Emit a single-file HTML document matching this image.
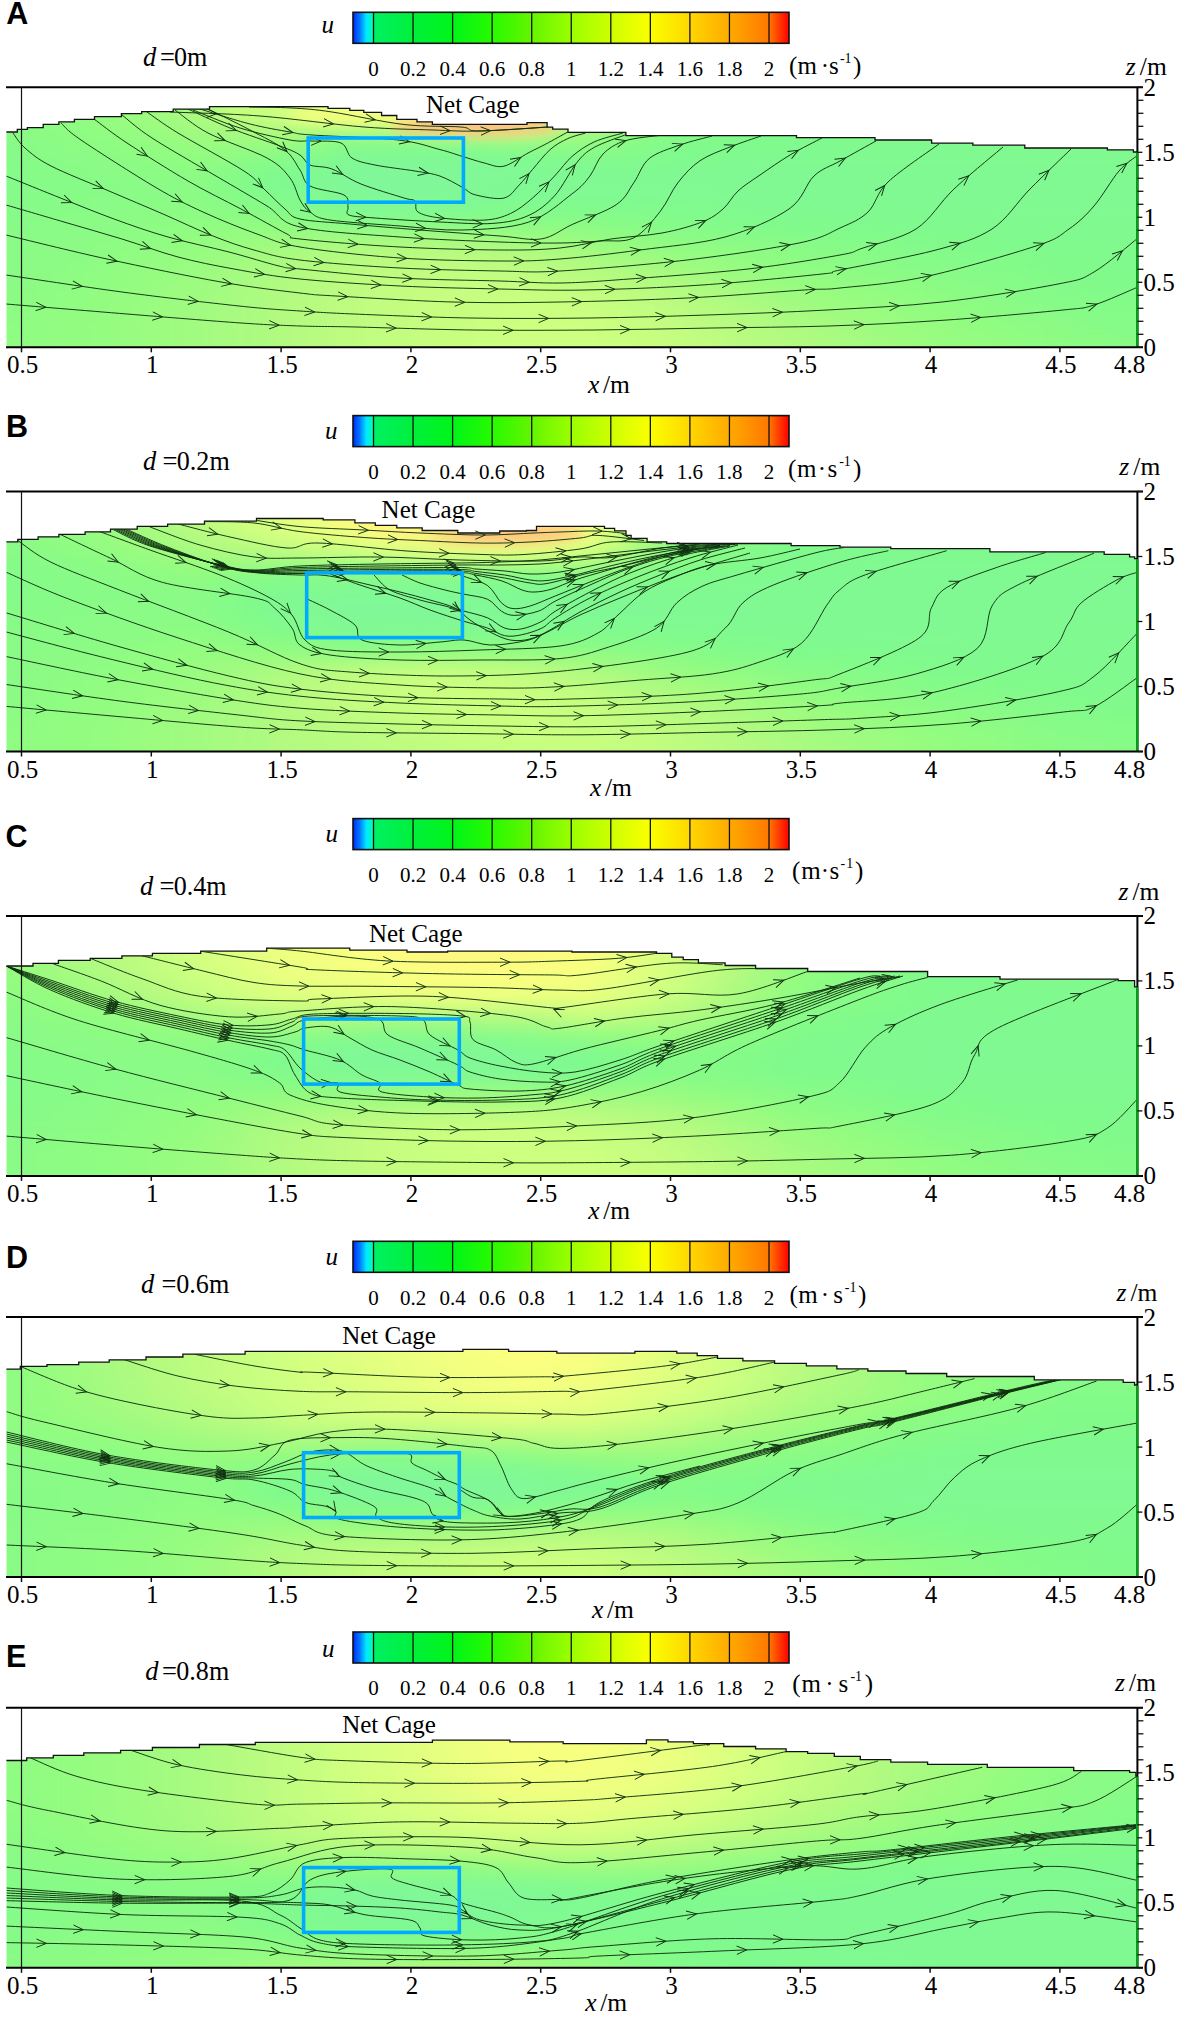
<!DOCTYPE html><html><head><meta charset="utf-8"><style>html,body{margin:0;padding:0;background:#fff;overflow:hidden;}
svg{display:block}
.tk{font-family:"Liberation Serif","Times New Roman",serif;fill:#000}
.it{font-family:"Liberation Serif","Times New Roman",serif;font-style:italic}
.lab{font-family:"Liberation Sans",Arial,sans-serif;font-weight:bold;font-size:30.5px;fill:#000}
.div{stroke:#111;stroke-width:1.3}
.ax{stroke:#000;stroke-width:2}
.sl path{fill:none;stroke:#0f300f;stroke-width:0.95}
.ar path{fill:none;stroke:#0f300f;stroke-width:0.95}
</style></head><body><svg width="1181" height="2019" viewBox="0 0 1181 2019"><defs><linearGradient id="cbg" x1="353" x2="789" y1="0" y2="0" gradientUnits="userSpaceOnUse"><stop offset="0.0000" stop-color="#0028ff"/><stop offset="0.0153" stop-color="#0078ff"/><stop offset="0.0311" stop-color="#00ebff"/><stop offset="0.0466" stop-color="#00ffaa"/><stop offset="0.0470" stop-color="#00f064"/><stop offset="0.1377" stop-color="#00f03c"/><stop offset="0.2284" stop-color="#00f519"/><stop offset="0.3192" stop-color="#28fa00"/><stop offset="0.4099" stop-color="#64f500"/><stop offset="0.5006" stop-color="#9bff00"/><stop offset="0.5913" stop-color="#cdff00"/><stop offset="0.6820" stop-color="#faff00"/><stop offset="0.7727" stop-color="#ffd700"/><stop offset="0.8634" stop-color="#ffaa00"/><stop offset="0.9541" stop-color="#ff7800"/><stop offset="0.9995" stop-color="#ff0000"/></linearGradient><filter id="blur" x="-5%" y="-20%" width="110%" height="140%"><feGaussianBlur stdDeviation="9"/></filter><filter id="blur2" x="-50%" y="-50%" width="200%" height="200%"><feGaussianBlur stdDeviation="6"/></filter></defs><text x="6.3" y="23.9" class="lab">A</text>
<text x="321.5" y="32.5" class="it" font-size="25">u</text>
<rect x="353" y="12.3" width="436" height="31" fill="url(#cbg)"/>
<line x1="373.50" x2="373.50" y1="12.3" y2="43.3" class="div"/>
<line x1="413.05" x2="413.05" y1="12.3" y2="43.3" class="div"/>
<line x1="452.60" x2="452.60" y1="12.3" y2="43.3" class="div"/>
<line x1="492.15" x2="492.15" y1="12.3" y2="43.3" class="div"/>
<line x1="531.70" x2="531.70" y1="12.3" y2="43.3" class="div"/>
<line x1="571.25" x2="571.25" y1="12.3" y2="43.3" class="div"/>
<line x1="610.80" x2="610.80" y1="12.3" y2="43.3" class="div"/>
<line x1="650.35" x2="650.35" y1="12.3" y2="43.3" class="div"/>
<line x1="689.90" x2="689.90" y1="12.3" y2="43.3" class="div"/>
<line x1="729.45" x2="729.45" y1="12.3" y2="43.3" class="div"/>
<line x1="769.00" x2="769.00" y1="12.3" y2="43.3" class="div"/>
<rect x="353" y="12.3" width="436" height="31" fill="none" stroke="#111" stroke-width="1.6"/>
<text x="373.50" y="75.5" class="tk" text-anchor="middle" font-size="21">0</text>
<text x="413.05" y="75.5" class="tk" text-anchor="middle" font-size="21">0.2</text>
<text x="452.60" y="75.5" class="tk" text-anchor="middle" font-size="21">0.4</text>
<text x="492.15" y="75.5" class="tk" text-anchor="middle" font-size="21">0.6</text>
<text x="531.70" y="75.5" class="tk" text-anchor="middle" font-size="21">0.8</text>
<text x="571.25" y="75.5" class="tk" text-anchor="middle" font-size="21">1</text>
<text x="610.80" y="75.5" class="tk" text-anchor="middle" font-size="21">1.2</text>
<text x="650.35" y="75.5" class="tk" text-anchor="middle" font-size="21">1.4</text>
<text x="689.90" y="75.5" class="tk" text-anchor="middle" font-size="21">1.6</text>
<text x="729.45" y="75.5" class="tk" text-anchor="middle" font-size="21">1.8</text>
<text x="769.00" y="75.5" class="tk" text-anchor="middle" font-size="21">2</text>
<text x="788.9" y="73.5" class="tk" font-size="25">(</text>
<text x="797.4" y="73.5" class="tk" font-size="25">m</text>
<text x="825" y="73.5" class="tk" font-size="25" text-anchor="middle">&#183;</text>
<text x="829" y="73.5" class="tk" font-size="25">s</text>
<text x="839.9" y="62.5" class="tk" font-size="14">-</text>
<text x="844.5" y="62.5" class="tk" font-size="14">1</text>
<text x="853" y="73.5" class="tk" font-size="25">)</text>
<text x="143" y="65.8" class="it" font-size="26.5">d</text>
<text x="159.9" y="65.8" class="tk" font-size="26.5">=</text>
<text transform="translate(173.9,65.8) scale(0.985,1)" class="tk" font-size="26.5">0m</text>
<text x="1125.8" y="74.8" class="it" font-size="25.5">z</text>
<text x="1139.8" y="74.8" class="tk" font-size="25.5">/m</text>
<clipPath id="cl0"><path d="M6.5,347.3 L6.4,132.0 L17.3,132.0 L17.3,129.4 L27.4,129.4 L27.4,127.7 L43.2,127.7 L43.2,124.4 L58.9,124.4 L58.9,121.8 L74.4,121.8 L74.4,119.3 L94.5,119.3 L94.5,116.7 L121.4,116.7 L121.4,113.7 L141.7,113.7 L141.7,111.7 L173.2,111.7 L173.2,109.1 L209.5,109.1 L209.5,106.6 L328.0,106.6 L328.0,108.4 L349.8,108.4 L349.8,110.4 L363.8,110.4 L363.8,112.4 L381.6,112.4 L381.6,115.5 L396.8,115.5 L396.8,119.3 L417.0,119.3 L417.0,121.8 L432.4,121.8 L432.4,124.4 L527.0,124.4 L527.0,122.6 L547.1,122.6 L547.1,127.2 L552.7,127.2 L552.7,129.2 L568.0,129.2 L568.0,132.3 L625.9,132.3 L625.9,135.6 L796.5,135.6 L796.5,137.6 L875.0,137.6 L875.0,140.0 L931.6,140.0 L931.6,143.1 L972.9,143.1 L972.9,145.2 L1024.8,145.2 L1024.8,148.0 L1107.4,148.0 L1107.4,149.8 L1133.4,149.8 L1133.4,152.0 L1138.0,152.0 L1138,347.3 Z"/></clipPath>
<g clip-path="url(#cl0)"><g filter="url(#blur)"><rect x="-30" y="57" width="31" height="21" fill="#8afb86"/><rect x="0" y="57" width="31" height="21" fill="#8afb85"/><rect x="30" y="57" width="31" height="21" fill="#8efc83"/><rect x="60" y="57" width="31" height="21" fill="#91fc81"/><rect x="90" y="57" width="31" height="21" fill="#95fc80"/><rect x="120" y="57" width="31" height="21" fill="#9efc80"/><rect x="150" y="57" width="31" height="21" fill="#a6fb80"/><rect x="180" y="57" width="31" height="21" fill="#affa80"/><rect x="210" y="57" width="31" height="21" fill="#b9fb80"/><rect x="240" y="57" width="31" height="21" fill="#c4fd80"/><rect x="270" y="57" width="31" height="21" fill="#ceff80"/><rect x="300" y="57" width="31" height="21" fill="#d8ff80"/><rect x="330" y="57" width="31" height="21" fill="#e2ff80"/><rect x="360" y="57" width="31" height="21" fill="#edff80"/><rect x="390" y="57" width="31" height="21" fill="#faff80"/><rect x="420" y="57" width="31" height="21" fill="#fef680"/><rect x="450" y="57" width="31" height="21" fill="#fef180"/><rect x="480" y="57" width="31" height="21" fill="#ffee80"/><rect x="510" y="57" width="31" height="21" fill="#fef480"/><rect x="540" y="57" width="31" height="21" fill="#eaff80"/><rect x="570" y="57" width="31" height="21" fill="#c9fe80"/><rect x="600" y="57" width="31" height="21" fill="#affa80"/><rect x="630" y="57" width="31" height="21" fill="#98fc80"/><rect x="660" y="57" width="31" height="21" fill="#89fb86"/><rect x="690" y="57" width="31" height="21" fill="#87fb87"/><rect x="720" y="57" width="31" height="21" fill="#85fb89"/><rect x="750" y="57" width="31" height="21" fill="#82fa8a"/><rect x="780" y="57" width="391" height="21" fill="#80fa8c"/><rect x="-30" y="77" width="31" height="21" fill="#8afb86"/><rect x="0" y="77" width="31" height="21" fill="#8afb85"/><rect x="30" y="77" width="31" height="21" fill="#8efc83"/><rect x="60" y="77" width="31" height="21" fill="#91fc81"/><rect x="90" y="77" width="31" height="21" fill="#95fc80"/><rect x="120" y="77" width="31" height="21" fill="#9efc80"/><rect x="150" y="77" width="31" height="21" fill="#a6fb80"/><rect x="180" y="77" width="31" height="21" fill="#affa80"/><rect x="210" y="77" width="31" height="21" fill="#b9fb80"/><rect x="240" y="77" width="31" height="21" fill="#c4fd80"/><rect x="270" y="77" width="31" height="21" fill="#ceff80"/><rect x="300" y="77" width="31" height="21" fill="#d8ff80"/><rect x="330" y="77" width="31" height="21" fill="#e2ff80"/><rect x="360" y="77" width="31" height="21" fill="#edff80"/><rect x="390" y="77" width="31" height="21" fill="#faff80"/><rect x="420" y="77" width="31" height="21" fill="#fef680"/><rect x="450" y="77" width="31" height="21" fill="#fef180"/><rect x="480" y="77" width="31" height="21" fill="#ffee80"/><rect x="510" y="77" width="31" height="21" fill="#fef480"/><rect x="540" y="77" width="31" height="21" fill="#eaff80"/><rect x="570" y="77" width="31" height="21" fill="#c9fe80"/><rect x="600" y="77" width="31" height="21" fill="#affa80"/><rect x="630" y="77" width="31" height="21" fill="#98fc80"/><rect x="660" y="77" width="31" height="21" fill="#89fb86"/><rect x="690" y="77" width="31" height="21" fill="#87fb87"/><rect x="720" y="77" width="31" height="21" fill="#85fb89"/><rect x="750" y="77" width="31" height="21" fill="#82fa8a"/><rect x="780" y="77" width="391" height="21" fill="#80fa8c"/><rect x="-30" y="97" width="31" height="21" fill="#8afb86"/><rect x="0" y="97" width="31" height="21" fill="#8afb85"/><rect x="30" y="97" width="31" height="21" fill="#8efc83"/><rect x="60" y="97" width="31" height="21" fill="#91fc81"/><rect x="90" y="97" width="31" height="21" fill="#95fc80"/><rect x="120" y="97" width="31" height="21" fill="#9efc80"/><rect x="150" y="97" width="31" height="21" fill="#a6fb80"/><rect x="180" y="97" width="31" height="21" fill="#affa80"/><rect x="210" y="97" width="31" height="21" fill="#b9fb80"/><rect x="240" y="97" width="31" height="21" fill="#c4fd80"/><rect x="270" y="97" width="31" height="21" fill="#ceff80"/><rect x="300" y="97" width="31" height="21" fill="#d8ff80"/><rect x="330" y="97" width="31" height="21" fill="#e2ff80"/><rect x="360" y="97" width="31" height="21" fill="#edff80"/><rect x="390" y="97" width="31" height="21" fill="#faff80"/><rect x="420" y="97" width="31" height="21" fill="#fef680"/><rect x="450" y="97" width="31" height="21" fill="#fef180"/><rect x="480" y="97" width="31" height="21" fill="#ffee80"/><rect x="510" y="97" width="31" height="21" fill="#fef480"/><rect x="540" y="97" width="31" height="21" fill="#eaff80"/><rect x="570" y="97" width="31" height="21" fill="#c9fe80"/><rect x="600" y="97" width="31" height="21" fill="#affa80"/><rect x="630" y="97" width="31" height="21" fill="#98fc80"/><rect x="660" y="97" width="31" height="21" fill="#89fb86"/><rect x="690" y="97" width="31" height="21" fill="#87fb87"/><rect x="720" y="97" width="31" height="21" fill="#85fb89"/><rect x="750" y="97" width="31" height="21" fill="#82fa8a"/><rect x="780" y="97" width="391" height="21" fill="#80fa8c"/><rect x="-30" y="117" width="31" height="21" fill="#8afb86"/><rect x="0" y="117" width="31" height="21" fill="#8afb85"/><rect x="30" y="117" width="31" height="21" fill="#8dfc84"/><rect x="60" y="117" width="31" height="21" fill="#8ffc82"/><rect x="90" y="117" width="31" height="21" fill="#92fc81"/><rect x="120" y="117" width="31" height="21" fill="#97fc80"/><rect x="150" y="117" width="31" height="21" fill="#9dfc80"/><rect x="180" y="117" width="31" height="21" fill="#a4fb80"/><rect x="210" y="117" width="31" height="21" fill="#aafb80"/><rect x="240" y="117" width="31" height="21" fill="#b1fa80"/><rect x="270" y="117" width="31" height="21" fill="#b6fb80"/><rect x="300" y="117" width="31" height="21" fill="#b4fb80"/><rect x="330" y="117" width="31" height="21" fill="#b2fa80"/><rect x="360" y="117" width="31" height="21" fill="#b5fb80"/><rect x="390" y="117" width="31" height="21" fill="#bcfc80"/><rect x="420" y="117" width="31" height="21" fill="#c4fd80"/><rect x="450" y="117" width="31" height="21" fill="#c9fe80"/><rect x="480" y="117" width="31" height="21" fill="#ceff80"/><rect x="510" y="117" width="31" height="21" fill="#ccff80"/><rect x="540" y="117" width="31" height="21" fill="#bdfc80"/><rect x="570" y="117" width="31" height="21" fill="#adfa80"/><rect x="600" y="117" width="31" height="21" fill="#9dfc80"/><rect x="630" y="117" width="31" height="21" fill="#8ffc82"/><rect x="660" y="117" width="31" height="21" fill="#87fb88"/><rect x="690" y="117" width="31" height="21" fill="#85fb89"/><rect x="720" y="117" width="31" height="21" fill="#83fa8a"/><rect x="750" y="117" width="31" height="21" fill="#81fa8b"/><rect x="780" y="117" width="391" height="21" fill="#80fa8c"/><rect x="-30" y="137" width="31" height="21" fill="#88fb87"/><rect x="0" y="137" width="31" height="21" fill="#88fb86"/><rect x="30" y="137" width="31" height="21" fill="#8afb85"/><rect x="60" y="137" width="31" height="21" fill="#8cfc84"/><rect x="90" y="137" width="31" height="21" fill="#8dfc83"/><rect x="120" y="137" width="31" height="21" fill="#90fc82"/><rect x="150" y="137" width="31" height="21" fill="#92fc80"/><rect x="180" y="137" width="31" height="21" fill="#95fc80"/><rect x="210" y="137" width="31" height="21" fill="#96fc80"/><rect x="240" y="137" width="31" height="21" fill="#95fc80"/><rect x="270" y="137" width="31" height="21" fill="#93fc80"/><rect x="300" y="137" width="31" height="21" fill="#8bfb85"/><rect x="330" y="137" width="31" height="21" fill="#82fa8a"/><rect x="360" y="137" width="91" height="21" fill="#80fa8d"/><rect x="450" y="137" width="31" height="21" fill="#81fa8b"/><rect x="480" y="137" width="31" height="21" fill="#85fb89"/><rect x="510" y="137" width="31" height="21" fill="#87fb87"/><rect x="540" y="137" width="31" height="21" fill="#89fb86"/><rect x="570" y="137" width="31" height="21" fill="#8bfb85"/><rect x="600" y="137" width="31" height="21" fill="#89fb86"/><rect x="630" y="137" width="31" height="21" fill="#85fb89"/><rect x="660" y="137" width="31" height="21" fill="#81fa8b"/><rect x="690" y="137" width="31" height="21" fill="#80fa8b"/><rect x="720" y="137" width="31" height="21" fill="#80fa8c"/><rect x="750" y="137" width="31" height="21" fill="#80fa8d"/><rect x="780" y="137" width="391" height="21" fill="#80fa8e"/><rect x="-30" y="157" width="31" height="21" fill="#84fb89"/><rect x="0" y="157" width="31" height="21" fill="#85fb89"/><rect x="30" y="157" width="31" height="21" fill="#87fb88"/><rect x="60" y="157" width="31" height="21" fill="#88fb87"/><rect x="90" y="157" width="31" height="21" fill="#8afb86"/><rect x="120" y="157" width="31" height="21" fill="#8bfb85"/><rect x="150" y="157" width="31" height="21" fill="#8cfc84"/><rect x="180" y="157" width="31" height="21" fill="#8efc83"/><rect x="210" y="157" width="31" height="21" fill="#8afb85"/><rect x="240" y="157" width="31" height="21" fill="#84fb89"/><rect x="270" y="157" width="31" height="21" fill="#80fa8d"/><rect x="300" y="157" width="31" height="21" fill="#80f992"/><rect x="330" y="157" width="31" height="21" fill="#80f897"/><rect x="360" y="157" width="91" height="21" fill="#80f899"/><rect x="450" y="157" width="31" height="21" fill="#80f898"/><rect x="480" y="157" width="31" height="21" fill="#80f996"/><rect x="510" y="157" width="31" height="21" fill="#80f994"/><rect x="540" y="157" width="31" height="21" fill="#80f993"/><rect x="570" y="157" width="181" height="21" fill="#80f991"/><rect x="750" y="157" width="421" height="21" fill="#80f992"/><rect x="-30" y="177" width="31" height="21" fill="#84fb89"/><rect x="0" y="177" width="31" height="21" fill="#85fb89"/><rect x="30" y="177" width="31" height="21" fill="#86fb88"/><rect x="60" y="177" width="31" height="21" fill="#87fb87"/><rect x="90" y="177" width="31" height="21" fill="#88fb87"/><rect x="120" y="177" width="61" height="21" fill="#89fb86"/><rect x="180" y="177" width="31" height="21" fill="#8afb85"/><rect x="210" y="177" width="31" height="21" fill="#86fb88"/><rect x="240" y="177" width="31" height="21" fill="#80fa8c"/><rect x="270" y="177" width="31" height="21" fill="#80f990"/><rect x="300" y="177" width="31" height="21" fill="#80f994"/><rect x="330" y="177" width="31" height="21" fill="#80f897"/><rect x="360" y="177" width="91" height="21" fill="#80f899"/><rect x="450" y="177" width="31" height="21" fill="#80f898"/><rect x="480" y="177" width="31" height="21" fill="#80f996"/><rect x="510" y="177" width="31" height="21" fill="#80f995"/><rect x="540" y="177" width="91" height="21" fill="#80f994"/><rect x="630" y="177" width="361" height="21" fill="#80f993"/><rect x="990" y="177" width="181" height="21" fill="#80f992"/><rect x="-30" y="197" width="31" height="21" fill="#86fb88"/><rect x="0" y="197" width="31" height="21" fill="#87fb88"/><rect x="30" y="197" width="31" height="21" fill="#87fb87"/><rect x="60" y="197" width="31" height="21" fill="#88fb87"/><rect x="90" y="197" width="31" height="21" fill="#89fb86"/><rect x="120" y="197" width="31" height="21" fill="#8afb85"/><rect x="150" y="197" width="31" height="21" fill="#8bfb85"/><rect x="180" y="197" width="31" height="21" fill="#8cfc84"/><rect x="210" y="197" width="31" height="21" fill="#8afb85"/><rect x="240" y="197" width="31" height="21" fill="#87fb88"/><rect x="270" y="197" width="31" height="21" fill="#83fa8a"/><rect x="300" y="197" width="31" height="21" fill="#80fa8d"/><rect x="330" y="197" width="31" height="21" fill="#80f992"/><rect x="360" y="197" width="91" height="21" fill="#80f994"/><rect x="450" y="197" width="31" height="21" fill="#80f992"/><rect x="480" y="197" width="31" height="21" fill="#80f990"/><rect x="510" y="197" width="31" height="21" fill="#80fa8f"/><rect x="540" y="197" width="31" height="21" fill="#80fa8e"/><rect x="570" y="197" width="61" height="21" fill="#80fa8d"/><rect x="630" y="197" width="31" height="21" fill="#80fa8e"/><rect x="660" y="197" width="61" height="21" fill="#80fa8f"/><rect x="720" y="197" width="31" height="21" fill="#80f990"/><rect x="750" y="197" width="421" height="21" fill="#80f991"/><rect x="-30" y="217" width="31" height="21" fill="#88fb87"/><rect x="0" y="217" width="31" height="21" fill="#88fb86"/><rect x="30" y="217" width="31" height="21" fill="#89fb86"/><rect x="60" y="217" width="31" height="21" fill="#8afb86"/><rect x="90" y="217" width="31" height="21" fill="#8bfb85"/><rect x="120" y="217" width="31" height="21" fill="#8cfc84"/><rect x="150" y="217" width="31" height="21" fill="#8efc83"/><rect x="180" y="217" width="31" height="21" fill="#90fc82"/><rect x="210" y="217" width="91" height="21" fill="#91fc81"/><rect x="300" y="217" width="31" height="21" fill="#8ffc83"/><rect x="330" y="217" width="31" height="21" fill="#8cfc84"/><rect x="360" y="217" width="61" height="21" fill="#8bfb85"/><rect x="420" y="217" width="61" height="21" fill="#8cfc84"/><rect x="480" y="217" width="91" height="21" fill="#8dfc84"/><rect x="570" y="217" width="31" height="21" fill="#8cfc84"/><rect x="600" y="217" width="31" height="21" fill="#8afb85"/><rect x="630" y="217" width="31" height="21" fill="#88fb87"/><rect x="660" y="217" width="31" height="21" fill="#85fb89"/><rect x="690" y="217" width="31" height="21" fill="#84fb89"/><rect x="720" y="217" width="31" height="21" fill="#82fa8a"/><rect x="750" y="217" width="31" height="21" fill="#81fa8b"/><rect x="780" y="217" width="61" height="21" fill="#80fa8c"/><rect x="840" y="217" width="61" height="21" fill="#80fa8d"/><rect x="900" y="217" width="91" height="21" fill="#80fa8e"/><rect x="990" y="217" width="181" height="21" fill="#80fa8f"/><rect x="-30" y="237" width="61" height="21" fill="#8afb86"/><rect x="30" y="237" width="61" height="21" fill="#8bfb85"/><rect x="90" y="237" width="31" height="21" fill="#8cfc84"/><rect x="120" y="237" width="31" height="21" fill="#8ffc82"/><rect x="150" y="237" width="31" height="21" fill="#91fc81"/><rect x="180" y="237" width="31" height="21" fill="#94fc80"/><rect x="210" y="237" width="31" height="21" fill="#99fc80"/><rect x="240" y="237" width="31" height="21" fill="#9ffc80"/><rect x="270" y="237" width="31" height="21" fill="#a5fb80"/><rect x="300" y="237" width="31" height="21" fill="#aafb80"/><rect x="330" y="237" width="31" height="21" fill="#affa80"/><rect x="360" y="237" width="31" height="21" fill="#b2fa80"/><rect x="390" y="237" width="31" height="21" fill="#b3fa80"/><rect x="420" y="237" width="31" height="21" fill="#b4fa80"/><rect x="450" y="237" width="31" height="21" fill="#b2fa80"/><rect x="480" y="237" width="31" height="21" fill="#affa80"/><rect x="510" y="237" width="31" height="21" fill="#abfb80"/><rect x="540" y="237" width="31" height="21" fill="#a6fb80"/><rect x="570" y="237" width="31" height="21" fill="#a0fb80"/><rect x="600" y="237" width="31" height="21" fill="#9afc80"/><rect x="630" y="237" width="31" height="21" fill="#94fc80"/><rect x="660" y="237" width="31" height="21" fill="#91fc81"/><rect x="690" y="237" width="31" height="21" fill="#8ffc83"/><rect x="720" y="237" width="31" height="21" fill="#8dfc84"/><rect x="750" y="237" width="31" height="21" fill="#8bfb85"/><rect x="780" y="237" width="31" height="21" fill="#89fb86"/><rect x="810" y="237" width="31" height="21" fill="#87fb87"/><rect x="840" y="237" width="31" height="21" fill="#86fb88"/><rect x="870" y="237" width="31" height="21" fill="#85fb89"/><rect x="900" y="237" width="31" height="21" fill="#83fa8a"/><rect x="930" y="237" width="31" height="21" fill="#82fa8a"/><rect x="960" y="237" width="31" height="21" fill="#81fa8b"/><rect x="990" y="237" width="61" height="21" fill="#80fa8c"/><rect x="1050" y="237" width="121" height="21" fill="#80fa8d"/><rect x="-30" y="257" width="31" height="21" fill="#8afb86"/><rect x="0" y="257" width="31" height="21" fill="#8afb85"/><rect x="30" y="257" width="31" height="21" fill="#8bfb85"/><rect x="60" y="257" width="31" height="21" fill="#8dfc84"/><rect x="90" y="257" width="31" height="21" fill="#8ffc82"/><rect x="120" y="257" width="31" height="21" fill="#92fc81"/><rect x="150" y="257" width="31" height="21" fill="#95fc80"/><rect x="180" y="257" width="31" height="21" fill="#99fc80"/><rect x="210" y="257" width="31" height="21" fill="#a0fb80"/><rect x="240" y="257" width="31" height="21" fill="#a7fb80"/><rect x="270" y="257" width="31" height="21" fill="#aefa80"/><rect x="300" y="257" width="31" height="21" fill="#b4fa80"/><rect x="330" y="257" width="31" height="21" fill="#b9fb80"/><rect x="360" y="257" width="31" height="21" fill="#bdfc80"/><rect x="390" y="257" width="31" height="21" fill="#bffc80"/><rect x="420" y="257" width="31" height="21" fill="#c1fd80"/><rect x="450" y="257" width="31" height="21" fill="#c0fd80"/><rect x="480" y="257" width="31" height="21" fill="#befc80"/><rect x="510" y="257" width="31" height="21" fill="#bcfc80"/><rect x="540" y="257" width="31" height="21" fill="#b7fb80"/><rect x="570" y="257" width="31" height="21" fill="#b1fa80"/><rect x="600" y="257" width="31" height="21" fill="#abfb80"/><rect x="630" y="257" width="31" height="21" fill="#a6fb80"/><rect x="660" y="257" width="31" height="21" fill="#a0fb80"/><rect x="690" y="257" width="31" height="21" fill="#9bfc80"/><rect x="720" y="257" width="31" height="21" fill="#96fc80"/><rect x="750" y="257" width="31" height="21" fill="#92fc81"/><rect x="780" y="257" width="31" height="21" fill="#8ffc83"/><rect x="810" y="257" width="31" height="21" fill="#8dfc84"/><rect x="840" y="257" width="31" height="21" fill="#8bfb85"/><rect x="870" y="257" width="31" height="21" fill="#89fb86"/><rect x="900" y="257" width="31" height="21" fill="#88fb87"/><rect x="930" y="257" width="31" height="21" fill="#86fb88"/><rect x="960" y="257" width="31" height="21" fill="#85fb89"/><rect x="990" y="257" width="31" height="21" fill="#84fb89"/><rect x="1020" y="257" width="31" height="21" fill="#82fa8a"/><rect x="1050" y="257" width="31" height="21" fill="#81fa8b"/><rect x="1080" y="257" width="31" height="21" fill="#80fa8b"/><rect x="1110" y="257" width="61" height="21" fill="#80fa8c"/><rect x="-30" y="277" width="61" height="21" fill="#8bfb85"/><rect x="30" y="277" width="31" height="21" fill="#8dfc83"/><rect x="60" y="277" width="31" height="21" fill="#8ffc82"/><rect x="90" y="277" width="31" height="21" fill="#91fc81"/><rect x="120" y="277" width="31" height="21" fill="#94fc80"/><rect x="150" y="277" width="31" height="21" fill="#99fc80"/><rect x="180" y="277" width="31" height="21" fill="#9dfc80"/><rect x="210" y="277" width="31" height="21" fill="#a3fb80"/><rect x="240" y="277" width="31" height="21" fill="#aafb80"/><rect x="270" y="277" width="31" height="21" fill="#b1fa80"/><rect x="300" y="277" width="31" height="21" fill="#b7fb80"/><rect x="330" y="277" width="31" height="21" fill="#bcfc80"/><rect x="360" y="277" width="31" height="21" fill="#c0fd80"/><rect x="390" y="277" width="31" height="21" fill="#c2fd80"/><rect x="420" y="277" width="31" height="21" fill="#c5fd80"/><rect x="450" y="277" width="91" height="21" fill="#c6fe80"/><rect x="540" y="277" width="31" height="21" fill="#c3fd80"/><rect x="570" y="277" width="31" height="21" fill="#c0fd80"/><rect x="600" y="277" width="31" height="21" fill="#bcfc80"/><rect x="630" y="277" width="31" height="21" fill="#b7fb80"/><rect x="660" y="277" width="31" height="21" fill="#b1fa80"/><rect x="690" y="277" width="31" height="21" fill="#abfb80"/><rect x="720" y="277" width="31" height="21" fill="#a4fb80"/><rect x="750" y="277" width="31" height="21" fill="#9efc80"/><rect x="780" y="277" width="31" height="21" fill="#98fc80"/><rect x="810" y="277" width="31" height="21" fill="#94fc80"/><rect x="840" y="277" width="31" height="21" fill="#92fc81"/><rect x="870" y="277" width="31" height="21" fill="#90fc82"/><rect x="900" y="277" width="31" height="21" fill="#8dfc83"/><rect x="930" y="277" width="31" height="21" fill="#8bfb85"/><rect x="960" y="277" width="31" height="21" fill="#89fb86"/><rect x="990" y="277" width="31" height="21" fill="#87fb87"/><rect x="1020" y="277" width="31" height="21" fill="#85fb88"/><rect x="1050" y="277" width="31" height="21" fill="#83fa8a"/><rect x="1080" y="277" width="31" height="21" fill="#82fa8a"/><rect x="1110" y="277" width="61" height="21" fill="#81fa8b"/><rect x="-30" y="297" width="31" height="21" fill="#8dfc84"/><rect x="0" y="297" width="31" height="21" fill="#8dfc83"/><rect x="30" y="297" width="31" height="21" fill="#8ffc82"/><rect x="60" y="297" width="31" height="21" fill="#91fc81"/><rect x="90" y="297" width="31" height="21" fill="#93fc80"/><rect x="120" y="297" width="31" height="21" fill="#97fc80"/><rect x="150" y="297" width="31" height="21" fill="#9bfc80"/><rect x="180" y="297" width="31" height="21" fill="#a0fb80"/><rect x="210" y="297" width="31" height="21" fill="#a6fb80"/><rect x="240" y="297" width="31" height="21" fill="#acfa80"/><rect x="270" y="297" width="31" height="21" fill="#b2fa80"/><rect x="300" y="297" width="31" height="21" fill="#b7fb80"/><rect x="330" y="297" width="31" height="21" fill="#bdfc80"/><rect x="360" y="297" width="31" height="21" fill="#c1fd80"/><rect x="390" y="297" width="31" height="21" fill="#c3fd80"/><rect x="420" y="297" width="31" height="21" fill="#c6fe80"/><rect x="450" y="297" width="31" height="21" fill="#c8fe80"/><rect x="480" y="297" width="31" height="21" fill="#cafe80"/><rect x="510" y="297" width="31" height="21" fill="#cbff80"/><rect x="540" y="297" width="31" height="21" fill="#caff80"/><rect x="570" y="297" width="31" height="21" fill="#cafe80"/><rect x="600" y="297" width="31" height="21" fill="#c6fe80"/><rect x="630" y="297" width="31" height="21" fill="#c1fd80"/><rect x="660" y="297" width="31" height="21" fill="#bcfc80"/><rect x="690" y="297" width="31" height="21" fill="#b6fb80"/><rect x="720" y="297" width="31" height="21" fill="#b0fa80"/><rect x="750" y="297" width="31" height="21" fill="#aafb80"/><rect x="780" y="297" width="31" height="21" fill="#a3fb80"/><rect x="810" y="297" width="31" height="21" fill="#9efc80"/><rect x="840" y="297" width="31" height="21" fill="#9afc80"/><rect x="870" y="297" width="31" height="21" fill="#96fc80"/><rect x="900" y="297" width="31" height="21" fill="#92fc80"/><rect x="930" y="297" width="31" height="21" fill="#90fc82"/><rect x="960" y="297" width="31" height="21" fill="#8dfc83"/><rect x="990" y="297" width="31" height="21" fill="#8bfb85"/><rect x="1020" y="297" width="31" height="21" fill="#89fb86"/><rect x="1050" y="297" width="31" height="21" fill="#87fb88"/><rect x="1080" y="297" width="31" height="21" fill="#85fb89"/><rect x="1110" y="297" width="31" height="21" fill="#84fb89"/><rect x="1140" y="297" width="31" height="21" fill="#83fa8a"/><rect x="-30" y="317" width="31" height="21" fill="#8efc83"/><rect x="0" y="317" width="31" height="21" fill="#8ffc82"/><rect x="30" y="317" width="31" height="21" fill="#91fc81"/><rect x="60" y="317" width="31" height="21" fill="#92fc80"/><rect x="90" y="317" width="31" height="21" fill="#94fc80"/><rect x="120" y="317" width="31" height="21" fill="#99fc80"/><rect x="150" y="317" width="31" height="21" fill="#9dfc80"/><rect x="180" y="317" width="31" height="21" fill="#a1fb80"/><rect x="210" y="317" width="31" height="21" fill="#a7fb80"/><rect x="240" y="317" width="31" height="21" fill="#acfa80"/><rect x="270" y="317" width="31" height="21" fill="#b2fa80"/><rect x="300" y="317" width="31" height="21" fill="#b7fb80"/><rect x="330" y="317" width="31" height="21" fill="#bdfc80"/><rect x="360" y="317" width="31" height="21" fill="#c1fd80"/><rect x="390" y="317" width="31" height="21" fill="#c3fd80"/><rect x="420" y="317" width="31" height="21" fill="#c6fe80"/><rect x="450" y="317" width="31" height="21" fill="#c9fe80"/><rect x="480" y="317" width="31" height="21" fill="#cbff80"/><rect x="510" y="317" width="91" height="21" fill="#cdff80"/><rect x="600" y="317" width="31" height="21" fill="#cafe80"/><rect x="630" y="317" width="31" height="21" fill="#c6fe80"/><rect x="660" y="317" width="31" height="21" fill="#c2fd80"/><rect x="690" y="317" width="31" height="21" fill="#bdfc80"/><rect x="720" y="317" width="31" height="21" fill="#b8fb80"/><rect x="750" y="317" width="31" height="21" fill="#b2fa80"/><rect x="780" y="317" width="31" height="21" fill="#adfa80"/><rect x="810" y="317" width="31" height="21" fill="#a7fb80"/><rect x="840" y="317" width="31" height="21" fill="#a2fb80"/><rect x="870" y="317" width="31" height="21" fill="#9dfc80"/><rect x="900" y="317" width="31" height="21" fill="#98fc80"/><rect x="930" y="317" width="31" height="21" fill="#94fc80"/><rect x="960" y="317" width="31" height="21" fill="#91fc81"/><rect x="990" y="317" width="31" height="21" fill="#8ffc82"/><rect x="1020" y="317" width="31" height="21" fill="#8dfc84"/><rect x="1050" y="317" width="31" height="21" fill="#8afb85"/><rect x="1080" y="317" width="31" height="21" fill="#88fb86"/><rect x="1110" y="317" width="61" height="21" fill="#86fb88"/><rect x="-30" y="337" width="31" height="21" fill="#8efc83"/><rect x="0" y="337" width="31" height="21" fill="#8ffc82"/><rect x="30" y="337" width="31" height="21" fill="#91fc81"/><rect x="60" y="337" width="31" height="21" fill="#92fc80"/><rect x="90" y="337" width="31" height="21" fill="#94fc80"/><rect x="120" y="337" width="31" height="21" fill="#99fc80"/><rect x="150" y="337" width="31" height="21" fill="#9dfc80"/><rect x="180" y="337" width="31" height="21" fill="#a1fb80"/><rect x="210" y="337" width="31" height="21" fill="#a7fb80"/><rect x="240" y="337" width="31" height="21" fill="#acfa80"/><rect x="270" y="337" width="31" height="21" fill="#b2fa80"/><rect x="300" y="337" width="31" height="21" fill="#b7fb80"/><rect x="330" y="337" width="31" height="21" fill="#bdfc80"/><rect x="360" y="337" width="31" height="21" fill="#c1fd80"/><rect x="390" y="337" width="31" height="21" fill="#c3fd80"/><rect x="420" y="337" width="31" height="21" fill="#c6fe80"/><rect x="450" y="337" width="31" height="21" fill="#c9fe80"/><rect x="480" y="337" width="31" height="21" fill="#cbff80"/><rect x="510" y="337" width="91" height="21" fill="#cdff80"/><rect x="600" y="337" width="31" height="21" fill="#cbff80"/><rect x="630" y="337" width="31" height="21" fill="#c8fe80"/><rect x="660" y="337" width="31" height="21" fill="#c5fe80"/><rect x="690" y="337" width="31" height="21" fill="#c1fd80"/><rect x="720" y="337" width="31" height="21" fill="#bcfc80"/><rect x="750" y="337" width="31" height="21" fill="#b7fb80"/><rect x="780" y="337" width="31" height="21" fill="#b2fa80"/><rect x="810" y="337" width="31" height="21" fill="#adfa80"/><rect x="840" y="337" width="31" height="21" fill="#a8fb80"/><rect x="870" y="337" width="31" height="21" fill="#a3fb80"/><rect x="900" y="337" width="31" height="21" fill="#9efc80"/><rect x="930" y="337" width="31" height="21" fill="#99fc80"/><rect x="960" y="337" width="31" height="21" fill="#96fc80"/><rect x="990" y="337" width="31" height="21" fill="#93fc80"/><rect x="1020" y="337" width="31" height="21" fill="#90fc81"/><rect x="1050" y="337" width="31" height="21" fill="#8efc83"/><rect x="1080" y="337" width="31" height="21" fill="#8cfc84"/><rect x="1110" y="337" width="31" height="21" fill="#8afb85"/><rect x="1140" y="337" width="31" height="21" fill="#8afb86"/><rect x="-30" y="357" width="31" height="21" fill="#8efc83"/><rect x="0" y="357" width="31" height="21" fill="#8ffc82"/><rect x="30" y="357" width="31" height="21" fill="#91fc81"/><rect x="60" y="357" width="31" height="21" fill="#92fc80"/><rect x="90" y="357" width="31" height="21" fill="#94fc80"/><rect x="120" y="357" width="31" height="21" fill="#99fc80"/><rect x="150" y="357" width="31" height="21" fill="#9dfc80"/><rect x="180" y="357" width="31" height="21" fill="#a1fb80"/><rect x="210" y="357" width="31" height="21" fill="#a7fb80"/><rect x="240" y="357" width="31" height="21" fill="#acfa80"/><rect x="270" y="357" width="31" height="21" fill="#b2fa80"/><rect x="300" y="357" width="31" height="21" fill="#b7fb80"/><rect x="330" y="357" width="31" height="21" fill="#bdfc80"/><rect x="360" y="357" width="31" height="21" fill="#c1fd80"/><rect x="390" y="357" width="31" height="21" fill="#c3fd80"/><rect x="420" y="357" width="31" height="21" fill="#c6fe80"/><rect x="450" y="357" width="31" height="21" fill="#c9fe80"/><rect x="480" y="357" width="31" height="21" fill="#cbff80"/><rect x="510" y="357" width="91" height="21" fill="#cdff80"/><rect x="600" y="357" width="31" height="21" fill="#cbff80"/><rect x="630" y="357" width="31" height="21" fill="#c8fe80"/><rect x="660" y="357" width="31" height="21" fill="#c5fe80"/><rect x="690" y="357" width="31" height="21" fill="#c1fd80"/><rect x="720" y="357" width="31" height="21" fill="#bcfc80"/><rect x="750" y="357" width="31" height="21" fill="#b7fb80"/><rect x="780" y="357" width="31" height="21" fill="#b2fa80"/><rect x="810" y="357" width="31" height="21" fill="#adfa80"/><rect x="840" y="357" width="31" height="21" fill="#a8fb80"/><rect x="870" y="357" width="31" height="21" fill="#a3fb80"/><rect x="900" y="357" width="31" height="21" fill="#9efc80"/><rect x="930" y="357" width="31" height="21" fill="#99fc80"/><rect x="960" y="357" width="31" height="21" fill="#96fc80"/><rect x="990" y="357" width="31" height="21" fill="#93fc80"/><rect x="1020" y="357" width="31" height="21" fill="#90fc81"/><rect x="1050" y="357" width="31" height="21" fill="#8efc83"/><rect x="1080" y="357" width="31" height="21" fill="#8cfc84"/><rect x="1110" y="357" width="31" height="21" fill="#8afb85"/><rect x="1140" y="357" width="31" height="21" fill="#8afb86"/></g><g filter="url(#blur2)"><ellipse cx="475" cy="126.3" rx="85" ry="10" fill="#ffc280" fill-opacity="1"/><ellipse cx="350" cy="115.3" rx="70" ry="10" fill="#fcff80" fill-opacity="0.8"/><ellipse cx="260" cy="112.3" rx="40" ry="10" fill="#cdff80" fill-opacity="0.6"/></g></g>
<path d="M6.4,132.0 L17.3,132.0 L17.3,129.4 L27.4,129.4 L27.4,127.7 L43.2,127.7 L43.2,124.4 L58.9,124.4 L58.9,121.8 L74.4,121.8 L74.4,119.3 L94.5,119.3 L94.5,116.7 L121.4,116.7 L121.4,113.7 L141.7,113.7 L141.7,111.7 L173.2,111.7 L173.2,109.1 L209.5,109.1 L209.5,106.6 L328.0,106.6 L328.0,108.4 L349.8,108.4 L349.8,110.4 L363.8,110.4 L363.8,112.4 L381.6,112.4 L381.6,115.5 L396.8,115.5 L396.8,119.3 L417.0,119.3 L417.0,121.8 L432.4,121.8 L432.4,124.4 L527.0,124.4 L527.0,122.6 L547.1,122.6 L547.1,127.2 L552.7,127.2 L552.7,129.2 L568.0,129.2 L568.0,132.3 L625.9,132.3 L625.9,135.6 L796.5,135.6 L796.5,137.6 L875.0,137.6 L875.0,140.0 L931.6,140.0 L931.6,143.1 L972.9,143.1 L972.9,145.2 L1024.8,145.2 L1024.8,148.0 L1107.4,148.0 L1107.4,149.8 L1133.4,149.8 L1133.4,152.0 L1138.0,152.0" fill="none" stroke="#111" stroke-width="1.3"/>
<g clip-path="url(#cl0)" class="sl"><path d="M6.0,304.0 C26.2,305.7 87.8,310.8 127.0,314.0 C166.2,317.2 212.2,321.0 241.0,323.0 C269.8,325.0 280.8,325.3 300.0,326.0 C319.2,326.7 327.2,326.3 356.0,327.0 C384.8,327.7 433.5,329.5 473.0,330.0 C512.5,330.5 553.2,330.3 593.0,330.0 C632.8,329.7 672.7,328.7 712.0,328.0 C751.3,327.3 789.8,327.3 829.0,326.0 C868.2,324.7 908.0,322.7 947.0,320.0 C986.0,317.3 1038.5,312.5 1063.0,310.0 C1087.5,307.5 1081.5,308.8 1094.0,305.0 C1106.5,301.2 1130.7,290.0 1138.0,287.0"/><path d="M6.0,275.0 C25.3,277.8 83.2,286.8 122.0,292.0 C160.8,297.2 209.3,302.8 239.0,306.0 C268.7,309.2 280.8,309.7 300.0,311.0 C319.2,312.3 325.7,312.8 354.0,314.0 C382.3,315.2 430.7,317.3 470.0,318.0 C509.3,318.7 550.5,318.5 590.0,318.0 C629.5,317.5 667.5,316.3 707.0,315.0 C746.5,313.7 787.8,312.2 827.0,310.0 C866.2,307.8 903.5,306.3 942.0,302.0 C980.5,297.7 1032.7,289.0 1058.0,284.0 C1083.3,279.0 1080.7,279.7 1094.0,272.0 C1107.3,264.3 1130.7,243.7 1138.0,238.0"/><path d="M6.0,235.0 C22.8,239.0 71.2,251.2 107.0,259.0 C142.8,266.8 188.8,276.3 221.0,282.0 C253.2,287.7 280.8,290.7 300.0,293.0 C319.2,295.3 310.5,294.5 336.0,296.0 C361.5,297.5 415.7,301.0 453.0,302.0 C490.3,303.0 521.0,302.7 560.0,302.0 C599.0,301.3 646.3,300.0 687.0,298.0 C727.7,296.0 778.5,291.7 804.0,290.0 C829.5,288.3 820.0,290.2 840.0,288.0 C860.0,285.8 891.3,284.0 924.0,277.0 C956.7,270.0 1011.8,254.0 1036.0,246.0 C1060.2,238.0 1059.3,235.7 1069.0,229.0 C1078.7,222.3 1085.7,215.7 1094.0,206.0 C1102.3,196.3 1111.7,179.5 1119.0,171.0 C1126.3,162.5 1134.8,157.7 1138.0,155.0"/><path d="M6.0,205.0 C15.7,207.8 44.7,216.3 64.0,222.0 C83.3,227.7 103.0,233.2 122.0,239.0 C141.0,244.8 159.3,252.0 178.0,257.0 C196.7,262.0 213.7,265.3 234.0,269.0 C254.3,272.7 272.3,276.2 300.0,279.0 C327.7,281.8 366.7,284.3 400.0,286.0 C433.3,287.7 469.2,288.3 500.0,289.0 C530.8,289.7 551.3,290.7 585.0,290.0 C618.7,289.3 662.5,287.7 702.0,285.0 C741.5,282.3 799.0,276.5 822.0,274.0 C845.0,271.5 821.0,274.0 840.0,270.0 C859.0,266.0 910.7,256.8 936.0,250.0 C961.3,243.2 976.3,239.2 992.0,229.0 C1007.7,218.8 1016.8,202.3 1030.0,189.0 C1043.2,175.7 1064.2,155.7 1071.0,149.0"/><path d="M6.0,176.0 C14.7,179.5 40.0,189.8 58.0,197.0 C76.0,204.2 95.7,212.3 114.0,219.0 C132.3,225.7 148.8,231.5 168.0,237.0 C187.2,242.5 210.5,247.2 229.0,252.0 C247.5,256.8 267.2,263.2 279.0,266.0 C290.8,268.8 279.8,267.0 300.0,269.0 C320.2,271.0 366.7,276.0 400.0,278.0 C433.3,280.0 473.3,280.2 500.0,281.0 C526.7,281.8 538.5,283.3 560.0,283.0 C581.5,282.7 597.7,281.3 629.0,279.0 C660.3,276.7 712.8,273.0 748.0,269.0 C783.2,265.0 820.8,258.5 840.0,255.0 C859.2,251.5 850.3,252.3 863.0,248.0 C875.7,243.7 900.8,238.8 916.0,229.0 C931.2,219.2 939.5,202.7 954.0,189.0 C968.5,175.3 994.8,154.0 1003.0,147.0"/><path d="M13.0,133.0 C15.0,135.5 18.7,142.5 25.0,148.0 C31.3,153.5 37.0,158.8 51.0,166.0 C65.0,173.2 90.3,183.0 109.0,191.0 C127.7,199.0 145.7,206.5 163.0,214.0 C180.3,221.5 197.8,230.0 213.0,236.0 C228.2,242.0 239.5,246.0 254.0,250.0 C268.5,254.0 275.7,257.0 300.0,260.0 C324.3,263.0 366.7,266.2 400.0,268.0 C433.3,269.8 473.3,270.5 500.0,271.0 C526.7,271.5 528.8,272.8 560.0,271.0 C591.2,269.2 647.2,264.7 687.0,260.0 C726.8,255.3 773.5,248.3 799.0,243.0 C824.5,237.7 828.5,233.2 840.0,228.0 C851.5,222.8 860.0,219.7 868.0,212.0 C876.0,204.3 876.2,193.3 888.0,182.0 C899.8,170.7 930.5,150.3 939.0,144.0"/><path d="M61.0,123.0 C64.3,125.8 65.3,129.3 81.0,140.0 C96.7,150.7 134.7,175.0 155.0,187.0 C175.3,199.0 186.0,204.2 203.0,212.0 C220.0,219.8 240.8,228.2 257.0,234.0 C273.2,239.8 276.2,243.0 300.0,247.0 C323.8,251.0 366.7,255.7 400.0,258.0 C433.3,260.3 473.3,260.8 500.0,261.0 C526.7,261.2 536.7,260.8 560.0,259.0 C583.3,257.2 612.5,253.7 640.0,250.0 C667.5,246.3 700.2,243.8 725.0,237.0 C749.8,230.2 774.2,219.2 789.0,209.0 C803.8,198.8 805.5,184.0 814.0,176.0 C822.5,168.0 829.7,166.8 840.0,161.0 C850.3,155.2 870.0,144.3 876.0,141.0"/><path d="M94.0,119.0 C99.5,123.0 111.3,132.7 127.0,143.0 C142.7,153.3 169.0,170.0 188.0,181.0 C207.0,192.0 224.5,200.2 241.0,209.0 C257.5,217.8 277.2,229.0 287.0,234.0 C296.8,239.0 281.2,236.8 300.0,239.0 C318.8,241.2 366.7,245.2 400.0,247.0 C433.3,248.8 473.3,249.8 500.0,250.0 C526.7,250.2 541.5,249.8 560.0,248.0 C578.5,246.2 594.0,241.5 611.0,239.0 C628.0,236.5 646.8,235.8 662.0,233.0 C677.2,230.2 691.8,226.0 702.0,222.0 C712.2,218.0 717.0,214.2 723.0,209.0 C729.0,203.8 731.8,196.7 738.0,191.0 C744.2,185.3 751.3,181.0 760.0,175.0 C768.7,169.0 779.7,161.2 790.0,155.0 C800.3,148.8 816.7,140.8 822.0,138.0"/><path d="M122.0,115.0 C127.0,118.8 136.3,127.8 152.0,138.0 C167.7,148.2 196.8,164.7 216.0,176.0 C235.2,187.3 253.0,197.5 267.0,206.0 C281.0,214.5 277.8,221.8 300.0,227.0 C322.2,232.2 366.7,234.5 400.0,237.0 C433.3,239.5 473.3,241.0 500.0,242.0 C526.7,243.0 543.3,243.2 560.0,243.0 C576.7,242.8 587.7,241.9 600.0,241.0 C612.3,240.1 623.8,242.8 633.8,237.8 C643.8,232.9 652.9,220.5 660.3,211.3 C667.6,202.1 671.3,191.1 677.9,182.7 C684.5,174.3 691.3,166.6 700.0,160.7 C708.7,154.8 719.8,151.1 730.0,147.0 C740.2,142.9 755.8,137.8 761.0,136.0"/><path d="M147.0,112.0 C152.2,115.5 161.8,123.2 178.0,133.0 C194.2,142.8 229.7,161.7 244.0,171.0 C258.3,180.3 257.2,182.7 264.0,189.0 C270.8,195.3 279.0,204.0 285.0,209.0 C291.0,214.0 289.2,216.5 300.0,219.0 C310.8,221.5 330.0,222.2 350.0,224.0 C370.0,225.8 395.0,228.0 420.0,230.0 C445.0,232.0 479.8,234.5 500.0,236.0 C520.2,237.5 529.3,240.8 541.3,238.9 C553.3,237.0 559.7,230.2 572.2,224.5 C584.7,218.8 605.9,211.7 616.2,204.7 C626.5,197.7 628.3,190.4 633.8,182.7 C639.3,175.0 641.6,164.8 649.3,158.5 C657.0,152.2 669.5,148.8 680.0,145.0 C690.5,141.2 706.7,137.5 712.0,136.0"/><path d="M175.0,110.0 C180.5,113.8 192.7,125.0 208.0,133.0 C223.3,141.0 253.3,150.5 267.0,158.0 C280.7,165.5 284.5,171.0 290.0,178.0 C295.5,185.0 296.7,194.3 300.0,200.0 C303.3,205.7 305.0,208.7 310.0,212.0 C315.0,215.3 315.0,217.7 330.0,220.0 C345.0,222.3 378.0,224.3 400.0,226.0 C422.0,227.7 440.6,230.6 462.0,230.0 C483.4,229.4 509.7,228.4 528.1,222.3 C546.5,216.2 561.9,201.4 572.2,193.7 C582.5,186.0 584.7,182.7 589.8,176.1 C594.9,169.5 597.1,159.9 603.0,154.0 C608.9,148.1 615.5,143.9 625.0,140.8 C634.5,137.7 654.4,136.2 660.3,135.3"/><path d="M200.0,109.0 C208.3,111.5 235.0,120.2 250.0,124.0 C265.0,127.8 279.7,130.2 290.0,132.0 C300.3,133.8 294.0,133.7 312.0,135.0 C330.0,136.3 376.7,137.6 398.0,140.0 C419.3,142.4 429.3,146.9 440.0,149.6 C450.7,152.3 454.7,154.1 462.0,156.3 C469.3,158.5 477.0,161.2 484.0,162.9 C491.0,164.6 496.5,167.8 503.9,166.2 C511.2,164.5 521.1,156.7 528.1,153.0 C535.1,149.3 539.1,147.6 545.7,144.1 C552.3,140.6 564.1,134.0 567.8,132.0"/><path d="M193.0,110.0 C200.8,113.0 223.8,123.0 240.0,128.0 C256.2,133.0 278.0,137.8 290.0,140.0 C302.0,142.2 303.5,140.5 312.0,141.0 C320.5,141.5 334.3,140.2 341.0,143.0 C347.7,145.8 346.3,154.3 352.0,158.0 C357.7,161.7 364.5,162.8 375.0,165.0 C385.5,167.2 404.2,169.2 415.0,171.0 C425.8,172.8 432.2,173.4 440.0,176.1 C447.8,178.8 456.1,184.0 462.0,187.1 C467.9,190.2 468.2,193.0 475.2,194.8 C482.2,196.6 496.5,199.8 503.9,198.1 C511.2,196.4 514.5,189.7 519.3,184.9 C524.1,180.1 527.4,175.4 532.5,169.5 C537.6,163.6 544.2,154.8 550.1,149.6 C556.0,144.4 561.9,141.3 567.8,138.6 C573.7,135.8 582.5,134.0 585.4,133.1"/><path d="M188.0,109.0 C195.0,112.2 214.7,121.8 230.0,128.0 C245.3,134.2 268.3,141.5 280.0,146.0 C291.7,150.5 295.0,151.8 300.0,155.0 C305.0,158.2 304.7,162.7 310.0,165.0 C315.3,167.3 323.5,165.8 332.0,169.0 C340.5,172.2 349.0,179.2 361.0,184.0 C373.0,188.8 395.0,195.2 404.0,198.0 C413.0,200.8 412.7,198.7 415.0,201.0 C417.3,203.3 413.8,209.2 418.0,212.0 C422.2,214.8 429.0,216.6 440.0,217.9 C451.0,219.2 472.2,220.8 484.0,220.1 C495.8,219.4 502.4,217.2 510.5,213.5 C518.6,209.8 525.2,204.3 532.5,198.1 C539.8,191.9 547.9,183.1 554.5,176.1 C561.1,169.1 565.6,162.0 572.2,156.3 C578.8,150.6 585.8,145.8 594.2,141.9 C602.6,138.0 618.0,134.6 622.8,133.1"/><path d="M208.0,109.0 C215.0,112.5 237.2,123.2 250.0,130.0 C262.8,136.8 276.7,143.3 285.0,150.0 C293.3,156.7 295.8,164.0 300.0,170.0 C304.2,176.0 302.7,181.8 310.0,186.0 C317.3,190.2 337.7,191.5 344.0,195.0 C350.3,198.5 347.2,203.7 348.0,207.0 C348.8,210.3 344.5,213.2 349.0,215.0 C353.5,216.8 359.8,216.8 375.0,218.0 C390.2,219.2 420.4,221.1 440.0,222.0 C459.6,222.9 478.2,224.5 492.9,223.4 C507.6,222.3 517.8,220.3 528.1,215.7 C538.4,211.1 546.4,204.7 554.5,195.9 C562.6,187.1 570.0,171.0 576.6,162.9 C583.2,154.8 585.8,152.2 594.2,147.4 C602.6,142.6 621.7,136.4 627.2,134.2"/><path d="M249.0,107.0 C256.2,107.2 278.2,107.2 292.0,108.0 C305.8,108.8 313.3,109.2 332.0,112.0 C350.7,114.8 382.5,122.0 404.0,124.5 C425.5,127.0 448.5,125.9 461.0,127.0 C473.5,128.1 464.5,131.0 479.0,131.0 C493.5,131.0 536.5,127.7 548.0,127.0"/><path d="M170.0,112.0 C185.0,112.7 227.7,113.5 260.0,116.0 C292.3,118.5 335.2,124.7 364.0,127.0 C392.8,129.3 413.8,129.3 433.0,130.0 C452.2,130.7 459.8,131.5 479.0,131.0 C498.2,130.5 536.5,127.7 548.0,127.0"/></g>
<g class="ar"><path d="M-10,-4.2 L0,0 L-10,4.2" transform="translate(45.9,307.3) rotate(4.8)"/><path d="M-10,-4.2 L0,0 L-10,4.2" transform="translate(162.5,316.9) rotate(4.6)"/><path d="M-10,-4.2 L0,0 L-10,4.2" transform="translate(279.2,325.2) rotate(2.4)"/><path d="M-10,-4.2 L0,0 L-10,4.2" transform="translate(396.1,328.1) rotate(1.7)"/><path d="M-10,-4.2 L0,0 L-10,4.2" transform="translate(513.1,330.3) rotate(0.1)"/><path d="M-10,-4.2 L0,0 L-10,4.2" transform="translate(630.1,329.5) rotate(-0.9)"/><path d="M-10,-4.2 L0,0 L-10,4.2" transform="translate(747.1,327.5) rotate(-0.7)"/><path d="M-10,-4.2 L0,0 L-10,4.2" transform="translate(864.0,324.6) rotate(-2.5)"/><path d="M-10,-4.2 L0,0 L-10,4.2" transform="translate(980.8,317.4) rotate(-4.7)"/><path d="M-10,-4.2 L0,0 L-10,4.2" transform="translate(1096.8,304.1) rotate(-18.2)"/><path d="M-10,-4.2 L0,0 L-10,4.2" transform="translate(82.2,286.4) rotate(8.3)"/><path d="M-10,-4.2 L0,0 L-10,4.2" transform="translate(198.2,301.4) rotate(6.6)"/><path d="M-10,-4.2 L0,0 L-10,4.2" transform="translate(314.7,312.0) rotate(3.8)"/><path d="M-10,-4.2 L0,0 L-10,4.2" transform="translate(431.6,317.0) rotate(1.8)"/><path d="M-10,-4.2 L0,0 L-10,4.2" transform="translate(548.6,318.4) rotate(-0.3)"/><path d="M-10,-4.2 L0,0 L-10,4.2" transform="translate(665.5,316.3) rotate(-1.7)"/><path d="M-10,-4.2 L0,0 L-10,4.2" transform="translate(782.5,312.2) rotate(-2.5)"/><path d="M-10,-4.2 L0,0 L-10,4.2" transform="translate(899.3,305.8) rotate(-4.1)"/><path d="M-10,-4.2 L0,0 L-10,4.2" transform="translate(1015.4,291.6) rotate(-9.5)"/><path d="M-10,-4.2 L0,0 L-10,4.2" transform="translate(1122.4,250.9) rotate(-39.3)"/><path d="M-10,-4.2 L0,0 L-10,4.2" transform="translate(117.0,261.2) rotate(12.1)"/><path d="M-10,-4.2 L0,0 L-10,4.2" transform="translate(231.7,283.8) rotate(9.2)"/><path d="M-10,-4.2 L0,0 L-10,4.2" transform="translate(347.9,296.7) rotate(3.5)"/><path d="M-10,-4.2 L0,0 L-10,4.2" transform="translate(464.8,302.3) rotate(1.1)"/><path d="M-10,-4.2 L0,0 L-10,4.2" transform="translate(581.8,301.6) rotate(-1.3)"/><path d="M-10,-4.2 L0,0 L-10,4.2" transform="translate(698.7,297.4) rotate(-3.4)"/><path d="M-10,-4.2 L0,0 L-10,4.2" transform="translate(815.4,289.4) rotate(-2.2)"/><path d="M-10,-4.2 L0,0 L-10,4.2" transform="translate(931.4,275.3) rotate(-12.6)"/><path d="M-10,-4.2 L0,0 L-10,4.2" transform="translate(1043.9,243.3) rotate(-20.0)"/><path d="M-10,-4.2 L0,0 L-10,4.2" transform="translate(1126.8,163.4) rotate(-39.3)"/><path d="M-10,-4.2 L0,0 L-10,4.2" transform="translate(150.6,248.5) rotate(18.6)"/><path d="M-10,-4.2 L0,0 L-10,4.2" transform="translate(264.5,274.4) rotate(8.9)"/><path d="M-10,-4.2 L0,0 L-10,4.2" transform="translate(381.0,285.0) rotate(3.3)"/><path d="M-10,-4.2 L0,0 L-10,4.2" transform="translate(497.9,289.0) rotate(1.2)"/><path d="M-10,-4.2 L0,0 L-10,4.2" transform="translate(614.9,289.2) rotate(-1.9)"/><path d="M-10,-4.2 L0,0 L-10,4.2" transform="translate(731.7,282.7) rotate(-4.7)"/><path d="M-10,-4.2 L0,0 L-10,4.2" transform="translate(846.0,268.8) rotate(-11.2)"/><path d="M-10,-4.2 L0,0 L-10,4.2" transform="translate(960.1,243.2) rotate(-17.4)"/><path d="M-10,-4.2 L0,0 L-10,4.2" transform="translate(1048.9,170.3) rotate(-44.2)"/><path d="M-10,-4.2 L0,0 L-10,4.2" transform="translate(71.8,202.6) rotate(21.9)"/><path d="M-10,-4.2 L0,0 L-10,4.2" transform="translate(182.3,240.8) rotate(14.2)"/><path d="M-10,-4.2 L0,0 L-10,4.2" transform="translate(295.8,268.6) rotate(5.5)"/><path d="M-10,-4.2 L0,0 L-10,4.2" transform="translate(412.4,278.6) rotate(2.6)"/><path d="M-10,-4.2 L0,0 L-10,4.2" transform="translate(529.3,282.3) rotate(2.9)"/><path d="M-10,-4.2 L0,0 L-10,4.2" transform="translate(646.1,277.7) rotate(-4.2)"/><path d="M-10,-4.2 L0,0 L-10,4.2" transform="translate(762.6,267.2) rotate(-7.3)"/><path d="M-10,-4.2 L0,0 L-10,4.2" transform="translate(876.9,243.9) rotate(-15.5)"/><path d="M-10,-4.2 L0,0 L-10,4.2" transform="translate(968.7,175.9) rotate(-40.8)"/><path d="M-10,-4.2 L0,0 L-10,4.2" transform="translate(103.3,188.6) rotate(22.7)"/><path d="M-10,-4.2 L0,0 L-10,4.2" transform="translate(210.7,235.1) rotate(22.0)"/><path d="M-10,-4.2 L0,0 L-10,4.2" transform="translate(323.9,262.5) rotate(5.2)"/><path d="M-10,-4.2 L0,0 L-10,4.2" transform="translate(440.6,269.7) rotate(1.8)"/><path d="M-10,-4.2 L0,0 L-10,4.2" transform="translate(557.6,271.1) rotate(-3.1)"/><path d="M-10,-4.2 L0,0 L-10,4.2" transform="translate(674.2,261.4) rotate(-6.1)"/><path d="M-10,-4.2 L0,0 L-10,4.2" transform="translate(790.0,244.8) rotate(-10.6)"/><path d="M-10,-4.2 L0,0 L-10,4.2" transform="translate(884.7,185.5) rotate(-50.5)"/><path d="M-10,-4.2 L0,0 L-10,4.2" transform="translate(182.1,202.0) rotate(26.9)"/><path d="M-10,-4.2 L0,0 L-10,4.2" transform="translate(290.6,245.2) rotate(11.3)"/><path d="M-10,-4.2 L0,0 L-10,4.2" transform="translate(406.8,258.4) rotate(3.7)"/><path d="M-10,-4.2 L0,0 L-10,4.2" transform="translate(523.8,260.9) rotate(-1.1)"/><path d="M-10,-4.2 L0,0 L-10,4.2" transform="translate(640.2,250.0) rotate(-7.3)"/><path d="M-10,-4.2 L0,0 L-10,4.2" transform="translate(754.4,226.9) rotate(-21.8)"/><path d="M-10,-4.2 L0,0 L-10,4.2" transform="translate(845.3,158.0) rotate(-29.2)"/><path d="M-10,-4.2 L0,0 L-10,4.2" transform="translate(147.3,156.1) rotate(32.4)"/><path d="M-10,-4.2 L0,0 L-10,4.2" transform="translate(249.2,213.5) rotate(28.5)"/><path d="M-10,-4.2 L0,0 L-10,4.2" transform="translate(358.0,244.2) rotate(4.3)"/><path d="M-10,-4.2 L0,0 L-10,4.2" transform="translate(474.9,249.7) rotate(1.1)"/><path d="M-10,-4.2 L0,0 L-10,4.2" transform="translate(591.4,242.7) rotate(-11.7)"/><path d="M-10,-4.2 L0,0 L-10,4.2" transform="translate(705.8,220.4) rotate(-24.0)"/><path d="M-10,-4.2 L0,0 L-10,4.2" transform="translate(798.3,150.3) rotate(-28.7)"/><path d="M-10,-4.2 L0,0 L-10,4.2" transform="translate(207.1,170.8) rotate(30.3)"/><path d="M-10,-4.2 L0,0 L-10,4.2" transform="translate(307.6,228.5) rotate(9.4)"/><path d="M-10,-4.2 L0,0 L-10,4.2" transform="translate(424.1,238.6) rotate(3.4)"/><path d="M-10,-4.2 L0,0 L-10,4.2" transform="translate(541.0,243.0) rotate(0.5)"/><path d="M-10,-4.2 L0,0 L-10,4.2" transform="translate(651.5,222.2) rotate(-49.7)"/><path d="M-10,-4.2 L0,0 L-10,4.2" transform="translate(734.6,145.2) rotate(-20.8)"/><path d="M-10,-4.2 L0,0 L-10,4.2" transform="translate(262.8,187.8) rotate(44.1)"/><path d="M-10,-4.2 L0,0 L-10,4.2" transform="translate(367.5,225.6) rotate(5.0)"/><path d="M-10,-4.2 L0,0 L-10,4.2" transform="translate(484.1,234.8) rotate(4.2)"/><path d="M-10,-4.2 L0,0 L-10,4.2" transform="translate(595.5,214.9) rotate(-22.7)"/><path d="M-10,-4.2 L0,0 L-10,4.2" transform="translate(682.7,144.1) rotate(-19.0)"/><path d="M-10,-4.2 L0,0 L-10,4.2" transform="translate(225.1,140.6) rotate(22.0)"/><path d="M-10,-4.2 L0,0 L-10,4.2" transform="translate(310.6,212.4) rotate(35.1)"/><path d="M-10,-4.2 L0,0 L-10,4.2" transform="translate(425.5,228.3) rotate(5.5)"/><path d="M-10,-4.2 L0,0 L-10,4.2" transform="translate(540.6,216.7) rotate(-27.9)"/><path d="M-10,-4.2 L0,0 L-10,4.2" transform="translate(626.0,140.5) rotate(-16.1)"/><path d="M-10,-4.2 L0,0 L-10,4.2" transform="translate(292.9,132.6) rotate(11.5)"/><path d="M-10,-4.2 L0,0 L-10,4.2" transform="translate(409.5,141.7) rotate(10.3)"/><path d="M-10,-4.2 L0,0 L-10,4.2" transform="translate(520.7,157.5) rotate(-32.5)"/><path d="M-10,-4.2 L0,0 L-10,4.2" transform="translate(321.1,141.1) rotate(-0.3)"/><path d="M-10,-4.2 L0,0 L-10,4.2" transform="translate(428.1,173.1) rotate(9.9)"/><path d="M-10,-4.2 L0,0 L-10,4.2" transform="translate(529.0,173.6) rotate(-50.4)"/><path d="M-10,-4.2 L0,0 L-10,4.2" transform="translate(236.4,130.5) rotate(20.7)"/><path d="M-10,-4.2 L0,0 L-10,4.2" transform="translate(342.7,174.4) rotate(30.0)"/><path d="M-10,-4.2 L0,0 L-10,4.2" transform="translate(444.6,218.4) rotate(5.9)"/><path d="M-10,-4.2 L0,0 L-10,4.2" transform="translate(549.0,181.9) rotate(-46.5)"/><path d="M-10,-4.2 L0,0 L-10,4.2" transform="translate(287.0,151.7) rotate(44.2)"/><path d="M-10,-4.2 L0,0 L-10,4.2" transform="translate(365.9,217.3) rotate(3.9)"/><path d="M-10,-4.2 L0,0 L-10,4.2" transform="translate(482.7,223.7) rotate(-0.4)"/><path d="M-10,-4.2 L0,0 L-10,4.2" transform="translate(575.1,164.8) rotate(-52.5)"/><path d="M-10,-4.2 L0,0 L-10,4.2" transform="translate(375.1,119.9) rotate(10.4)"/><path d="M-10,-4.2 L0,0 L-10,4.2" transform="translate(490.8,130.6) rotate(-2.7)"/><path d="M-10,-4.2 L0,0 L-10,4.2" transform="translate(217.0,113.6) rotate(2.4)"/><path d="M-10,-4.2 L0,0 L-10,4.2" transform="translate(333.5,123.9) rotate(6.4)"/><path d="M-10,-4.2 L0,0 L-10,4.2" transform="translate(450.2,130.7) rotate(2.4)"/></g>
<rect x="308.2" y="138" width="155.2" height="64.2" fill="none" stroke="#00aaff" stroke-width="3.6"/>
<text x="426" y="113.4" class="tk" font-size="25">Net Cage</text>
<line x1="6" x2="1143" y1="87.3" y2="87.3" class="ax"/>
<line x1="6" x2="1143" y1="347.3" y2="347.3" class="ax"/>
<line x1="1137.4" x2="1137.4" y1="87.3" y2="347.3" class="ax"/>
<line x1="21.5" x2="21.5" y1="87.3" y2="347.3" stroke="#111" stroke-width="1.2"/>
<line x1="1137.3" x2="1137.3" y1="152.5" y2="346.1" stroke="#0a9a1a" stroke-width="2.6"/>
<line x1="1137.4" x2="1142.4" y1="347.3" y2="347.3" stroke="#111" stroke-width="1.3"/>
<line x1="1137.4" x2="1143.4" y1="334.3" y2="334.3" stroke="#111" stroke-width="1.3"/>
<line x1="1137.4" x2="1143.4" y1="321.3" y2="321.3" stroke="#111" stroke-width="1.3"/>
<line x1="1137.4" x2="1143.4" y1="308.3" y2="308.3" stroke="#111" stroke-width="1.3"/>
<line x1="1137.4" x2="1143.4" y1="295.3" y2="295.3" stroke="#111" stroke-width="1.3"/>
<line x1="1137.4" x2="1142.4" y1="282.3" y2="282.3" stroke="#111" stroke-width="1.3"/>
<line x1="1137.4" x2="1143.4" y1="269.3" y2="269.3" stroke="#111" stroke-width="1.3"/>
<line x1="1137.4" x2="1143.4" y1="256.3" y2="256.3" stroke="#111" stroke-width="1.3"/>
<line x1="1137.4" x2="1143.4" y1="243.3" y2="243.3" stroke="#111" stroke-width="1.3"/>
<line x1="1137.4" x2="1143.4" y1="230.3" y2="230.3" stroke="#111" stroke-width="1.3"/>
<line x1="1137.4" x2="1142.4" y1="217.3" y2="217.3" stroke="#111" stroke-width="1.3"/>
<line x1="1137.4" x2="1143.4" y1="204.3" y2="204.3" stroke="#111" stroke-width="1.3"/>
<line x1="1137.4" x2="1143.4" y1="191.3" y2="191.3" stroke="#111" stroke-width="1.3"/>
<line x1="1137.4" x2="1143.4" y1="178.3" y2="178.3" stroke="#111" stroke-width="1.3"/>
<line x1="1137.4" x2="1143.4" y1="165.3" y2="165.3" stroke="#111" stroke-width="1.3"/>
<line x1="1137.4" x2="1142.4" y1="152.3" y2="152.3" stroke="#111" stroke-width="1.3"/>
<line x1="1137.4" x2="1143.4" y1="139.3" y2="139.3" stroke="#111" stroke-width="1.3"/>
<line x1="1137.4" x2="1143.4" y1="126.3" y2="126.3" stroke="#111" stroke-width="1.3"/>
<line x1="1137.4" x2="1143.4" y1="113.3" y2="113.3" stroke="#111" stroke-width="1.3"/>
<line x1="1137.4" x2="1143.4" y1="100.3" y2="100.3" stroke="#111" stroke-width="1.3"/>
<line x1="1137.4" x2="1142.4" y1="87.3" y2="87.3" stroke="#111" stroke-width="1.3"/>
<text x="1143.5" y="355.8" class="tk" font-size="25">0</text>
<text x="1143.5" y="290.8" class="tk" font-size="25">0.5</text>
<text x="1143.5" y="225.8" class="tk" font-size="25">1</text>
<text x="1143.5" y="160.8" class="tk" font-size="25">1.5</text>
<text x="1143.5" y="95.8" class="tk" font-size="25">2</text>
<line x1="21.5" x2="21.5" y1="347.3" y2="352.3" stroke="#111" stroke-width="1.5"/>
<text x="22.5" y="373.3" class="tk" text-anchor="middle" font-size="25">0.5</text>
<line x1="151.3" x2="151.3" y1="347.3" y2="352.3" stroke="#111" stroke-width="1.5"/>
<text x="152.3" y="373.3" class="tk" text-anchor="middle" font-size="25">1</text>
<line x1="281.1" x2="281.1" y1="347.3" y2="352.3" stroke="#111" stroke-width="1.5"/>
<text x="282.1" y="373.3" class="tk" text-anchor="middle" font-size="25">1.5</text>
<line x1="410.9" x2="410.9" y1="347.3" y2="352.3" stroke="#111" stroke-width="1.5"/>
<text x="411.9" y="373.3" class="tk" text-anchor="middle" font-size="25">2</text>
<line x1="540.7" x2="540.7" y1="347.3" y2="352.3" stroke="#111" stroke-width="1.5"/>
<text x="541.7" y="373.3" class="tk" text-anchor="middle" font-size="25">2.5</text>
<line x1="670.5" x2="670.5" y1="347.3" y2="352.3" stroke="#111" stroke-width="1.5"/>
<text x="671.5" y="373.3" class="tk" text-anchor="middle" font-size="25">3</text>
<line x1="800.3" x2="800.3" y1="347.3" y2="352.3" stroke="#111" stroke-width="1.5"/>
<text x="801.3" y="373.3" class="tk" text-anchor="middle" font-size="25">3.5</text>
<line x1="930.1" x2="930.1" y1="347.3" y2="352.3" stroke="#111" stroke-width="1.5"/>
<text x="931.1" y="373.3" class="tk" text-anchor="middle" font-size="25">4</text>
<line x1="1059.9" x2="1059.9" y1="347.3" y2="352.3" stroke="#111" stroke-width="1.5"/>
<text x="1060.9" y="373.3" class="tk" text-anchor="middle" font-size="25">4.5</text>
<text x="1129.5" y="373.3" class="tk" text-anchor="middle" font-size="25">4.8</text>
<text x="588" y="392.5" class="it" font-size="25.5">x</text>
<text x="603" y="392.5" class="tk" font-size="25.5">/m</text>
<text x="5.9" y="436.8" class="lab">B</text>
<text x="325" y="439.3" class="it" font-size="25">u</text>
<rect x="353" y="415.6" width="436" height="31" fill="url(#cbg)"/>
<line x1="373.50" x2="373.50" y1="415.6" y2="446.6" class="div"/>
<line x1="413.05" x2="413.05" y1="415.6" y2="446.6" class="div"/>
<line x1="452.60" x2="452.60" y1="415.6" y2="446.6" class="div"/>
<line x1="492.15" x2="492.15" y1="415.6" y2="446.6" class="div"/>
<line x1="531.70" x2="531.70" y1="415.6" y2="446.6" class="div"/>
<line x1="571.25" x2="571.25" y1="415.6" y2="446.6" class="div"/>
<line x1="610.80" x2="610.80" y1="415.6" y2="446.6" class="div"/>
<line x1="650.35" x2="650.35" y1="415.6" y2="446.6" class="div"/>
<line x1="689.90" x2="689.90" y1="415.6" y2="446.6" class="div"/>
<line x1="729.45" x2="729.45" y1="415.6" y2="446.6" class="div"/>
<line x1="769.00" x2="769.00" y1="415.6" y2="446.6" class="div"/>
<rect x="353" y="415.6" width="436" height="31" fill="none" stroke="#111" stroke-width="1.6"/>
<text x="373.50" y="478.8" class="tk" text-anchor="middle" font-size="21">0</text>
<text x="413.05" y="478.8" class="tk" text-anchor="middle" font-size="21">0.2</text>
<text x="452.60" y="478.8" class="tk" text-anchor="middle" font-size="21">0.4</text>
<text x="492.15" y="478.8" class="tk" text-anchor="middle" font-size="21">0.6</text>
<text x="531.70" y="478.8" class="tk" text-anchor="middle" font-size="21">0.8</text>
<text x="571.25" y="478.8" class="tk" text-anchor="middle" font-size="21">1</text>
<text x="610.80" y="478.8" class="tk" text-anchor="middle" font-size="21">1.2</text>
<text x="650.35" y="478.8" class="tk" text-anchor="middle" font-size="21">1.4</text>
<text x="689.90" y="478.8" class="tk" text-anchor="middle" font-size="21">1.6</text>
<text x="729.45" y="478.8" class="tk" text-anchor="middle" font-size="21">1.8</text>
<text x="769.00" y="478.8" class="tk" text-anchor="middle" font-size="21">2</text>
<text x="788.1" y="477" class="tk" font-size="25">(</text>
<text x="797" y="477" class="tk" font-size="25">m</text>
<text x="822" y="477" class="tk" font-size="25" text-anchor="middle">&#183;</text>
<text x="827.4" y="477" class="tk" font-size="25">s</text>
<text x="839.2" y="466" class="tk" font-size="14">-</text>
<text x="843.7" y="466" class="tk" font-size="14">1</text>
<text x="853" y="477" class="tk" font-size="25">)</text>
<text x="143" y="470.4" class="it" font-size="26.5">d</text>
<text x="162.5" y="470.4" class="tk" font-size="26.5">=</text>
<text transform="translate(176.8,470.4) scale(0.985,1)" class="tk" font-size="26.5">0.2m</text>
<text x="1119.3" y="474.9" class="it" font-size="25.5">z</text>
<text x="1133.3" y="474.9" class="tk" font-size="25.5">/m</text>
<clipPath id="cl1"><path d="M6.5,751.5 L6.4,541.9 L17.8,541.9 L17.8,539.4 L38.1,539.4 L38.1,536.8 L58.9,536.8 L58.9,534.3 L85.1,534.3 L85.1,531.8 L110.5,531.8 L110.5,529.2 L137.2,529.2 L137.2,526.4 L167.6,526.4 L167.6,524.1 L204.5,524.1 L204.5,521.1 L256.5,521.1 L256.5,518.5 L323.2,518.5 L323.2,519.8 L354.9,519.8 L354.9,522.9 L375.3,522.9 L375.3,525.4 L396.8,525.4 L396.8,527.9 L422.2,527.9 L422.2,530.5 L457.8,530.5 L457.8,533.0 L499.7,533.0 L499.7,531.0 L526.4,531.0 L526.4,530.5 L536.5,530.5 L536.5,526.4 L604.5,526.4 L604.5,528.3 L614.6,528.3 L614.6,530.8 L626.0,530.8 L626.0,535.4 L631.1,535.4 L631.1,538.4 L647.1,538.4 L647.1,541.8 L666.7,541.8 L666.7,543.5 L791.1,543.5 L791.1,545.6 L840.0,545.6 L840.0,547.2 L890.8,547.2 L890.8,548.7 L989.9,548.7 L989.9,551.8 L1104.2,551.8 L1104.2,554.3 L1129.6,554.3 L1129.6,556.8 L1134.6,556.8 L1134.6,558.6 L1138.0,558.6 L1138,751.5 Z"/></clipPath>
<g clip-path="url(#cl1)"><g filter="url(#blur)"><rect x="-30" y="482" width="31" height="21" fill="#8afb86"/><rect x="0" y="482" width="31" height="21" fill="#8bfb85"/><rect x="30" y="482" width="31" height="21" fill="#90fc82"/><rect x="60" y="482" width="31" height="21" fill="#95fc80"/><rect x="90" y="482" width="31" height="21" fill="#9dfc80"/><rect x="120" y="482" width="31" height="21" fill="#a8fb80"/><rect x="150" y="482" width="31" height="21" fill="#b3fa80"/><rect x="180" y="482" width="31" height="21" fill="#bdfc80"/><rect x="210" y="482" width="31" height="21" fill="#cbff80"/><rect x="240" y="482" width="31" height="21" fill="#d9ff80"/><rect x="270" y="482" width="31" height="21" fill="#e8ff80"/><rect x="300" y="482" width="31" height="21" fill="#f5ff80"/><rect x="330" y="482" width="31" height="21" fill="#fdfa80"/><rect x="360" y="482" width="31" height="21" fill="#fef080"/><rect x="390" y="482" width="31" height="21" fill="#ffe680"/><rect x="420" y="482" width="31" height="21" fill="#ffdb80"/><rect x="450" y="482" width="31" height="21" fill="#ffd880"/><rect x="480" y="482" width="31" height="21" fill="#ffd680"/><rect x="510" y="482" width="31" height="21" fill="#ffda80"/><rect x="540" y="482" width="31" height="21" fill="#ffec80"/><rect x="570" y="482" width="31" height="21" fill="#fdfb80"/><rect x="600" y="482" width="31" height="21" fill="#e2ff80"/><rect x="630" y="482" width="31" height="21" fill="#bafc80"/><rect x="660" y="482" width="31" height="21" fill="#93fc80"/><rect x="690" y="482" width="31" height="21" fill="#8efc83"/><rect x="720" y="482" width="31" height="21" fill="#8afb86"/><rect x="750" y="482" width="31" height="21" fill="#85fb89"/><rect x="780" y="482" width="31" height="21" fill="#80fa8b"/><rect x="810" y="482" width="361" height="21" fill="#80fa8c"/><rect x="-30" y="502" width="31" height="21" fill="#8afb86"/><rect x="0" y="502" width="31" height="21" fill="#8bfb85"/><rect x="30" y="502" width="31" height="21" fill="#90fc82"/><rect x="60" y="502" width="31" height="21" fill="#95fc80"/><rect x="90" y="502" width="31" height="21" fill="#9dfc80"/><rect x="120" y="502" width="31" height="21" fill="#a8fb80"/><rect x="150" y="502" width="31" height="21" fill="#b3fa80"/><rect x="180" y="502" width="31" height="21" fill="#bdfc80"/><rect x="210" y="502" width="31" height="21" fill="#cbff80"/><rect x="240" y="502" width="31" height="21" fill="#d9ff80"/><rect x="270" y="502" width="31" height="21" fill="#e8ff80"/><rect x="300" y="502" width="31" height="21" fill="#f5ff80"/><rect x="330" y="502" width="31" height="21" fill="#fdfa80"/><rect x="360" y="502" width="31" height="21" fill="#fef080"/><rect x="390" y="502" width="31" height="21" fill="#ffe680"/><rect x="420" y="502" width="31" height="21" fill="#ffdb80"/><rect x="450" y="502" width="31" height="21" fill="#ffd880"/><rect x="480" y="502" width="31" height="21" fill="#ffd680"/><rect x="510" y="502" width="31" height="21" fill="#ffda80"/><rect x="540" y="502" width="31" height="21" fill="#ffec80"/><rect x="570" y="502" width="31" height="21" fill="#fdfb80"/><rect x="600" y="502" width="31" height="21" fill="#e2ff80"/><rect x="630" y="502" width="31" height="21" fill="#bafc80"/><rect x="660" y="502" width="31" height="21" fill="#93fc80"/><rect x="690" y="502" width="31" height="21" fill="#8efc83"/><rect x="720" y="502" width="31" height="21" fill="#8afb86"/><rect x="750" y="502" width="31" height="21" fill="#85fb89"/><rect x="780" y="502" width="31" height="21" fill="#80fa8b"/><rect x="810" y="502" width="361" height="21" fill="#80fa8c"/><rect x="-30" y="522" width="31" height="21" fill="#8afb86"/><rect x="0" y="522" width="31" height="21" fill="#8bfb85"/><rect x="30" y="522" width="31" height="21" fill="#8ffc83"/><rect x="60" y="522" width="31" height="21" fill="#93fc80"/><rect x="90" y="522" width="31" height="21" fill="#99fc80"/><rect x="120" y="522" width="31" height="21" fill="#a2fb80"/><rect x="150" y="522" width="31" height="21" fill="#acfa80"/><rect x="180" y="522" width="31" height="21" fill="#b5fb80"/><rect x="210" y="522" width="31" height="21" fill="#c1fd80"/><rect x="240" y="522" width="31" height="21" fill="#ceff80"/><rect x="270" y="522" width="31" height="21" fill="#daff80"/><rect x="300" y="522" width="31" height="21" fill="#e6ff80"/><rect x="330" y="522" width="31" height="21" fill="#f1ff80"/><rect x="360" y="522" width="31" height="21" fill="#fbff80"/><rect x="390" y="522" width="31" height="21" fill="#fef680"/><rect x="420" y="522" width="31" height="21" fill="#ffed80"/><rect x="450" y="522" width="31" height="21" fill="#ffea80"/><rect x="480" y="522" width="31" height="21" fill="#ffe880"/><rect x="510" y="522" width="31" height="21" fill="#ffec80"/><rect x="540" y="522" width="31" height="21" fill="#fdf980"/><rect x="570" y="522" width="31" height="21" fill="#f4ff80"/><rect x="600" y="522" width="31" height="21" fill="#d9ff80"/><rect x="630" y="522" width="31" height="21" fill="#b5fb80"/><rect x="660" y="522" width="31" height="21" fill="#93fc80"/><rect x="690" y="522" width="31" height="21" fill="#8efc83"/><rect x="720" y="522" width="31" height="21" fill="#8afb86"/><rect x="750" y="522" width="31" height="21" fill="#85fb89"/><rect x="780" y="522" width="31" height="21" fill="#80fa8b"/><rect x="810" y="522" width="361" height="21" fill="#80fa8c"/><rect x="-30" y="542" width="31" height="21" fill="#88fb87"/><rect x="0" y="542" width="31" height="21" fill="#89fb86"/><rect x="30" y="542" width="31" height="21" fill="#8bfb85"/><rect x="60" y="542" width="31" height="21" fill="#8efc83"/><rect x="90" y="542" width="31" height="21" fill="#91fc81"/><rect x="120" y="542" width="31" height="21" fill="#98fc80"/><rect x="150" y="542" width="31" height="21" fill="#9ffc80"/><rect x="180" y="542" width="31" height="21" fill="#a6fb80"/><rect x="210" y="542" width="31" height="21" fill="#adfa80"/><rect x="240" y="542" width="31" height="21" fill="#b3fa80"/><rect x="270" y="542" width="31" height="21" fill="#b9fb80"/><rect x="300" y="542" width="31" height="21" fill="#c0fd80"/><rect x="330" y="542" width="31" height="21" fill="#c7fe80"/><rect x="360" y="542" width="31" height="21" fill="#d0ff80"/><rect x="390" y="542" width="31" height="21" fill="#d9ff80"/><rect x="420" y="542" width="31" height="21" fill="#e2ff80"/><rect x="450" y="542" width="61" height="21" fill="#e4ff80"/><rect x="510" y="542" width="31" height="21" fill="#e2ff80"/><rect x="540" y="542" width="31" height="21" fill="#d9ff80"/><rect x="570" y="542" width="31" height="21" fill="#cfff80"/><rect x="600" y="542" width="31" height="21" fill="#bbfc80"/><rect x="630" y="542" width="31" height="21" fill="#a2fb80"/><rect x="660" y="542" width="31" height="21" fill="#8efc83"/><rect x="690" y="542" width="31" height="21" fill="#8afb85"/><rect x="720" y="542" width="31" height="21" fill="#86fb88"/><rect x="750" y="542" width="31" height="21" fill="#83fa8a"/><rect x="780" y="542" width="61" height="21" fill="#80fa8d"/><rect x="840" y="542" width="331" height="21" fill="#80fa8e"/><rect x="-30" y="562" width="31" height="21" fill="#84fb89"/><rect x="0" y="562" width="31" height="21" fill="#85fb89"/><rect x="30" y="562" width="31" height="21" fill="#87fb88"/><rect x="60" y="562" width="31" height="21" fill="#88fb87"/><rect x="90" y="562" width="31" height="21" fill="#8afb86"/><rect x="120" y="562" width="31" height="21" fill="#8dfc84"/><rect x="150" y="562" width="31" height="21" fill="#8ffc82"/><rect x="180" y="562" width="31" height="21" fill="#92fc80"/><rect x="210" y="562" width="31" height="21" fill="#90fc82"/><rect x="240" y="562" width="31" height="21" fill="#8cfc84"/><rect x="270" y="562" width="91" height="21" fill="#88fb87"/><rect x="360" y="562" width="31" height="21" fill="#89fb86"/><rect x="390" y="562" width="31" height="21" fill="#8afb85"/><rect x="420" y="562" width="31" height="21" fill="#8cfc84"/><rect x="450" y="562" width="31" height="21" fill="#8bfb85"/><rect x="480" y="562" width="31" height="21" fill="#89fb86"/><rect x="510" y="562" width="31" height="21" fill="#88fb86"/><rect x="540" y="562" width="31" height="21" fill="#8afb85"/><rect x="570" y="562" width="31" height="21" fill="#8cfc84"/><rect x="600" y="562" width="31" height="21" fill="#8afb85"/><rect x="630" y="562" width="31" height="21" fill="#86fb88"/><rect x="660" y="562" width="31" height="21" fill="#83fa8a"/><rect x="690" y="562" width="31" height="21" fill="#81fa8b"/><rect x="720" y="562" width="31" height="21" fill="#80fa8d"/><rect x="750" y="562" width="31" height="21" fill="#80fa8e"/><rect x="780" y="562" width="31" height="21" fill="#80f990"/><rect x="810" y="562" width="61" height="21" fill="#80f991"/><rect x="870" y="562" width="301" height="21" fill="#80f992"/><rect x="-30" y="582" width="31" height="21" fill="#84fb89"/><rect x="0" y="582" width="31" height="21" fill="#85fb89"/><rect x="30" y="582" width="31" height="21" fill="#86fb88"/><rect x="60" y="582" width="31" height="21" fill="#87fb87"/><rect x="90" y="582" width="31" height="21" fill="#88fb87"/><rect x="120" y="582" width="31" height="21" fill="#89fb86"/><rect x="150" y="582" width="31" height="21" fill="#8afb86"/><rect x="180" y="582" width="31" height="21" fill="#8bfb85"/><rect x="210" y="582" width="31" height="21" fill="#86fb88"/><rect x="240" y="582" width="31" height="21" fill="#80fa8c"/><rect x="270" y="582" width="31" height="21" fill="#80f991"/><rect x="300" y="582" width="31" height="21" fill="#80f993"/><rect x="330" y="582" width="31" height="21" fill="#80f995"/><rect x="360" y="582" width="31" height="21" fill="#80f996"/><rect x="390" y="582" width="91" height="21" fill="#80f995"/><rect x="480" y="582" width="31" height="21" fill="#80f994"/><rect x="510" y="582" width="31" height="21" fill="#80f993"/><rect x="540" y="582" width="61" height="21" fill="#80f992"/><rect x="600" y="582" width="91" height="21" fill="#80f991"/><rect x="690" y="582" width="91" height="21" fill="#80f992"/><rect x="780" y="582" width="211" height="21" fill="#80f993"/><rect x="990" y="582" width="181" height="21" fill="#80f992"/><rect x="-30" y="602" width="31" height="21" fill="#86fb88"/><rect x="0" y="602" width="31" height="21" fill="#87fb88"/><rect x="30" y="602" width="31" height="21" fill="#87fb87"/><rect x="60" y="602" width="31" height="21" fill="#88fb87"/><rect x="90" y="602" width="121" height="21" fill="#89fb86"/><rect x="210" y="602" width="31" height="21" fill="#85fb89"/><rect x="240" y="602" width="31" height="21" fill="#80fa8d"/><rect x="270" y="602" width="31" height="21" fill="#80f992"/><rect x="300" y="602" width="31" height="21" fill="#80f995"/><rect x="330" y="602" width="31" height="21" fill="#80f898"/><rect x="360" y="602" width="91" height="21" fill="#80f899"/><rect x="450" y="602" width="31" height="21" fill="#80f898"/><rect x="480" y="602" width="31" height="21" fill="#80f996"/><rect x="510" y="602" width="91" height="21" fill="#80f995"/><rect x="600" y="602" width="61" height="21" fill="#80f994"/><rect x="660" y="602" width="331" height="21" fill="#80f993"/><rect x="990" y="602" width="181" height="21" fill="#80f992"/><rect x="-30" y="622" width="31" height="21" fill="#88fb87"/><rect x="0" y="622" width="31" height="21" fill="#88fb86"/><rect x="30" y="622" width="31" height="21" fill="#89fb86"/><rect x="60" y="622" width="31" height="21" fill="#8afb86"/><rect x="90" y="622" width="31" height="21" fill="#8afb85"/><rect x="120" y="622" width="31" height="21" fill="#8bfb85"/><rect x="150" y="622" width="31" height="21" fill="#8cfc84"/><rect x="180" y="622" width="31" height="21" fill="#8dfc83"/><rect x="210" y="622" width="31" height="21" fill="#8afb85"/><rect x="240" y="622" width="31" height="21" fill="#86fb88"/><rect x="270" y="622" width="31" height="21" fill="#82fa8b"/><rect x="300" y="622" width="31" height="21" fill="#80fa8d"/><rect x="330" y="622" width="31" height="21" fill="#80f991"/><rect x="360" y="622" width="31" height="21" fill="#80f992"/><rect x="390" y="622" width="61" height="21" fill="#80f991"/><rect x="450" y="622" width="31" height="21" fill="#80f990"/><rect x="480" y="622" width="31" height="21" fill="#80fa8f"/><rect x="510" y="622" width="151" height="21" fill="#80fa8e"/><rect x="660" y="622" width="61" height="21" fill="#80fa8f"/><rect x="720" y="622" width="61" height="21" fill="#80f990"/><rect x="780" y="622" width="91" height="21" fill="#80f991"/><rect x="870" y="622" width="181" height="21" fill="#80f992"/><rect x="1050" y="622" width="121" height="21" fill="#80f991"/><rect x="-30" y="642" width="61" height="21" fill="#8afb86"/><rect x="30" y="642" width="61" height="21" fill="#8bfb85"/><rect x="90" y="642" width="31" height="21" fill="#8cfc84"/><rect x="120" y="642" width="31" height="21" fill="#8ffc82"/><rect x="150" y="642" width="31" height="21" fill="#91fc81"/><rect x="180" y="642" width="61" height="21" fill="#94fc80"/><rect x="240" y="642" width="31" height="21" fill="#93fc80"/><rect x="270" y="642" width="31" height="21" fill="#92fc80"/><rect x="300" y="642" width="31" height="21" fill="#90fc82"/><rect x="330" y="642" width="61" height="21" fill="#8dfc83"/><rect x="390" y="642" width="31" height="21" fill="#8ffc82"/><rect x="420" y="642" width="91" height="21" fill="#91fc81"/><rect x="510" y="642" width="31" height="21" fill="#90fc82"/><rect x="540" y="642" width="31" height="21" fill="#8ffc82"/><rect x="570" y="642" width="31" height="21" fill="#8efc83"/><rect x="600" y="642" width="31" height="21" fill="#8cfc84"/><rect x="630" y="642" width="31" height="21" fill="#8afb86"/><rect x="660" y="642" width="31" height="21" fill="#87fb87"/><rect x="690" y="642" width="31" height="21" fill="#85fb88"/><rect x="720" y="642" width="31" height="21" fill="#83fa8a"/><rect x="750" y="642" width="31" height="21" fill="#82fa8b"/><rect x="780" y="642" width="31" height="21" fill="#80fa8c"/><rect x="810" y="642" width="31" height="21" fill="#80fa8d"/><rect x="840" y="642" width="61" height="21" fill="#80fa8e"/><rect x="900" y="642" width="61" height="21" fill="#80fa8f"/><rect x="960" y="642" width="211" height="21" fill="#80f990"/><rect x="-30" y="662" width="31" height="21" fill="#8afb86"/><rect x="0" y="662" width="31" height="21" fill="#8afb85"/><rect x="30" y="662" width="31" height="21" fill="#8bfb85"/><rect x="60" y="662" width="31" height="21" fill="#8dfc84"/><rect x="90" y="662" width="31" height="21" fill="#8ffc82"/><rect x="120" y="662" width="31" height="21" fill="#92fc81"/><rect x="150" y="662" width="31" height="21" fill="#95fc80"/><rect x="180" y="662" width="31" height="21" fill="#99fc80"/><rect x="210" y="662" width="31" height="21" fill="#a0fb80"/><rect x="240" y="662" width="31" height="21" fill="#a8fb80"/><rect x="270" y="662" width="31" height="21" fill="#b0fa80"/><rect x="300" y="662" width="31" height="21" fill="#b7fb80"/><rect x="330" y="662" width="31" height="21" fill="#befc80"/><rect x="360" y="662" width="31" height="21" fill="#c2fd80"/><rect x="390" y="662" width="31" height="21" fill="#c5fe80"/><rect x="420" y="662" width="31" height="21" fill="#c8fe80"/><rect x="450" y="662" width="31" height="21" fill="#c5fe80"/><rect x="480" y="662" width="31" height="21" fill="#c3fd80"/><rect x="510" y="662" width="31" height="21" fill="#bffc80"/><rect x="540" y="662" width="31" height="21" fill="#b8fb80"/><rect x="570" y="662" width="31" height="21" fill="#b0fa80"/><rect x="600" y="662" width="31" height="21" fill="#a8fb80"/><rect x="630" y="662" width="31" height="21" fill="#a0fb80"/><rect x="660" y="662" width="31" height="21" fill="#98fc80"/><rect x="690" y="662" width="31" height="21" fill="#93fc80"/><rect x="720" y="662" width="31" height="21" fill="#90fc82"/><rect x="750" y="662" width="31" height="21" fill="#8cfc84"/><rect x="780" y="662" width="31" height="21" fill="#89fb86"/><rect x="810" y="662" width="31" height="21" fill="#87fb87"/><rect x="840" y="662" width="31" height="21" fill="#85fb88"/><rect x="870" y="662" width="31" height="21" fill="#84fb89"/><rect x="900" y="662" width="31" height="21" fill="#82fa8b"/><rect x="930" y="662" width="31" height="21" fill="#81fa8b"/><rect x="960" y="662" width="31" height="21" fill="#80fa8c"/><rect x="990" y="662" width="61" height="21" fill="#80fa8d"/><rect x="1050" y="662" width="121" height="21" fill="#80fa8e"/><rect x="-30" y="682" width="61" height="21" fill="#8bfb85"/><rect x="30" y="682" width="31" height="21" fill="#8dfc83"/><rect x="60" y="682" width="31" height="21" fill="#8ffc82"/><rect x="90" y="682" width="31" height="21" fill="#91fc81"/><rect x="120" y="682" width="31" height="21" fill="#94fc80"/><rect x="150" y="682" width="31" height="21" fill="#99fc80"/><rect x="180" y="682" width="31" height="21" fill="#9dfc80"/><rect x="210" y="682" width="31" height="21" fill="#a4fb80"/><rect x="240" y="682" width="31" height="21" fill="#acfa80"/><rect x="270" y="682" width="31" height="21" fill="#b4fb80"/><rect x="300" y="682" width="31" height="21" fill="#bcfc80"/><rect x="330" y="682" width="31" height="21" fill="#c3fd80"/><rect x="360" y="682" width="31" height="21" fill="#c8fe80"/><rect x="390" y="682" width="31" height="21" fill="#cafe80"/><rect x="420" y="682" width="31" height="21" fill="#cdff80"/><rect x="450" y="682" width="31" height="21" fill="#ccff80"/><rect x="480" y="682" width="31" height="21" fill="#cbff80"/><rect x="510" y="682" width="31" height="21" fill="#c9fe80"/><rect x="540" y="682" width="31" height="21" fill="#c5fe80"/><rect x="570" y="682" width="31" height="21" fill="#c1fd80"/><rect x="600" y="682" width="31" height="21" fill="#bafc80"/><rect x="630" y="682" width="31" height="21" fill="#b3fa80"/><rect x="660" y="682" width="31" height="21" fill="#acfa80"/><rect x="690" y="682" width="31" height="21" fill="#a5fb80"/><rect x="720" y="682" width="31" height="21" fill="#9ffc80"/><rect x="750" y="682" width="31" height="21" fill="#98fc80"/><rect x="780" y="682" width="31" height="21" fill="#93fc80"/><rect x="810" y="682" width="31" height="21" fill="#90fc82"/><rect x="840" y="682" width="31" height="21" fill="#8dfc83"/><rect x="870" y="682" width="31" height="21" fill="#8bfb85"/><rect x="900" y="682" width="31" height="21" fill="#88fb87"/><rect x="930" y="682" width="31" height="21" fill="#86fb88"/><rect x="960" y="682" width="31" height="21" fill="#85fb89"/><rect x="990" y="682" width="31" height="21" fill="#83fa8a"/><rect x="1020" y="682" width="31" height="21" fill="#82fa8b"/><rect x="1050" y="682" width="91" height="21" fill="#80fa8c"/><rect x="1140" y="682" width="31" height="21" fill="#80fa8d"/><rect x="-30" y="702" width="31" height="21" fill="#8dfc84"/><rect x="0" y="702" width="31" height="21" fill="#8dfc83"/><rect x="30" y="702" width="31" height="21" fill="#8ffc82"/><rect x="60" y="702" width="31" height="21" fill="#91fc81"/><rect x="90" y="702" width="31" height="21" fill="#93fc80"/><rect x="120" y="702" width="31" height="21" fill="#97fc80"/><rect x="150" y="702" width="31" height="21" fill="#9bfc80"/><rect x="180" y="702" width="31" height="21" fill="#a0fb80"/><rect x="210" y="702" width="31" height="21" fill="#a6fb80"/><rect x="240" y="702" width="31" height="21" fill="#adfa80"/><rect x="270" y="702" width="31" height="21" fill="#b4fa80"/><rect x="300" y="702" width="31" height="21" fill="#b9fb80"/><rect x="330" y="702" width="31" height="21" fill="#bffc80"/><rect x="360" y="702" width="31" height="21" fill="#c3fd80"/><rect x="390" y="702" width="31" height="21" fill="#c6fe80"/><rect x="420" y="702" width="31" height="21" fill="#cafe80"/><rect x="450" y="702" width="31" height="21" fill="#cbff80"/><rect x="480" y="702" width="61" height="21" fill="#ccff80"/><rect x="540" y="702" width="31" height="21" fill="#cafe80"/><rect x="570" y="702" width="31" height="21" fill="#c8fe80"/><rect x="600" y="702" width="31" height="21" fill="#c3fd80"/><rect x="630" y="702" width="31" height="21" fill="#befc80"/><rect x="660" y="702" width="31" height="21" fill="#b8fb80"/><rect x="690" y="702" width="31" height="21" fill="#b2fa80"/><rect x="720" y="702" width="31" height="21" fill="#acfa80"/><rect x="750" y="702" width="31" height="21" fill="#a5fb80"/><rect x="780" y="702" width="31" height="21" fill="#9ffc80"/><rect x="810" y="702" width="31" height="21" fill="#9afc80"/><rect x="840" y="702" width="31" height="21" fill="#95fc80"/><rect x="870" y="702" width="31" height="21" fill="#92fc81"/><rect x="900" y="702" width="31" height="21" fill="#8ffc83"/><rect x="930" y="702" width="31" height="21" fill="#8cfc84"/><rect x="960" y="702" width="31" height="21" fill="#8afb85"/><rect x="990" y="702" width="31" height="21" fill="#88fb87"/><rect x="1020" y="702" width="31" height="21" fill="#86fb88"/><rect x="1050" y="702" width="31" height="21" fill="#84fb89"/><rect x="1080" y="702" width="31" height="21" fill="#83fa8a"/><rect x="1110" y="702" width="31" height="21" fill="#82fa8a"/><rect x="1140" y="702" width="31" height="21" fill="#82fa8b"/><rect x="-30" y="722" width="31" height="21" fill="#8efc83"/><rect x="0" y="722" width="31" height="21" fill="#8ffc82"/><rect x="30" y="722" width="31" height="21" fill="#91fc81"/><rect x="60" y="722" width="31" height="21" fill="#92fc80"/><rect x="90" y="722" width="31" height="21" fill="#94fc80"/><rect x="120" y="722" width="31" height="21" fill="#99fc80"/><rect x="150" y="722" width="31" height="21" fill="#9dfc80"/><rect x="180" y="722" width="31" height="21" fill="#a1fb80"/><rect x="210" y="722" width="31" height="21" fill="#a7fb80"/><rect x="240" y="722" width="31" height="21" fill="#acfa80"/><rect x="270" y="722" width="31" height="21" fill="#b2fa80"/><rect x="300" y="722" width="31" height="21" fill="#b6fb80"/><rect x="330" y="722" width="31" height="21" fill="#bafb80"/><rect x="360" y="722" width="31" height="21" fill="#bdfc80"/><rect x="390" y="722" width="31" height="21" fill="#c1fd80"/><rect x="420" y="722" width="31" height="21" fill="#c4fd80"/><rect x="450" y="722" width="31" height="21" fill="#c7fe80"/><rect x="480" y="722" width="31" height="21" fill="#cafe80"/><rect x="510" y="722" width="31" height="21" fill="#cbff80"/><rect x="540" y="722" width="31" height="21" fill="#cafe80"/><rect x="570" y="722" width="31" height="21" fill="#c9fe80"/><rect x="600" y="722" width="31" height="21" fill="#c6fe80"/><rect x="630" y="722" width="31" height="21" fill="#c2fd80"/><rect x="660" y="722" width="31" height="21" fill="#befc80"/><rect x="690" y="722" width="31" height="21" fill="#b9fb80"/><rect x="720" y="722" width="31" height="21" fill="#b3fa80"/><rect x="750" y="722" width="31" height="21" fill="#aefa80"/><rect x="780" y="722" width="31" height="21" fill="#a8fb80"/><rect x="810" y="722" width="31" height="21" fill="#a3fb80"/><rect x="840" y="722" width="31" height="21" fill="#9efc80"/><rect x="870" y="722" width="31" height="21" fill="#99fc80"/><rect x="900" y="722" width="31" height="21" fill="#94fc80"/><rect x="930" y="722" width="31" height="21" fill="#91fc81"/><rect x="960" y="722" width="31" height="21" fill="#8ffc82"/><rect x="990" y="722" width="31" height="21" fill="#8dfc84"/><rect x="1020" y="722" width="31" height="21" fill="#8afb85"/><rect x="1050" y="722" width="31" height="21" fill="#88fb87"/><rect x="1080" y="722" width="31" height="21" fill="#87fb87"/><rect x="1110" y="722" width="31" height="21" fill="#86fb88"/><rect x="1140" y="722" width="31" height="21" fill="#85fb88"/><rect x="-30" y="742" width="31" height="21" fill="#8efc83"/><rect x="0" y="742" width="31" height="21" fill="#8ffc82"/><rect x="30" y="742" width="31" height="21" fill="#91fc81"/><rect x="60" y="742" width="31" height="21" fill="#92fc80"/><rect x="90" y="742" width="31" height="21" fill="#94fc80"/><rect x="120" y="742" width="31" height="21" fill="#99fc80"/><rect x="150" y="742" width="31" height="21" fill="#9dfc80"/><rect x="180" y="742" width="31" height="21" fill="#a1fb80"/><rect x="210" y="742" width="31" height="21" fill="#a7fb80"/><rect x="240" y="742" width="31" height="21" fill="#acfa80"/><rect x="270" y="742" width="31" height="21" fill="#b2fa80"/><rect x="300" y="742" width="31" height="21" fill="#b4fb80"/><rect x="330" y="742" width="31" height="21" fill="#b7fb80"/><rect x="360" y="742" width="31" height="21" fill="#bafc80"/><rect x="390" y="742" width="31" height="21" fill="#bcfc80"/><rect x="420" y="742" width="31" height="21" fill="#bffc80"/><rect x="450" y="742" width="31" height="21" fill="#c2fd80"/><rect x="480" y="742" width="31" height="21" fill="#c4fd80"/><rect x="510" y="742" width="91" height="21" fill="#c6fe80"/><rect x="600" y="742" width="31" height="21" fill="#c4fd80"/><rect x="630" y="742" width="31" height="21" fill="#c2fd80"/><rect x="660" y="742" width="31" height="21" fill="#bffc80"/><rect x="690" y="742" width="31" height="21" fill="#bafc80"/><rect x="720" y="742" width="31" height="21" fill="#b5fb80"/><rect x="750" y="742" width="31" height="21" fill="#b0fa80"/><rect x="780" y="742" width="31" height="21" fill="#abfb80"/><rect x="810" y="742" width="31" height="21" fill="#a6fb80"/><rect x="840" y="742" width="31" height="21" fill="#a2fb80"/><rect x="870" y="742" width="31" height="21" fill="#9dfc80"/><rect x="900" y="742" width="31" height="21" fill="#99fc80"/><rect x="930" y="742" width="31" height="21" fill="#95fc80"/><rect x="960" y="742" width="31" height="21" fill="#92fc80"/><rect x="990" y="742" width="31" height="21" fill="#90fc82"/><rect x="1020" y="742" width="31" height="21" fill="#8dfc83"/><rect x="1050" y="742" width="31" height="21" fill="#8bfb85"/><rect x="1080" y="742" width="31" height="21" fill="#8afb86"/><rect x="1110" y="742" width="61" height="21" fill="#88fb87"/><rect x="-30" y="762" width="31" height="21" fill="#8efc83"/><rect x="0" y="762" width="31" height="21" fill="#8ffc82"/><rect x="30" y="762" width="31" height="21" fill="#91fc81"/><rect x="60" y="762" width="31" height="21" fill="#92fc80"/><rect x="90" y="762" width="31" height="21" fill="#94fc80"/><rect x="120" y="762" width="31" height="21" fill="#99fc80"/><rect x="150" y="762" width="31" height="21" fill="#9dfc80"/><rect x="180" y="762" width="31" height="21" fill="#a1fb80"/><rect x="210" y="762" width="31" height="21" fill="#a7fb80"/><rect x="240" y="762" width="31" height="21" fill="#acfa80"/><rect x="270" y="762" width="31" height="21" fill="#b2fa80"/><rect x="300" y="762" width="31" height="21" fill="#b4fb80"/><rect x="330" y="762" width="31" height="21" fill="#b7fb80"/><rect x="360" y="762" width="31" height="21" fill="#bafc80"/><rect x="390" y="762" width="31" height="21" fill="#bcfc80"/><rect x="420" y="762" width="31" height="21" fill="#bffc80"/><rect x="450" y="762" width="31" height="21" fill="#c2fd80"/><rect x="480" y="762" width="31" height="21" fill="#c4fd80"/><rect x="510" y="762" width="91" height="21" fill="#c6fe80"/><rect x="600" y="762" width="31" height="21" fill="#c4fd80"/><rect x="630" y="762" width="31" height="21" fill="#c2fd80"/><rect x="660" y="762" width="31" height="21" fill="#bffc80"/><rect x="690" y="762" width="31" height="21" fill="#bafc80"/><rect x="720" y="762" width="31" height="21" fill="#b5fb80"/><rect x="750" y="762" width="31" height="21" fill="#b0fa80"/><rect x="780" y="762" width="31" height="21" fill="#abfb80"/><rect x="810" y="762" width="31" height="21" fill="#a6fb80"/><rect x="840" y="762" width="31" height="21" fill="#a2fb80"/><rect x="870" y="762" width="31" height="21" fill="#9dfc80"/><rect x="900" y="762" width="31" height="21" fill="#99fc80"/><rect x="930" y="762" width="31" height="21" fill="#95fc80"/><rect x="960" y="762" width="31" height="21" fill="#92fc80"/><rect x="990" y="762" width="31" height="21" fill="#90fc82"/><rect x="1020" y="762" width="31" height="21" fill="#8dfc83"/><rect x="1050" y="762" width="31" height="21" fill="#8bfb85"/><rect x="1080" y="762" width="31" height="21" fill="#8afb86"/><rect x="1110" y="762" width="61" height="21" fill="#88fb87"/></g><g filter="url(#blur2)"><ellipse cx="505" cy="533.5" rx="80" ry="10" fill="#ffc280" fill-opacity="0.9"/><ellipse cx="410" cy="527.5" rx="60" ry="9" fill="#fef580" fill-opacity="0.7"/></g></g>
<path d="M6.4,541.9 L17.8,541.9 L17.8,539.4 L38.1,539.4 L38.1,536.8 L58.9,536.8 L58.9,534.3 L85.1,534.3 L85.1,531.8 L110.5,531.8 L110.5,529.2 L137.2,529.2 L137.2,526.4 L167.6,526.4 L167.6,524.1 L204.5,524.1 L204.5,521.1 L256.5,521.1 L256.5,518.5 L323.2,518.5 L323.2,519.8 L354.9,519.8 L354.9,522.9 L375.3,522.9 L375.3,525.4 L396.8,525.4 L396.8,527.9 L422.2,527.9 L422.2,530.5 L457.8,530.5 L457.8,533.0 L499.7,533.0 L499.7,531.0 L526.4,531.0 L526.4,530.5 L536.5,530.5 L536.5,526.4 L604.5,526.4 L604.5,528.3 L614.6,528.3 L614.6,530.8 L626.0,530.8 L626.0,535.4 L631.1,535.4 L631.1,538.4 L647.1,538.4 L647.1,541.8 L666.7,541.8 L666.7,543.5 L791.1,543.5 L791.1,545.6 L840.0,545.6 L840.0,547.2 L890.8,547.2 L890.8,548.7 L989.9,548.7 L989.9,551.8 L1104.2,551.8 L1104.2,554.3 L1129.6,554.3 L1129.6,556.8 L1134.6,556.8 L1134.6,558.6 L1138.0,558.6" fill="none" stroke="#111" stroke-width="1.3"/>
<g clip-path="url(#cl1)" class="sl"><path d="M6.4,706.4 C26.1,708.2 85.3,713.6 124.5,717.1 C163.7,720.6 212.1,725.1 241.3,727.2 C270.6,729.3 280.9,728.9 300.0,729.8 C319.1,730.6 327.2,731.7 356.0,732.3 C384.8,732.9 435.7,733.2 473.0,733.6 C510.3,734.0 540.1,735.0 580.0,734.8 C619.9,734.6 670.4,733.1 712.4,732.3 C754.4,731.5 792.8,731.1 831.8,729.8 C870.8,728.4 908.1,727.2 946.7,724.2 C985.3,721.2 1039.0,714.9 1063.5,712.0 C1088.0,709.1 1081.7,712.6 1094.0,706.9 C1106.3,701.2 1130.0,682.6 1137.2,677.7"/><path d="M6.4,684.5 C25.6,687.3 83.2,696.2 121.9,701.3 C160.6,706.4 209.1,711.7 238.8,715.0 C268.5,718.3 273.1,719.4 300.0,720.9 C326.9,722.4 366.7,723.1 400.0,724.0 C433.3,724.9 468.2,725.5 500.0,726.0 C531.8,726.5 556.0,727.1 590.5,726.7 C625.0,726.3 668.3,724.6 707.3,723.4 C746.2,722.2 798.8,720.5 824.2,719.6 C849.7,718.8 840.4,719.6 860.0,718.3 C879.6,716.9 908.5,715.9 941.6,711.5 C974.7,707.1 1033.0,697.6 1058.4,691.7 C1083.8,685.9 1080.9,686.1 1094.0,676.4 C1107.1,666.6 1130.0,640.4 1137.2,633.2"/><path d="M6.4,656.6 C24.0,660.2 75.2,671.5 111.8,678.5 C148.4,685.5 194.7,693.8 226.1,698.8 C257.5,703.8 271.0,705.8 300.0,708.2 C329.0,710.6 366.7,711.9 400.0,713.0 C433.3,714.1 470.4,714.5 500.0,715.0 C529.6,715.5 545.4,716.3 577.8,715.8 C610.2,715.3 654.0,713.7 694.6,712.0 C735.2,710.3 797.4,707.1 821.6,705.6 C845.8,704.1 821.7,705.2 840.0,703.1 C858.3,701.0 897.9,700.5 931.4,692.9 C964.9,685.3 1017.8,669.0 1040.7,657.4 C1063.6,645.8 1061.8,632.2 1068.6,623.1 C1075.4,614.0 1073.2,610.0 1081.3,602.8 C1089.3,595.6 1107.6,585.0 1116.9,579.9 C1126.2,574.8 1133.8,573.6 1137.2,572.3"/><path d="M6.4,632.0 C22.0,636.1 65.8,648.1 100.3,656.6 C134.8,665.1 180.1,676.2 213.4,682.8 C246.7,689.4 268.9,692.8 300.0,696.2 C331.1,699.6 366.7,701.4 400.0,703.0 C433.3,704.6 473.3,705.4 500.0,706.0 C526.7,706.6 529.7,707.0 560.0,706.4 C590.3,705.8 642.1,704.3 681.9,702.3 C721.7,700.3 772.4,696.6 798.8,694.2 C825.1,691.8 820.4,691.3 840.0,687.9 C859.6,684.5 893.3,680.5 916.2,673.9 C939.1,667.3 964.5,659.9 977.2,648.5 C989.9,637.1 985.6,615.9 992.4,605.3 C999.2,594.7 1000.9,593.7 1017.8,585.0 C1034.7,576.3 1081.3,558.5 1094.0,553.2"/><path d="M6.4,612.9 C24.8,618.4 79.8,635.5 116.8,646.0 C153.8,656.5 198.1,668.7 228.6,675.9 C259.1,683.1 271.4,685.6 300.0,689.1 C328.6,692.6 366.7,695.4 400.0,697.0 C433.3,698.6 473.3,698.6 500.0,699.0 C526.7,699.4 527.6,700.2 560.0,699.3 C592.4,698.4 652.7,696.9 694.6,693.7 C736.5,690.5 787.3,683.5 811.5,680.2 C835.7,676.9 822.1,680.9 840.0,673.9 C857.9,666.9 903.5,649.3 918.7,638.3 C933.9,627.3 926.7,616.3 931.4,607.8 C936.1,599.3 935.7,594.3 946.7,587.5 C957.7,580.7 981.0,573.0 997.5,567.2 C1014.0,561.4 1037.7,555.0 1045.7,552.5"/><path d="M6.4,572.3 C16.8,576.8 40.0,588.1 68.6,599.0 C97.2,609.9 139.2,625.3 177.8,637.8 C216.4,650.3 263.0,666.0 300.0,673.9 C337.0,681.8 366.7,682.6 400.0,685.0 C433.3,687.4 473.3,687.7 500.0,688.0 C526.7,688.3 536.9,687.9 560.0,686.6 C583.1,685.3 613.3,682.3 638.7,680.2 C664.1,678.1 692.5,676.9 712.4,673.9 C732.3,670.9 743.3,667.6 758.1,662.5 C772.9,657.4 789.9,652.9 801.3,643.4 C812.7,633.9 820.4,614.2 826.7,605.3 C833.1,596.4 833.0,595.2 839.4,590.1 C845.8,585.0 847.5,581.4 865.4,574.8 C883.3,568.2 933.2,554.7 946.7,550.7"/><path d="M17.8,540.5 C23.3,544.1 33.9,553.9 50.8,562.1 C67.7,570.4 89.8,578.4 119.4,590.0 C149.0,601.6 198.5,619.7 228.6,632.0 C258.7,644.3 279.8,657.0 300.0,663.7 C320.2,670.4 325.0,670.0 350.0,672.0 C375.0,674.0 415.0,676.1 450.0,676.0 C485.0,675.9 520.5,675.2 560.0,671.3 C599.5,667.3 659.5,659.5 687.0,652.3 C714.5,645.1 715.8,636.5 725.1,628.2 C734.4,620.0 734.9,610.0 742.9,602.8 C750.9,595.6 757.2,591.8 773.4,585.0 C789.6,578.2 820.9,567.8 840.0,562.1 C859.1,556.4 880.2,552.6 888.3,550.7"/><path d="M59.7,534.2 C68.1,538.2 92.8,550.0 110.0,558.0 C127.2,566.0 138.6,575.8 162.6,582.4 C186.6,589.0 235.4,593.5 254.0,597.7 C272.6,601.9 267.9,602.7 274.3,607.8 C280.7,612.9 287.8,622.0 292.1,628.2 C296.4,634.4 293.7,640.5 300.0,645.0 C306.3,649.5 313.3,652.5 330.0,655.0 C346.7,657.5 375.0,659.2 400.0,660.0 C425.0,660.8 453.3,660.2 480.0,660.0 C506.7,659.8 538.6,660.7 560.0,658.6 C581.4,656.5 592.2,652.3 608.3,647.2 C624.4,642.1 645.1,635.6 656.5,628.2 C667.9,620.8 669.2,609.8 676.8,602.8 C684.4,595.8 692.0,591.0 702.2,586.3 C712.4,581.6 719.2,580.3 737.8,574.8 C756.4,569.3 796.2,557.8 814.0,553.2 C831.8,548.6 839.4,548.4 844.5,547.4"/><path d="M90.0,528.0 C100.0,531.7 128.3,542.2 150.0,550.0 C171.7,557.8 200.0,567.0 220.0,575.0 C240.0,583.0 258.0,591.3 270.0,598.0 C282.0,604.7 286.2,608.0 292.0,615.0 C297.8,622.0 298.7,634.2 305.0,640.0 C311.3,645.8 314.2,648.0 330.0,650.0 C345.8,652.0 375.0,652.0 400.0,652.0 C425.0,652.0 453.3,651.0 480.0,650.0 C506.7,649.0 540.3,648.8 560.0,646.0 C579.7,643.2 588.3,638.2 598.0,633.0 C607.7,627.8 610.3,621.8 618.0,615.0 C625.7,608.2 634.5,598.3 644.0,592.0 C653.5,585.7 664.0,581.5 675.0,577.0 C686.0,572.5 695.8,568.2 710.0,565.0 C724.2,561.8 745.0,560.7 760.0,558.0 C775.0,555.3 793.3,550.5 800.0,549.0"/><path d="M305.0,598.0 C309.2,600.0 321.7,605.5 330.0,610.0 C338.3,614.5 349.7,620.0 355.0,625.0 C360.3,630.0 354.5,636.7 362.0,640.0 C369.5,643.3 387.0,644.7 400.0,645.0 C413.0,645.3 429.3,642.8 440.0,642.0 C450.7,641.2 455.7,639.5 464.0,640.0 C472.3,640.5 480.4,644.7 490.0,645.0 C499.6,645.3 513.0,643.3 521.6,641.6 C530.2,639.9 532.2,639.2 541.9,634.8 C551.6,630.4 567.0,621.1 580.0,615.0 C593.0,608.9 606.7,603.5 620.0,598.0 C633.3,592.5 646.7,587.0 660.0,582.0 C673.3,577.0 685.0,572.8 700.0,568.0 C715.0,563.2 741.7,555.5 750.0,553.0"/><path d="M330.0,574.0 C335.0,575.8 348.3,581.0 360.0,585.0 C371.7,589.0 388.3,593.8 400.0,598.0 C411.7,602.2 419.3,606.1 430.0,610.0 C440.7,613.9 454.4,618.3 464.0,621.3 C473.6,624.3 480.9,625.7 487.7,628.1 C494.5,630.5 499.0,634.6 504.7,635.7 C510.4,636.8 515.4,636.1 521.6,634.8 C527.8,633.5 536.2,630.9 541.9,628.1 C547.5,625.3 547.5,622.9 555.5,617.9 C563.5,612.9 575.9,605.0 590.0,598.0 C604.1,591.0 623.3,582.7 640.0,576.0 C656.7,569.3 673.7,563.2 690.0,558.0 C706.3,552.8 730.0,547.2 738.0,545.0"/><path d="M374.0,575.0 C376.7,577.5 382.3,585.8 390.0,590.0 C397.7,594.2 410.8,597.3 420.0,600.0 C429.2,602.7 437.7,604.1 445.0,606.0 C452.3,607.9 456.9,609.1 464.0,611.1 C471.1,613.1 480.9,615.1 487.7,617.9 C494.5,620.7 499.0,626.3 504.7,628.1 C510.4,629.9 515.4,630.0 521.6,628.9 C527.8,627.8 536.2,624.3 541.9,621.3 C547.5,618.3 547.5,616.0 555.5,611.1 C563.5,606.2 577.6,598.4 590.0,592.0 C602.4,585.6 615.0,579.0 630.0,573.0 C645.0,567.0 663.3,560.5 680.0,556.0 C696.7,551.5 721.7,547.7 730.0,546.0"/><path d="M402.0,575.0 C405.0,576.3 412.8,580.5 420.0,583.0 C427.2,585.5 437.7,588.1 445.0,590.0 C452.3,591.9 456.9,592.7 464.0,594.2 C471.1,595.8 481.5,596.5 487.7,599.3 C493.9,602.1 496.8,608.4 501.3,611.1 C505.8,613.8 508.6,615.4 514.8,615.4 C521.0,615.4 531.7,613.5 538.5,611.1 C545.3,608.7 546.9,605.4 555.5,601.0 C564.1,596.6 577.6,590.5 590.0,585.0 C602.4,579.5 616.7,572.8 630.0,568.0 C643.3,563.2 655.0,559.5 670.0,556.0 C685.0,552.5 711.7,548.5 720.0,547.0"/><path d="M430.0,573.0 C434.2,573.2 449.3,573.4 455.0,574.0 C460.7,574.6 458.6,574.4 464.0,576.4 C469.4,578.4 481.5,581.3 487.7,585.7 C493.9,590.1 497.1,598.9 501.3,602.7 C505.5,606.5 508.3,608.1 513.1,608.6 C517.9,609.1 523.0,608.1 530.1,606.0 C537.2,603.9 545.5,599.9 555.5,595.9 C565.5,591.9 579.2,586.2 590.0,582.0 C600.8,577.8 608.3,574.7 620.0,570.5 C631.7,566.3 646.7,560.8 660.0,557.0 C673.3,553.2 693.3,549.5 700.0,548.0"/><path d="M112.0,529.0 C118.3,531.8 131.8,540.0 150.0,546.0 C168.2,552.0 203.7,561.0 221.0,565.0 C238.3,569.0 240.8,569.8 254.0,570.0 C267.2,570.2 279.0,567.0 300.0,566.0 C321.0,565.0 353.5,564.5 380.0,564.0 C406.5,563.5 439.0,563.3 459.0,563.0 C479.0,562.7 486.5,562.5 500.0,562.0 C513.5,561.5 526.7,561.0 540.0,560.0 C553.3,559.0 566.7,557.3 580.0,556.0 C593.3,554.7 606.7,553.3 620.0,552.0 C633.3,550.7 646.7,549.2 660.0,548.0 C673.3,546.8 687.0,545.7 700.0,545.0 C713.0,544.3 731.7,544.2 738.0,544.0"/><path d="M114.0,528.9 C120.5,531.7 135.1,540.1 153.0,546.2 C170.9,552.3 204.7,561.4 221.7,565.4 C238.7,569.4 241.8,570.1 254.8,570.5 C267.9,570.9 279.1,568.2 300.0,567.5 C320.9,566.8 353.5,566.4 380.0,566.0 C406.5,565.6 439.0,565.2 459.0,565.0 C479.0,564.8 486.5,565.2 500.0,565.0 C513.5,564.8 526.7,564.8 540.0,564.0 C553.3,563.2 566.7,561.5 580.0,560.0 C593.3,558.5 606.7,556.7 620.0,555.0 C633.3,553.3 646.7,551.5 660.0,550.0 C673.3,548.5 687.5,546.9 700.0,546.0 C712.5,545.1 729.2,544.8 735.0,544.5"/><path d="M116.0,528.7 C122.7,531.7 138.3,540.2 156.0,546.4 C173.7,552.6 205.8,561.7 222.4,565.8 C239.0,569.9 242.7,570.5 255.6,571.0 C268.5,571.5 279.3,569.5 300.0,569.0 C320.7,568.5 353.5,568.2 380.0,568.0 C406.5,567.8 443.0,567.3 459.0,567.5 C475.0,567.7 468.3,568.4 476.0,569.0 C483.7,569.6 496.0,570.2 505.0,571.0 C514.0,571.8 520.8,573.8 530.0,574.0 C539.2,574.2 548.3,573.7 560.0,572.0 C571.7,570.3 586.7,566.7 600.0,564.0 C613.3,561.3 626.7,558.5 640.0,556.0 C653.3,553.5 666.7,550.8 680.0,549.0 C693.3,547.2 713.3,546.1 720.0,545.5"/><path d="M118.0,528.5 C124.8,531.6 141.5,540.3 159.0,546.6 C176.5,552.9 206.9,562.1 223.1,566.2 C239.3,570.4 243.6,570.8 256.4,571.5 C269.2,572.2 279.4,570.8 300.0,570.5 C320.6,570.2 353.5,569.7 380.0,569.5 C406.5,569.3 443.0,569.2 459.0,569.5 C475.0,569.8 468.4,570.6 476.0,571.5 C483.6,572.4 495.7,573.6 504.7,575.0 C513.7,576.4 523.1,579.1 530.1,580.0 C537.1,580.9 539.5,581.3 547.0,580.5 C554.5,579.7 564.5,577.4 575.0,575.0 C585.5,572.6 597.5,569.0 610.0,566.0 C622.5,563.0 636.7,559.7 650.0,557.0 C663.3,554.3 677.5,551.8 690.0,550.0 C702.5,548.2 719.2,546.7 725.0,546.0"/><path d="M150.0,527.0 C158.3,530.0 182.7,540.0 200.0,545.0 C217.3,550.0 237.3,554.8 254.0,557.0 C270.7,559.2 279.0,558.0 300.0,558.0 C321.0,558.0 353.3,556.7 380.0,557.0 C406.7,557.3 433.3,559.3 460.0,560.0 C486.7,560.7 520.0,561.5 540.0,561.0 C560.0,560.5 568.2,557.6 580.0,557.0 C591.8,556.4 597.3,559.0 611.0,557.5 C624.7,556.0 647.2,550.2 662.0,548.0 C676.8,545.8 693.7,544.7 700.0,544.0"/><path d="M178.0,524.0 C186.7,526.2 211.8,533.0 230.0,537.0 C248.2,541.0 272.3,547.0 287.0,548.0 C301.7,549.0 298.0,542.5 318.0,543.0 C338.0,543.5 379.5,549.1 407.0,551.0 C434.5,552.9 463.5,553.9 483.0,554.5 C502.5,555.1 507.8,555.4 524.0,554.5 C540.2,553.6 565.5,551.1 580.0,549.0 C594.5,546.9 597.3,543.0 611.0,542.0 C624.7,541.0 653.5,542.8 662.0,543.0"/><path d="M204.0,521.5 C212.3,521.8 238.0,521.3 254.0,523.0 C270.0,524.7 281.7,529.2 300.0,531.6 C318.3,534.0 343.9,536.0 363.8,537.5 C383.8,539.0 399.8,539.6 419.7,540.5 C439.6,541.4 464.1,542.9 483.2,543.1 C502.2,543.3 517.9,542.6 534.0,541.8 C550.1,540.9 569.3,539.1 580.0,538.0 C590.7,536.9 587.3,535.0 598.0,535.4 C608.7,535.8 636.3,539.6 644.0,540.5"/><path d="M254.0,520.0 C261.7,521.1 281.7,524.9 300.0,526.6 C318.3,528.3 343.8,528.9 363.8,530.0 C383.8,531.1 400.1,532.2 420.0,533.0 C439.9,533.8 464.0,535.0 483.0,535.0 C502.0,535.0 521.2,533.5 534.0,533.0 C546.8,532.5 549.3,532.3 560.0,532.0 C570.7,531.7 586.3,530.7 598.0,531.0 C609.7,531.3 624.7,533.5 630.0,534.0"/><path d="M120.0,528.4 C127.0,531.5 144.7,540.4 162.0,546.8 C179.3,553.2 207.9,562.4 223.8,566.6 C239.7,570.8 244.5,571.1 257.2,572.0 C269.9,572.9 279.5,572.2 300.0,572.0 C320.5,571.8 353.5,571.2 380.0,571.0 C406.5,570.8 443.0,570.6 459.0,571.0 C475.0,571.4 468.4,572.3 476.0,573.5 C483.6,574.7 495.7,576.4 504.7,578.0 C513.7,579.6 523.1,582.1 530.1,583.0 C537.1,583.9 537.2,585.2 547.0,583.5 C556.8,581.8 576.8,575.8 589.0,573.0 C601.2,570.2 608.2,569.2 620.0,566.5 C631.8,563.8 646.7,559.9 660.0,557.0 C673.3,554.1 688.3,550.9 700.0,549.0 C711.7,547.1 725.0,546.1 730.0,545.5"/><path d="M122.0,528.2 C129.2,531.4 147.9,540.5 165.0,547.0 C182.1,553.5 209.0,562.8 224.5,567.0 C240.0,571.2 245.4,571.4 258.0,572.5 C270.6,573.6 279.7,573.5 300.0,573.5 C320.3,573.5 353.8,572.7 380.0,572.5 C406.2,572.3 441.1,572.1 457.0,572.5 C472.9,572.9 468.0,573.6 475.5,575.0 C483.0,576.4 494.2,578.5 502.0,581.0 C509.8,583.5 516.5,588.2 522.0,590.0 C527.5,591.8 530.0,592.2 535.0,592.0 C540.0,591.8 545.3,591.0 552.0,589.0 C558.7,587.0 566.2,583.0 575.0,580.0 C583.8,577.0 594.2,574.2 605.0,571.0 C615.8,567.8 627.5,564.3 640.0,561.0 C652.5,557.7 666.7,553.5 680.0,551.0 C693.3,548.5 713.3,546.8 720.0,546.0"/><path d="M124.0,528.1 C131.3,531.3 151.1,540.7 168.0,547.2 C184.9,553.8 210.1,563.1 225.2,567.4 C240.3,571.7 246.3,571.7 258.8,573.0 C271.3,574.3 289.8,574.7 300.0,575.0 C310.2,575.3 313.3,574.5 320.0,575.0 C326.7,575.5 331.7,576.3 340.0,578.0 C348.3,579.7 360.0,582.7 370.0,585.0 C380.0,587.3 390.0,589.5 400.0,592.0 C410.0,594.5 420.8,597.3 430.0,600.0 C439.2,602.7 448.3,604.7 455.0,608.0 C461.7,611.3 464.2,616.0 470.0,620.0 C475.8,624.0 483.3,628.7 490.0,632.0 C496.7,635.3 503.3,638.8 510.0,640.0 C516.7,641.2 523.3,640.7 530.0,639.0 C536.7,637.3 541.7,634.5 550.0,630.0 C558.3,625.5 568.3,618.3 580.0,612.0 C591.7,605.7 606.7,598.2 620.0,592.0 C633.3,585.8 646.7,580.3 660.0,575.0 C673.3,569.7 685.8,564.5 700.0,560.0 C714.2,555.5 737.5,550.0 745.0,548.0"/></g>
<g class="ar"><path d="M-10,-4.2 L0,0 L-10,4.2" transform="translate(46.2,710.0) rotate(5.2)"/><path d="M-10,-4.2 L0,0 L-10,4.2" transform="translate(162.8,720.5) rotate(5.1)"/><path d="M-10,-4.2 L0,0 L-10,4.2" transform="translate(279.4,729.1) rotate(1.6)"/><path d="M-10,-4.2 L0,0 L-10,4.2" transform="translate(396.4,732.9) rotate(0.6)"/><path d="M-10,-4.2 L0,0 L-10,4.2" transform="translate(513.3,734.2) rotate(1.0)"/><path d="M-10,-4.2 L0,0 L-10,4.2" transform="translate(630.3,734.1) rotate(-1.1)"/><path d="M-10,-4.2 L0,0 L-10,4.2" transform="translate(747.3,731.7) rotate(-0.9)"/><path d="M-10,-4.2 L0,0 L-10,4.2" transform="translate(864.3,728.6) rotate(-2.2)"/><path d="M-10,-4.2 L0,0 L-10,4.2" transform="translate(981.0,721.1) rotate(-5.7)"/><path d="M-10,-4.2 L0,0 L-10,4.2" transform="translate(1096.5,705.6) rotate(-27.1)"/><path d="M-10,-4.2 L0,0 L-10,4.2" transform="translate(82.6,695.8) rotate(8.2)"/><path d="M-10,-4.2 L0,0 L-10,4.2" transform="translate(198.6,710.5) rotate(6.5)"/><path d="M-10,-4.2 L0,0 L-10,4.2" transform="translate(315.1,721.6) rotate(2.2)"/><path d="M-10,-4.2 L0,0 L-10,4.2" transform="translate(432.0,724.8) rotate(1.3)"/><path d="M-10,-4.2 L0,0 L-10,4.2" transform="translate(549.0,726.7) rotate(0.6)"/><path d="M-10,-4.2 L0,0 L-10,4.2" transform="translate(666.0,724.7) rotate(-1.9)"/><path d="M-10,-4.2 L0,0 L-10,4.2" transform="translate(782.9,721.0) rotate(-1.9)"/><path d="M-10,-4.2 L0,0 L-10,4.2" transform="translate(899.8,715.8) rotate(-4.2)"/><path d="M-10,-4.2 L0,0 L-10,4.2" transform="translate(1015.7,699.9) rotate(-10.0)"/><path d="M-10,-4.2 L0,0 L-10,4.2" transform="translate(1118.7,652.9) rotate(-46.7)"/><path d="M-10,-4.2 L0,0 L-10,4.2" transform="translate(118.0,679.7) rotate(10.8)"/><path d="M-10,-4.2 L0,0 L-10,4.2" transform="translate(233.3,699.9) rotate(9.0)"/><path d="M-10,-4.2 L0,0 L-10,4.2" transform="translate(349.6,711.1) rotate(2.4)"/><path d="M-10,-4.2 L0,0 L-10,4.2" transform="translate(466.6,714.5) rotate(0.9)"/><path d="M-10,-4.2 L0,0 L-10,4.2" transform="translate(583.6,715.7) rotate(-1.0)"/><path d="M-10,-4.2 L0,0 L-10,4.2" transform="translate(700.5,711.7) rotate(-2.5)"/><path d="M-10,-4.2 L0,0 L-10,4.2" transform="translate(817.4,705.9) rotate(-3.4)"/><path d="M-10,-4.2 L0,0 L-10,4.2" transform="translate(931.9,692.8) rotate(-13.4)"/><path d="M-10,-4.2 L0,0 L-10,4.2" transform="translate(1042.8,656.2) rotate(-29.4)"/><path d="M-10,-4.2 L0,0 L-10,4.2" transform="translate(1123.6,576.7) rotate(-21.4)"/><path d="M-10,-4.2 L0,0 L-10,4.2" transform="translate(152.7,669.3) rotate(13.3)"/><path d="M-10,-4.2 L0,0 L-10,4.2" transform="translate(267.4,692.2) rotate(8.0)"/><path d="M-10,-4.2 L0,0 L-10,4.2" transform="translate(383.9,702.2) rotate(2.9)"/><path d="M-10,-4.2 L0,0 L-10,4.2" transform="translate(500.9,706.0) rotate(1.3)"/><path d="M-10,-4.2 L0,0 L-10,4.2" transform="translate(617.8,704.9) rotate(-1.9)"/><path d="M-10,-4.2 L0,0 L-10,4.2" transform="translate(734.7,699.1) rotate(-3.8)"/><path d="M-10,-4.2 L0,0 L-10,4.2" transform="translate(850.8,686.1) rotate(-9.0)"/><path d="M-10,-4.2 L0,0 L-10,4.2" transform="translate(963.8,657.2) rotate(-26.4)"/><path d="M-10,-4.2 L0,0 L-10,4.2" transform="translate(1037.1,576.3) rotate(-22.9)"/><path d="M-10,-4.2 L0,0 L-10,4.2" transform="translate(74.3,633.5) rotate(16.7)"/><path d="M-10,-4.2 L0,0 L-10,4.2" transform="translate(186.9,665.3) rotate(14.8)"/><path d="M-10,-4.2 L0,0 L-10,4.2" transform="translate(301.3,689.3) rotate(6.7)"/><path d="M-10,-4.2 L0,0 L-10,4.2" transform="translate(418.0,697.7) rotate(1.7)"/><path d="M-10,-4.2 L0,0 L-10,4.2" transform="translate(535.0,699.7) rotate(0.3)"/><path d="M-10,-4.2 L0,0 L-10,4.2" transform="translate(651.9,696.2) rotate(-2.7)"/><path d="M-10,-4.2 L0,0 L-10,4.2" transform="translate(768.4,685.9) rotate(-7.1)"/><path d="M-10,-4.2 L0,0 L-10,4.2" transform="translate(880.9,657.4) rotate(-23.5)"/><path d="M-10,-4.2 L0,0 L-10,4.2" transform="translate(959.4,581.2) rotate(-23.1)"/><path d="M-10,-4.2 L0,0 L-10,4.2" transform="translate(106.4,613.1) rotate(20.0)"/><path d="M-10,-4.2 L0,0 L-10,4.2" transform="translate(217.2,650.6) rotate(17.8)"/><path d="M-10,-4.2 L0,0 L-10,4.2" transform="translate(330.5,679.1) rotate(7.6)"/><path d="M-10,-4.2 L0,0 L-10,4.2" transform="translate(447.2,687.1) rotate(1.5)"/><path d="M-10,-4.2 L0,0 L-10,4.2" transform="translate(564.1,686.4) rotate(-3.5)"/><path d="M-10,-4.2 L0,0 L-10,4.2" transform="translate(680.7,677.1) rotate(-4.4)"/><path d="M-10,-4.2 L0,0 L-10,4.2" transform="translate(793.4,648.8) rotate(-29.8)"/><path d="M-10,-4.2 L0,0 L-10,4.2" transform="translate(875.9,571.3) rotate(-18.0)"/><path d="M-10,-4.2 L0,0 L-10,4.2" transform="translate(148.7,601.3) rotate(20.8)"/><path d="M-10,-4.2 L0,0 L-10,4.2" transform="translate(257.3,644.8) rotate(25.6)"/><path d="M-10,-4.2 L0,0 L-10,4.2" transform="translate(369.3,673.4) rotate(3.7)"/><path d="M-10,-4.2 L0,0 L-10,4.2" transform="translate(486.3,675.6) rotate(-1.4)"/><path d="M-10,-4.2 L0,0 L-10,4.2" transform="translate(602.8,666.4) rotate(-7.1)"/><path d="M-10,-4.2 L0,0 L-10,4.2" transform="translate(715.1,638.6) rotate(-41.9)"/><path d="M-10,-4.2 L0,0 L-10,4.2" transform="translate(807.0,572.7) rotate(-18.6)"/><path d="M-10,-4.2 L0,0 L-10,4.2" transform="translate(118.3,562.2) rotate(28.7)"/><path d="M-10,-4.2 L0,0 L-10,4.2" transform="translate(229.8,593.7) rotate(8.2)"/><path d="M-10,-4.2 L0,0 L-10,4.2" transform="translate(321.3,653.5) rotate(12.0)"/><path d="M-10,-4.2 L0,0 L-10,4.2" transform="translate(437.9,660.4) rotate(-0.2)"/><path d="M-10,-4.2 L0,0 L-10,4.2" transform="translate(554.9,659.0) rotate(-4.8)"/><path d="M-10,-4.2 L0,0 L-10,4.2" transform="translate(664.0,621.4) rotate(-52.0)"/><path d="M-10,-4.2 L0,0 L-10,4.2" transform="translate(763.2,567.4) rotate(-16.1)"/><path d="M-10,-4.2 L0,0 L-10,4.2" transform="translate(186.0,562.6) rotate(19.2)"/><path d="M-10,-4.2 L0,0 L-10,4.2" transform="translate(290.5,613.2) rotate(48.0)"/><path d="M-10,-4.2 L0,0 L-10,4.2" transform="translate(388.7,652.0) rotate(0.1)"/><path d="M-10,-4.2 L0,0 L-10,4.2" transform="translate(505.6,649.2) rotate(-1.6)"/><path d="M-10,-4.2 L0,0 L-10,4.2" transform="translate(614.4,618.5) rotate(-46.7)"/><path d="M-10,-4.2 L0,0 L-10,4.2" transform="translate(715.6,563.9) rotate(-9.9)"/><path d="M-10,-4.2 L0,0 L-10,4.2" transform="translate(426.0,643.4) rotate(-6.1)"/><path d="M-10,-4.2 L0,0 L-10,4.2" transform="translate(540.9,635.2) rotate(-24.4)"/><path d="M-10,-4.2 L0,0 L-10,4.2" transform="translate(647.4,586.9) rotate(-21.5)"/><path d="M-10,-4.2 L0,0 L-10,4.2" transform="translate(385.8,593.3) rotate(17.6)"/><path d="M-10,-4.2 L0,0 L-10,4.2" transform="translate(496.0,632.0) rotate(28.6)"/><path d="M-10,-4.2 L0,0 L-10,4.2" transform="translate(600.9,592.8) rotate(-25.0)"/><path d="M-10,-4.2 L0,0 L-10,4.2" transform="translate(710.5,552.1) rotate(-15.0)"/><path d="M-10,-4.2 L0,0 L-10,4.2" transform="translate(461.0,610.3) rotate(15.5)"/><path d="M-10,-4.2 L0,0 L-10,4.2" transform="translate(567.1,604.3) rotate(-29.5)"/><path d="M-10,-4.2 L0,0 L-10,4.2" transform="translate(674.1,557.7) rotate(-16.3)"/><path d="M-10,-4.2 L0,0 L-10,4.2" transform="translate(525.8,614.3) rotate(-9.6)"/><path d="M-10,-4.2 L0,0 L-10,4.2" transform="translate(632.4,567.1) rotate(-19.7)"/><path d="M-10,-4.2 L0,0 L-10,4.2" transform="translate(481.6,582.4) rotate(22.8)"/><path d="M-10,-4.2 L0,0 L-10,4.2" transform="translate(583.4,584.6) rotate(-21.8)"/><path d="M-10,-4.2 L0,0 L-10,4.2" transform="translate(694.6,549.1) rotate(-11.6)"/><path d="M-10,-4.2 L0,0 L-10,4.2" transform="translate(220.8,565.0) rotate(13.2)"/><path d="M-10,-4.2 L0,0 L-10,4.2" transform="translate(337.1,564.8) rotate(-1.3)"/><path d="M-10,-4.2 L0,0 L-10,4.2" transform="translate(454.1,563.1) rotate(-0.9)"/><path d="M-10,-4.2 L0,0 L-10,4.2" transform="translate(570.9,557.0) rotate(-6.1)"/><path d="M-10,-4.2 L0,0 L-10,4.2" transform="translate(687.3,545.8) rotate(-3.9)"/><path d="M-10,-4.2 L0,0 L-10,4.2" transform="translate(222.6,565.6) rotate(13.4)"/><path d="M-10,-4.2 L0,0 L-10,4.2" transform="translate(339.0,566.6) rotate(-0.9)"/><path d="M-10,-4.2 L0,0 L-10,4.2" transform="translate(456.0,565.0) rotate(-0.5)"/><path d="M-10,-4.2 L0,0 L-10,4.2" transform="translate(572.8,560.8) rotate(-6.5)"/><path d="M-10,-4.2 L0,0 L-10,4.2" transform="translate(689.0,546.9) rotate(-5.3)"/><path d="M-10,-4.2 L0,0 L-10,4.2" transform="translate(224.4,566.3) rotate(13.8)"/><path d="M-10,-4.2 L0,0 L-10,4.2" transform="translate(340.9,568.4) rotate(-0.6)"/><path d="M-10,-4.2 L0,0 L-10,4.2" transform="translate(457.9,567.5) rotate(0.4)"/><path d="M-10,-4.2 L0,0 L-10,4.2" transform="translate(574.2,569.5) rotate(-11.5)"/><path d="M-10,-4.2 L0,0 L-10,4.2" transform="translate(689.1,548.0) rotate(-5.7)"/><path d="M-10,-4.2 L0,0 L-10,4.2" transform="translate(226.1,567.0) rotate(14.1)"/><path d="M-10,-4.2 L0,0 L-10,4.2" transform="translate(342.7,569.9) rotate(-0.7)"/><path d="M-10,-4.2 L0,0 L-10,4.2" transform="translate(459.7,569.5) rotate(1.5)"/><path d="M-10,-4.2 L0,0 L-10,4.2" transform="translate(575.2,575.0) rotate(-13.3)"/><path d="M-10,-4.2 L0,0 L-10,4.2" transform="translate(689.4,550.1) rotate(-8.5)"/><path d="M-10,-4.2 L0,0 L-10,4.2" transform="translate(266.4,558.1) rotate(2.6)"/><path d="M-10,-4.2 L0,0 L-10,4.2" transform="translate(383.4,557.1) rotate(1.0)"/><path d="M-10,-4.2 L0,0 L-10,4.2" transform="translate(500.3,560.9) rotate(1.0)"/><path d="M-10,-4.2 L0,0 L-10,4.2" transform="translate(617.0,556.7) rotate(-8.9)"/><path d="M-10,-4.2 L0,0 L-10,4.2" transform="translate(217.7,534.1) rotate(13.6)"/><path d="M-10,-4.2 L0,0 L-10,4.2" transform="translate(332.5,543.9) rotate(4.7)"/><path d="M-10,-4.2 L0,0 L-10,4.2" transform="translate(449.1,553.3) rotate(2.4)"/><path d="M-10,-4.2 L0,0 L-10,4.2" transform="translate(565.9,550.8) rotate(-6.4)"/><path d="M-10,-4.2 L0,0 L-10,4.2" transform="translate(281.5,528.2) rotate(12.5)"/><path d="M-10,-4.2 L0,0 L-10,4.2" transform="translate(397.8,539.5) rotate(2.7)"/><path d="M-10,-4.2 L0,0 L-10,4.2" transform="translate(514.7,542.7) rotate(-2.2)"/><path d="M-10,-4.2 L0,0 L-10,4.2" transform="translate(631.1,538.9) rotate(7.2)"/><path d="M-10,-4.2 L0,0 L-10,4.2" transform="translate(368.4,530.3) rotate(3.1)"/><path d="M-10,-4.2 L0,0 L-10,4.2" transform="translate(485.3,535.0) rotate(-0.4)"/><path d="M-10,-4.2 L0,0 L-10,4.2" transform="translate(602.2,531.2) rotate(3.4)"/><path d="M-10,-4.2 L0,0 L-10,4.2" transform="translate(227.9,567.7) rotate(13.8)"/><path d="M-10,-4.2 L0,0 L-10,4.2" transform="translate(344.5,571.4) rotate(-0.8)"/><path d="M-10,-4.2 L0,0 L-10,4.2" transform="translate(461.5,571.1) rotate(1.8)"/><path d="M-10,-4.2 L0,0 L-10,4.2" transform="translate(576.3,576.2) rotate(-14.9)"/><path d="M-10,-4.2 L0,0 L-10,4.2" transform="translate(690.4,550.7) rotate(-10.8)"/><path d="M-10,-4.2 L0,0 L-10,4.2" transform="translate(229.6,568.3) rotate(14.0)"/><path d="M-10,-4.2 L0,0 L-10,4.2" transform="translate(346.2,572.9) rotate(-0.9)"/><path d="M-10,-4.2 L0,0 L-10,4.2" transform="translate(463.2,572.7) rotate(2.5)"/><path d="M-10,-4.2 L0,0 L-10,4.2" transform="translate(575.1,580.0) rotate(-18.4)"/><path d="M-10,-4.2 L0,0 L-10,4.2" transform="translate(688.0,549.7) rotate(-8.0)"/><path d="M-10,-4.2 L0,0 L-10,4.2" transform="translate(231.3,569.0) rotate(14.2)"/><path d="M-10,-4.2 L0,0 L-10,4.2" transform="translate(347.5,579.6) rotate(13.0)"/><path d="M-10,-4.2 L0,0 L-10,4.2" transform="translate(459.8,611.1) rotate(38.9)"/><path d="M-10,-4.2 L0,0 L-10,4.2" transform="translate(564.0,621.5) rotate(-32.1)"/><path d="M-10,-4.2 L0,0 L-10,4.2" transform="translate(669.4,571.2) rotate(-21.8)"/></g>
<rect x="306.7" y="572.8" width="155.7" height="64.8" fill="none" stroke="#00aaff" stroke-width="3.6"/>
<text x="381.6" y="517.8" class="tk" font-size="25">Net Cage</text>
<line x1="6" x2="1143" y1="491.5" y2="491.5" class="ax"/>
<line x1="6" x2="1143" y1="751.5" y2="751.5" class="ax"/>
<line x1="1137.4" x2="1137.4" y1="491.5" y2="751.5" class="ax"/>
<line x1="21.5" x2="21.5" y1="491.5" y2="751.5" stroke="#111" stroke-width="1.2"/>
<line x1="1137.3" x2="1137.3" y1="559.1" y2="750.3" stroke="#0a9a1a" stroke-width="2.6"/>
<line x1="1137.4" x2="1142.4" y1="751.5" y2="751.5" stroke="#111" stroke-width="1.3"/>
<line x1="1137.4" x2="1142.4" y1="686.5" y2="686.5" stroke="#111" stroke-width="1.3"/>
<line x1="1137.4" x2="1142.4" y1="621.5" y2="621.5" stroke="#111" stroke-width="1.3"/>
<line x1="1137.4" x2="1142.4" y1="556.5" y2="556.5" stroke="#111" stroke-width="1.3"/>
<line x1="1137.4" x2="1142.4" y1="491.5" y2="491.5" stroke="#111" stroke-width="1.3"/>
<text x="1143.5" y="760.0" class="tk" font-size="25">0</text>
<text x="1143.5" y="695.0" class="tk" font-size="25">0.5</text>
<text x="1143.5" y="630.0" class="tk" font-size="25">1</text>
<text x="1143.5" y="565.0" class="tk" font-size="25">1.5</text>
<text x="1143.5" y="500.0" class="tk" font-size="25">2</text>
<line x1="21.5" x2="21.5" y1="751.5" y2="756.5" stroke="#111" stroke-width="1.5"/>
<text x="22.5" y="777.5" class="tk" text-anchor="middle" font-size="25">0.5</text>
<line x1="151.3" x2="151.3" y1="751.5" y2="756.5" stroke="#111" stroke-width="1.5"/>
<text x="152.3" y="777.5" class="tk" text-anchor="middle" font-size="25">1</text>
<line x1="281.1" x2="281.1" y1="751.5" y2="756.5" stroke="#111" stroke-width="1.5"/>
<text x="282.1" y="777.5" class="tk" text-anchor="middle" font-size="25">1.5</text>
<line x1="410.9" x2="410.9" y1="751.5" y2="756.5" stroke="#111" stroke-width="1.5"/>
<text x="411.9" y="777.5" class="tk" text-anchor="middle" font-size="25">2</text>
<line x1="540.7" x2="540.7" y1="751.5" y2="756.5" stroke="#111" stroke-width="1.5"/>
<text x="541.7" y="777.5" class="tk" text-anchor="middle" font-size="25">2.5</text>
<line x1="670.5" x2="670.5" y1="751.5" y2="756.5" stroke="#111" stroke-width="1.5"/>
<text x="671.5" y="777.5" class="tk" text-anchor="middle" font-size="25">3</text>
<line x1="800.3" x2="800.3" y1="751.5" y2="756.5" stroke="#111" stroke-width="1.5"/>
<text x="801.3" y="777.5" class="tk" text-anchor="middle" font-size="25">3.5</text>
<line x1="930.1" x2="930.1" y1="751.5" y2="756.5" stroke="#111" stroke-width="1.5"/>
<text x="931.1" y="777.5" class="tk" text-anchor="middle" font-size="25">4</text>
<line x1="1059.9" x2="1059.9" y1="751.5" y2="756.5" stroke="#111" stroke-width="1.5"/>
<text x="1060.9" y="777.5" class="tk" text-anchor="middle" font-size="25">4.5</text>
<text x="1129.5" y="777.5" class="tk" text-anchor="middle" font-size="25">4.8</text>
<text x="590" y="795.6" class="it" font-size="25.5">x</text>
<text x="605" y="795.6" class="tk" font-size="25.5">/m</text>
<text x="5.5" y="846.8" class="lab">C</text>
<text x="325.4" y="842.4" class="it" font-size="25">u</text>
<rect x="353" y="818.6" width="436" height="31" fill="url(#cbg)"/>
<line x1="373.50" x2="373.50" y1="818.6" y2="849.6" class="div"/>
<line x1="413.05" x2="413.05" y1="818.6" y2="849.6" class="div"/>
<line x1="452.60" x2="452.60" y1="818.6" y2="849.6" class="div"/>
<line x1="492.15" x2="492.15" y1="818.6" y2="849.6" class="div"/>
<line x1="531.70" x2="531.70" y1="818.6" y2="849.6" class="div"/>
<line x1="571.25" x2="571.25" y1="818.6" y2="849.6" class="div"/>
<line x1="610.80" x2="610.80" y1="818.6" y2="849.6" class="div"/>
<line x1="650.35" x2="650.35" y1="818.6" y2="849.6" class="div"/>
<line x1="689.90" x2="689.90" y1="818.6" y2="849.6" class="div"/>
<line x1="729.45" x2="729.45" y1="818.6" y2="849.6" class="div"/>
<line x1="769.00" x2="769.00" y1="818.6" y2="849.6" class="div"/>
<rect x="353" y="818.6" width="436" height="31" fill="none" stroke="#111" stroke-width="1.6"/>
<text x="373.50" y="881.8" class="tk" text-anchor="middle" font-size="21">0</text>
<text x="413.05" y="881.8" class="tk" text-anchor="middle" font-size="21">0.2</text>
<text x="452.60" y="881.8" class="tk" text-anchor="middle" font-size="21">0.4</text>
<text x="492.15" y="881.8" class="tk" text-anchor="middle" font-size="21">0.6</text>
<text x="531.70" y="881.8" class="tk" text-anchor="middle" font-size="21">0.8</text>
<text x="571.25" y="881.8" class="tk" text-anchor="middle" font-size="21">1</text>
<text x="610.80" y="881.8" class="tk" text-anchor="middle" font-size="21">1.2</text>
<text x="650.35" y="881.8" class="tk" text-anchor="middle" font-size="21">1.4</text>
<text x="689.90" y="881.8" class="tk" text-anchor="middle" font-size="21">1.6</text>
<text x="729.45" y="881.8" class="tk" text-anchor="middle" font-size="21">1.8</text>
<text x="769.00" y="881.8" class="tk" text-anchor="middle" font-size="21">2</text>
<text x="791.9" y="878.7" class="tk" font-size="25">(</text>
<text x="801.2" y="878.7" class="tk" font-size="25">m</text>
<text x="825" y="878.7" class="tk" font-size="25" text-anchor="middle">&#183;</text>
<text x="829.5" y="878.7" class="tk" font-size="25">s</text>
<text x="840.5" y="867.7" class="tk" font-size="14">-</text>
<text x="846.2" y="867.7" class="tk" font-size="14">1</text>
<text x="855.1" y="878.7" class="tk" font-size="25">)</text>
<text x="140" y="894.6" class="it" font-size="26.5">d</text>
<text x="159.5" y="894.6" class="tk" font-size="26.5">=</text>
<text transform="translate(173.7,894.6) scale(0.985,1)" class="tk" font-size="26.5">0.4m</text>
<text x="1118.5" y="899.5" class="it" font-size="25.5">z</text>
<text x="1132.5" y="899.5" class="tk" font-size="25.5">/m</text>
<clipPath id="cl2"><path d="M6.5,1175.9 L6.4,966.0 L33.0,966.0 L33.0,963.4 L58.4,963.4 L58.4,960.4 L90.2,960.4 L90.2,958.3 L121.9,958.3 L121.9,955.8 L152.4,955.8 L152.4,953.3 L200.7,953.3 L200.7,951.2 L266.7,951.2 L266.7,948.2 L349.8,948.2 L349.8,950.2 L407.0,950.2 L407.0,952.0 L447.6,952.0 L447.6,951.2 L572.0,951.2 L572.0,952.0 L656.5,952.0 L656.5,953.3 L671.8,953.3 L671.8,957.1 L683.2,957.1 L683.2,959.6 L698.4,959.6 L698.4,962.9 L725.1,962.9 L725.1,965.5 L755.6,965.5 L755.6,968.5 L807.7,968.5 L807.7,971.5 L927.6,971.5 L927.6,976.6 L1000.0,976.6 L1000.0,979.2 L1118.1,979.2 L1118.1,980.7 L1134.6,980.7 L1134.6,986.8 L1138.0,986.8 L1138,1175.9 Z"/></clipPath>
<g clip-path="url(#cl2)"><g filter="url(#blur)"><rect x="-30" y="906" width="31" height="21" fill="#94fc80"/><rect x="0" y="906" width="31" height="21" fill="#96fc80"/><rect x="30" y="906" width="31" height="21" fill="#a0fb80"/><rect x="60" y="906" width="31" height="21" fill="#aafb80"/><rect x="90" y="906" width="31" height="21" fill="#b3fa80"/><rect x="120" y="906" width="31" height="21" fill="#bdfc80"/><rect x="150" y="906" width="31" height="21" fill="#c7fe80"/><rect x="180" y="906" width="31" height="21" fill="#d1ff80"/><rect x="210" y="906" width="31" height="21" fill="#dcff80"/><rect x="240" y="906" width="31" height="21" fill="#e8ff80"/><rect x="270" y="906" width="31" height="21" fill="#f2ff80"/><rect x="300" y="906" width="31" height="21" fill="#f6ff80"/><rect x="330" y="906" width="31" height="21" fill="#faff80"/><rect x="360" y="906" width="31" height="21" fill="#fdfd80"/><rect x="390" y="906" width="31" height="21" fill="#fdf980"/><rect x="420" y="906" width="91" height="21" fill="#fef580"/><rect x="510" y="906" width="31" height="21" fill="#fef680"/><rect x="540" y="906" width="31" height="21" fill="#fdfa80"/><rect x="570" y="906" width="31" height="21" fill="#fdfe80"/><rect x="600" y="906" width="31" height="21" fill="#f3ff80"/><rect x="630" y="906" width="31" height="21" fill="#e6ff80"/><rect x="660" y="906" width="31" height="21" fill="#d7ff80"/><rect x="690" y="906" width="31" height="21" fill="#c8fe80"/><rect x="720" y="906" width="31" height="21" fill="#b9fb80"/><rect x="750" y="906" width="31" height="21" fill="#a8fb80"/><rect x="780" y="906" width="31" height="21" fill="#97fc80"/><rect x="810" y="906" width="31" height="21" fill="#90fc82"/><rect x="840" y="906" width="31" height="21" fill="#8bfb85"/><rect x="870" y="906" width="31" height="21" fill="#86fb88"/><rect x="900" y="906" width="31" height="21" fill="#82fa8b"/><rect x="930" y="906" width="241" height="21" fill="#80fa8c"/><rect x="-30" y="926" width="31" height="21" fill="#94fc80"/><rect x="0" y="926" width="31" height="21" fill="#96fc80"/><rect x="30" y="926" width="31" height="21" fill="#a0fb80"/><rect x="60" y="926" width="31" height="21" fill="#aafb80"/><rect x="90" y="926" width="31" height="21" fill="#b3fa80"/><rect x="120" y="926" width="31" height="21" fill="#bdfc80"/><rect x="150" y="926" width="31" height="21" fill="#c7fe80"/><rect x="180" y="926" width="31" height="21" fill="#d1ff80"/><rect x="210" y="926" width="31" height="21" fill="#dcff80"/><rect x="240" y="926" width="31" height="21" fill="#e8ff80"/><rect x="270" y="926" width="31" height="21" fill="#f2ff80"/><rect x="300" y="926" width="31" height="21" fill="#f6ff80"/><rect x="330" y="926" width="31" height="21" fill="#faff80"/><rect x="360" y="926" width="31" height="21" fill="#fdfd80"/><rect x="390" y="926" width="31" height="21" fill="#fdf980"/><rect x="420" y="926" width="91" height="21" fill="#fef580"/><rect x="510" y="926" width="31" height="21" fill="#fef680"/><rect x="540" y="926" width="31" height="21" fill="#fdfa80"/><rect x="570" y="926" width="31" height="21" fill="#fdfe80"/><rect x="600" y="926" width="31" height="21" fill="#f3ff80"/><rect x="630" y="926" width="31" height="21" fill="#e6ff80"/><rect x="660" y="926" width="31" height="21" fill="#d7ff80"/><rect x="690" y="926" width="31" height="21" fill="#c8fe80"/><rect x="720" y="926" width="31" height="21" fill="#b9fb80"/><rect x="750" y="926" width="31" height="21" fill="#a8fb80"/><rect x="780" y="926" width="31" height="21" fill="#97fc80"/><rect x="810" y="926" width="31" height="21" fill="#90fc82"/><rect x="840" y="926" width="31" height="21" fill="#8bfb85"/><rect x="870" y="926" width="31" height="21" fill="#86fb88"/><rect x="900" y="926" width="31" height="21" fill="#82fa8b"/><rect x="930" y="926" width="241" height="21" fill="#80fa8c"/><rect x="-30" y="946" width="31" height="21" fill="#94fc80"/><rect x="0" y="946" width="31" height="21" fill="#96fc80"/><rect x="30" y="946" width="31" height="21" fill="#a0fb80"/><rect x="60" y="946" width="31" height="21" fill="#aafb80"/><rect x="90" y="946" width="31" height="21" fill="#b3fa80"/><rect x="120" y="946" width="31" height="21" fill="#bdfc80"/><rect x="150" y="946" width="31" height="21" fill="#c7fe80"/><rect x="180" y="946" width="31" height="21" fill="#d1ff80"/><rect x="210" y="946" width="31" height="21" fill="#dbff80"/><rect x="240" y="946" width="31" height="21" fill="#e6ff80"/><rect x="270" y="946" width="31" height="21" fill="#efff80"/><rect x="300" y="946" width="31" height="21" fill="#f3ff80"/><rect x="330" y="946" width="31" height="21" fill="#f7ff80"/><rect x="360" y="946" width="31" height="21" fill="#fcff80"/><rect x="390" y="946" width="31" height="21" fill="#fdfc80"/><rect x="420" y="946" width="91" height="21" fill="#fdf880"/><rect x="510" y="946" width="31" height="21" fill="#fdf980"/><rect x="540" y="946" width="31" height="21" fill="#fdfd80"/><rect x="570" y="946" width="31" height="21" fill="#fbff80"/><rect x="600" y="946" width="31" height="21" fill="#f0ff80"/><rect x="630" y="946" width="31" height="21" fill="#e2ff80"/><rect x="660" y="946" width="31" height="21" fill="#d4ff80"/><rect x="690" y="946" width="31" height="21" fill="#c6fe80"/><rect x="720" y="946" width="31" height="21" fill="#b7fb80"/><rect x="750" y="946" width="31" height="21" fill="#a7fb80"/><rect x="780" y="946" width="31" height="21" fill="#96fc80"/><rect x="810" y="946" width="31" height="21" fill="#90fc82"/><rect x="840" y="946" width="31" height="21" fill="#8bfb85"/><rect x="870" y="946" width="31" height="21" fill="#86fb88"/><rect x="900" y="946" width="31" height="21" fill="#82fa8b"/><rect x="930" y="946" width="241" height="21" fill="#80fa8c"/><rect x="-30" y="966" width="31" height="21" fill="#92fc80"/><rect x="0" y="966" width="31" height="21" fill="#94fc80"/><rect x="30" y="966" width="31" height="21" fill="#9dfc80"/><rect x="60" y="966" width="31" height="21" fill="#a6fb80"/><rect x="90" y="966" width="31" height="21" fill="#affa80"/><rect x="120" y="966" width="31" height="21" fill="#b9fb80"/><rect x="150" y="966" width="31" height="21" fill="#c3fd80"/><rect x="180" y="966" width="31" height="21" fill="#cdff80"/><rect x="210" y="966" width="31" height="21" fill="#d6ff80"/><rect x="240" y="966" width="31" height="21" fill="#e0ff80"/><rect x="270" y="966" width="31" height="21" fill="#e9ff80"/><rect x="300" y="966" width="31" height="21" fill="#edff80"/><rect x="330" y="966" width="31" height="21" fill="#f1ff80"/><rect x="360" y="966" width="31" height="21" fill="#f5ff80"/><rect x="390" y="966" width="31" height="21" fill="#f9ff80"/><rect x="420" y="966" width="91" height="21" fill="#fdff80"/><rect x="510" y="966" width="31" height="21" fill="#fcff80"/><rect x="540" y="966" width="31" height="21" fill="#f8ff80"/><rect x="570" y="966" width="31" height="21" fill="#f4ff80"/><rect x="600" y="966" width="31" height="21" fill="#eaff80"/><rect x="630" y="966" width="31" height="21" fill="#ddff80"/><rect x="660" y="966" width="31" height="21" fill="#cfff80"/><rect x="690" y="966" width="31" height="21" fill="#c1fd80"/><rect x="720" y="966" width="31" height="21" fill="#b3fa80"/><rect x="750" y="966" width="31" height="21" fill="#a4fb80"/><rect x="780" y="966" width="31" height="21" fill="#94fc80"/><rect x="810" y="966" width="31" height="21" fill="#8efc83"/><rect x="840" y="966" width="31" height="21" fill="#8afb85"/><rect x="870" y="966" width="31" height="21" fill="#86fb88"/><rect x="900" y="966" width="31" height="21" fill="#82fa8b"/><rect x="930" y="966" width="121" height="21" fill="#80fa8c"/><rect x="1050" y="966" width="121" height="21" fill="#80fa8d"/><rect x="-30" y="986" width="31" height="21" fill="#8efc83"/><rect x="0" y="986" width="31" height="21" fill="#8ffc82"/><rect x="30" y="986" width="31" height="21" fill="#94fc80"/><rect x="60" y="986" width="31" height="21" fill="#9bfc80"/><rect x="90" y="986" width="31" height="21" fill="#a3fb80"/><rect x="120" y="986" width="31" height="21" fill="#adfa80"/><rect x="150" y="986" width="31" height="21" fill="#b7fb80"/><rect x="180" y="986" width="31" height="21" fill="#c1fd80"/><rect x="210" y="986" width="31" height="21" fill="#cbff80"/><rect x="240" y="986" width="31" height="21" fill="#d4ff80"/><rect x="270" y="986" width="31" height="21" fill="#ddff80"/><rect x="300" y="986" width="31" height="21" fill="#e1ff80"/><rect x="330" y="986" width="31" height="21" fill="#e5ff80"/><rect x="360" y="986" width="31" height="21" fill="#e8ff80"/><rect x="390" y="986" width="31" height="21" fill="#eaff80"/><rect x="420" y="986" width="121" height="21" fill="#ecff80"/><rect x="540" y="986" width="31" height="21" fill="#eaff80"/><rect x="570" y="986" width="31" height="21" fill="#e9ff80"/><rect x="600" y="986" width="31" height="21" fill="#e0ff80"/><rect x="630" y="986" width="31" height="21" fill="#d5ff80"/><rect x="660" y="986" width="31" height="21" fill="#c9fe80"/><rect x="690" y="986" width="31" height="21" fill="#bbfc80"/><rect x="720" y="986" width="31" height="21" fill="#acfa80"/><rect x="750" y="986" width="31" height="21" fill="#9dfc80"/><rect x="780" y="986" width="31" height="21" fill="#90fc82"/><rect x="810" y="986" width="31" height="21" fill="#8bfb85"/><rect x="840" y="986" width="31" height="21" fill="#88fb87"/><rect x="870" y="986" width="31" height="21" fill="#84fb89"/><rect x="900" y="986" width="31" height="21" fill="#81fa8b"/><rect x="930" y="986" width="91" height="21" fill="#80fa8d"/><rect x="1020" y="986" width="151" height="21" fill="#80fa8e"/><rect x="-30" y="1006" width="31" height="21" fill="#8afb85"/><rect x="0" y="1006" width="31" height="21" fill="#8bfb85"/><rect x="30" y="1006" width="31" height="21" fill="#8dfc84"/><rect x="60" y="1006" width="31" height="21" fill="#8ffc82"/><rect x="90" y="1006" width="31" height="21" fill="#92fc81"/><rect x="120" y="1006" width="31" height="21" fill="#98fc80"/><rect x="150" y="1006" width="31" height="21" fill="#9ffc80"/><rect x="180" y="1006" width="31" height="21" fill="#a6fb80"/><rect x="210" y="1006" width="31" height="21" fill="#adfa80"/><rect x="240" y="1006" width="31" height="21" fill="#b4fa80"/><rect x="270" y="1006" width="31" height="21" fill="#b8fb80"/><rect x="300" y="1006" width="31" height="21" fill="#b5fb80"/><rect x="330" y="1006" width="31" height="21" fill="#b1fa80"/><rect x="360" y="1006" width="31" height="21" fill="#affa80"/><rect x="390" y="1006" width="61" height="21" fill="#b0fa80"/><rect x="450" y="1006" width="31" height="21" fill="#b3fa80"/><rect x="480" y="1006" width="31" height="21" fill="#b5fb80"/><rect x="510" y="1006" width="31" height="21" fill="#b8fb80"/><rect x="540" y="1006" width="31" height="21" fill="#bffc80"/><rect x="570" y="1006" width="31" height="21" fill="#c5fe80"/><rect x="600" y="1006" width="31" height="21" fill="#c2fd80"/><rect x="630" y="1006" width="31" height="21" fill="#bbfc80"/><rect x="660" y="1006" width="31" height="21" fill="#b4fa80"/><rect x="690" y="1006" width="31" height="21" fill="#a8fb80"/><rect x="720" y="1006" width="31" height="21" fill="#9bfc80"/><rect x="750" y="1006" width="31" height="21" fill="#90fc82"/><rect x="780" y="1006" width="31" height="21" fill="#88fb87"/><rect x="810" y="1006" width="31" height="21" fill="#84fb89"/><rect x="840" y="1006" width="31" height="21" fill="#82fa8b"/><rect x="870" y="1006" width="31" height="21" fill="#80fa8c"/><rect x="900" y="1006" width="31" height="21" fill="#80fa8f"/><rect x="930" y="1006" width="241" height="21" fill="#80f990"/><rect x="-30" y="1026" width="31" height="21" fill="#88fb87"/><rect x="0" y="1026" width="31" height="21" fill="#89fb86"/><rect x="30" y="1026" width="31" height="21" fill="#8afb86"/><rect x="60" y="1026" width="31" height="21" fill="#8bfb85"/><rect x="90" y="1026" width="31" height="21" fill="#8cfc84"/><rect x="120" y="1026" width="31" height="21" fill="#8dfc83"/><rect x="150" y="1026" width="31" height="21" fill="#8ffc82"/><rect x="180" y="1026" width="31" height="21" fill="#91fc81"/><rect x="210" y="1026" width="31" height="21" fill="#90fc82"/><rect x="240" y="1026" width="31" height="21" fill="#8efc83"/><rect x="270" y="1026" width="31" height="21" fill="#8bfb85"/><rect x="300" y="1026" width="31" height="21" fill="#87fb87"/><rect x="330" y="1026" width="31" height="21" fill="#84fb89"/><rect x="360" y="1026" width="91" height="21" fill="#82fa8b"/><rect x="450" y="1026" width="31" height="21" fill="#83fa8a"/><rect x="480" y="1026" width="31" height="21" fill="#85fb89"/><rect x="510" y="1026" width="31" height="21" fill="#87fb87"/><rect x="540" y="1026" width="31" height="21" fill="#8bfb85"/><rect x="570" y="1026" width="31" height="21" fill="#8ffc83"/><rect x="600" y="1026" width="31" height="21" fill="#91fc81"/><rect x="630" y="1026" width="31" height="21" fill="#93fc80"/><rect x="660" y="1026" width="31" height="21" fill="#95fc80"/><rect x="690" y="1026" width="31" height="21" fill="#90fc82"/><rect x="720" y="1026" width="31" height="21" fill="#8bfb85"/><rect x="750" y="1026" width="31" height="21" fill="#87fb87"/><rect x="780" y="1026" width="31" height="21" fill="#82fa8a"/><rect x="810" y="1026" width="31" height="21" fill="#80fa8c"/><rect x="840" y="1026" width="31" height="21" fill="#80fa8d"/><rect x="870" y="1026" width="31" height="21" fill="#80fa8f"/><rect x="900" y="1026" width="271" height="21" fill="#80f991"/><rect x="-30" y="1046" width="31" height="21" fill="#86fb88"/><rect x="0" y="1046" width="31" height="21" fill="#87fb88"/><rect x="30" y="1046" width="31" height="21" fill="#87fb87"/><rect x="60" y="1046" width="31" height="21" fill="#88fb87"/><rect x="90" y="1046" width="121" height="21" fill="#89fb86"/><rect x="210" y="1046" width="31" height="21" fill="#86fb88"/><rect x="240" y="1046" width="31" height="21" fill="#81fa8b"/><rect x="270" y="1046" width="31" height="21" fill="#80fa8f"/><rect x="300" y="1046" width="31" height="21" fill="#80f993"/><rect x="330" y="1046" width="31" height="21" fill="#80f897"/><rect x="360" y="1046" width="91" height="21" fill="#80f899"/><rect x="450" y="1046" width="31" height="21" fill="#80f898"/><rect x="480" y="1046" width="31" height="21" fill="#80f897"/><rect x="510" y="1046" width="31" height="21" fill="#80f996"/><rect x="540" y="1046" width="31" height="21" fill="#80f993"/><rect x="570" y="1046" width="31" height="21" fill="#80f991"/><rect x="600" y="1046" width="31" height="21" fill="#80fa8d"/><rect x="630" y="1046" width="31" height="21" fill="#83fa8a"/><rect x="660" y="1046" width="31" height="21" fill="#87fb87"/><rect x="690" y="1046" width="31" height="21" fill="#85fb88"/><rect x="720" y="1046" width="31" height="21" fill="#84fb89"/><rect x="750" y="1046" width="31" height="21" fill="#82fa8b"/><rect x="780" y="1046" width="31" height="21" fill="#80fa8c"/><rect x="810" y="1046" width="31" height="21" fill="#80fa8d"/><rect x="840" y="1046" width="31" height="21" fill="#80fa8f"/><rect x="870" y="1046" width="31" height="21" fill="#80f990"/><rect x="900" y="1046" width="31" height="21" fill="#80f991"/><rect x="930" y="1046" width="241" height="21" fill="#80f992"/><rect x="-30" y="1066" width="31" height="21" fill="#84fb89"/><rect x="0" y="1066" width="31" height="21" fill="#85fb89"/><rect x="30" y="1066" width="31" height="21" fill="#86fb88"/><rect x="60" y="1066" width="31" height="21" fill="#87fb87"/><rect x="90" y="1066" width="31" height="21" fill="#88fb87"/><rect x="120" y="1066" width="61" height="21" fill="#89fb86"/><rect x="180" y="1066" width="31" height="21" fill="#8afb85"/><rect x="210" y="1066" width="31" height="21" fill="#88fb87"/><rect x="240" y="1066" width="31" height="21" fill="#85fb88"/><rect x="270" y="1066" width="31" height="21" fill="#82fa8a"/><rect x="300" y="1066" width="31" height="21" fill="#80fa8e"/><rect x="330" y="1066" width="31" height="21" fill="#80f992"/><rect x="360" y="1066" width="31" height="21" fill="#80f994"/><rect x="390" y="1066" width="61" height="21" fill="#80f993"/><rect x="450" y="1066" width="31" height="21" fill="#80f992"/><rect x="480" y="1066" width="31" height="21" fill="#80f991"/><rect x="510" y="1066" width="31" height="21" fill="#80f990"/><rect x="540" y="1066" width="31" height="21" fill="#80fa8e"/><rect x="570" y="1066" width="31" height="21" fill="#80fa8c"/><rect x="600" y="1066" width="31" height="21" fill="#82fa8a"/><rect x="630" y="1066" width="31" height="21" fill="#85fb89"/><rect x="660" y="1066" width="31" height="21" fill="#87fb87"/><rect x="690" y="1066" width="31" height="21" fill="#86fb88"/><rect x="720" y="1066" width="31" height="21" fill="#84fb89"/><rect x="750" y="1066" width="31" height="21" fill="#83fa8a"/><rect x="780" y="1066" width="31" height="21" fill="#81fa8b"/><rect x="810" y="1066" width="31" height="21" fill="#80fa8c"/><rect x="840" y="1066" width="31" height="21" fill="#80fa8d"/><rect x="870" y="1066" width="31" height="21" fill="#80fa8f"/><rect x="900" y="1066" width="31" height="21" fill="#80f990"/><rect x="930" y="1066" width="241" height="21" fill="#80f991"/><rect x="-30" y="1086" width="31" height="21" fill="#84fb89"/><rect x="0" y="1086" width="31" height="21" fill="#85fb89"/><rect x="30" y="1086" width="31" height="21" fill="#87fb88"/><rect x="60" y="1086" width="31" height="21" fill="#88fb87"/><rect x="90" y="1086" width="31" height="21" fill="#8afb86"/><rect x="120" y="1086" width="31" height="21" fill="#8bfb85"/><rect x="150" y="1086" width="31" height="21" fill="#8cfc84"/><rect x="180" y="1086" width="31" height="21" fill="#8efc83"/><rect x="210" y="1086" width="31" height="21" fill="#8ffc82"/><rect x="240" y="1086" width="31" height="21" fill="#91fc81"/><rect x="270" y="1086" width="31" height="21" fill="#92fc80"/><rect x="300" y="1086" width="31" height="21" fill="#93fc80"/><rect x="330" y="1086" width="31" height="21" fill="#95fc80"/><rect x="360" y="1086" width="31" height="21" fill="#98fc80"/><rect x="390" y="1086" width="31" height="21" fill="#9afc80"/><rect x="420" y="1086" width="61" height="21" fill="#9dfc80"/><rect x="480" y="1086" width="121" height="21" fill="#9efc80"/><rect x="600" y="1086" width="31" height="21" fill="#9dfc80"/><rect x="630" y="1086" width="31" height="21" fill="#9bfc80"/><rect x="660" y="1086" width="31" height="21" fill="#98fc80"/><rect x="690" y="1086" width="31" height="21" fill="#93fc80"/><rect x="720" y="1086" width="31" height="21" fill="#90fc82"/><rect x="750" y="1086" width="31" height="21" fill="#8dfc84"/><rect x="780" y="1086" width="31" height="21" fill="#89fb86"/><rect x="810" y="1086" width="31" height="21" fill="#87fb87"/><rect x="840" y="1086" width="31" height="21" fill="#85fb89"/><rect x="870" y="1086" width="31" height="21" fill="#82fa8a"/><rect x="900" y="1086" width="31" height="21" fill="#80fa8c"/><rect x="930" y="1086" width="91" height="21" fill="#80fa8d"/><rect x="1020" y="1086" width="151" height="21" fill="#80fa8e"/><rect x="-30" y="1106" width="31" height="21" fill="#87fb88"/><rect x="0" y="1106" width="31" height="21" fill="#87fb87"/><rect x="30" y="1106" width="31" height="21" fill="#88fb86"/><rect x="60" y="1106" width="31" height="21" fill="#8afb86"/><rect x="90" y="1106" width="31" height="21" fill="#8bfb85"/><rect x="120" y="1106" width="31" height="21" fill="#8efc83"/><rect x="150" y="1106" width="31" height="21" fill="#90fc82"/><rect x="180" y="1106" width="31" height="21" fill="#93fc80"/><rect x="210" y="1106" width="31" height="21" fill="#99fc80"/><rect x="240" y="1106" width="31" height="21" fill="#a0fb80"/><rect x="270" y="1106" width="31" height="21" fill="#a7fb80"/><rect x="300" y="1106" width="31" height="21" fill="#adfa80"/><rect x="330" y="1106" width="31" height="21" fill="#b2fa80"/><rect x="360" y="1106" width="31" height="21" fill="#b7fb80"/><rect x="390" y="1106" width="31" height="21" fill="#bafc80"/><rect x="420" y="1106" width="31" height="21" fill="#befc80"/><rect x="450" y="1106" width="31" height="21" fill="#bffc80"/><rect x="480" y="1106" width="61" height="21" fill="#c0fd80"/><rect x="540" y="1106" width="31" height="21" fill="#befc80"/><rect x="570" y="1106" width="31" height="21" fill="#bcfc80"/><rect x="600" y="1106" width="31" height="21" fill="#b8fb80"/><rect x="630" y="1106" width="31" height="21" fill="#b4fa80"/><rect x="660" y="1106" width="31" height="21" fill="#affa80"/><rect x="690" y="1106" width="31" height="21" fill="#a7fb80"/><rect x="720" y="1106" width="31" height="21" fill="#9ffc80"/><rect x="750" y="1106" width="31" height="21" fill="#98fc80"/><rect x="780" y="1106" width="31" height="21" fill="#91fc81"/><rect x="810" y="1106" width="31" height="21" fill="#8efc83"/><rect x="840" y="1106" width="31" height="21" fill="#8cfc84"/><rect x="870" y="1106" width="31" height="21" fill="#89fb86"/><rect x="900" y="1106" width="31" height="21" fill="#86fb88"/><rect x="930" y="1106" width="31" height="21" fill="#84fb89"/><rect x="960" y="1106" width="31" height="21" fill="#83fa8a"/><rect x="990" y="1106" width="31" height="21" fill="#81fa8b"/><rect x="1020" y="1106" width="31" height="21" fill="#80fa8c"/><rect x="1050" y="1106" width="121" height="21" fill="#80fa8d"/><rect x="-30" y="1126" width="31" height="21" fill="#88fb86"/><rect x="0" y="1126" width="31" height="21" fill="#89fb86"/><rect x="30" y="1126" width="31" height="21" fill="#8afb85"/><rect x="60" y="1126" width="31" height="21" fill="#8cfc84"/><rect x="90" y="1126" width="31" height="21" fill="#8dfc83"/><rect x="120" y="1126" width="31" height="21" fill="#90fc81"/><rect x="150" y="1126" width="31" height="21" fill="#93fc80"/><rect x="180" y="1126" width="31" height="21" fill="#97fc80"/><rect x="210" y="1126" width="31" height="21" fill="#9ffc80"/><rect x="240" y="1126" width="31" height="21" fill="#a8fb80"/><rect x="270" y="1126" width="31" height="21" fill="#b1fa80"/><rect x="300" y="1126" width="31" height="21" fill="#b7fb80"/><rect x="330" y="1126" width="31" height="21" fill="#befc80"/><rect x="360" y="1126" width="31" height="21" fill="#c3fd80"/><rect x="390" y="1126" width="31" height="21" fill="#c7fe80"/><rect x="420" y="1126" width="31" height="21" fill="#cbff80"/><rect x="450" y="1126" width="31" height="21" fill="#ccff80"/><rect x="480" y="1126" width="61" height="21" fill="#cdff80"/><rect x="540" y="1126" width="31" height="21" fill="#cbff80"/><rect x="570" y="1126" width="31" height="21" fill="#cafe80"/><rect x="600" y="1126" width="31" height="21" fill="#c6fe80"/><rect x="630" y="1126" width="31" height="21" fill="#c1fd80"/><rect x="660" y="1126" width="31" height="21" fill="#bcfc80"/><rect x="690" y="1126" width="31" height="21" fill="#b4fa80"/><rect x="720" y="1126" width="31" height="21" fill="#acfa80"/><rect x="750" y="1126" width="31" height="21" fill="#a4fb80"/><rect x="780" y="1126" width="31" height="21" fill="#9cfc80"/><rect x="810" y="1126" width="31" height="21" fill="#97fc80"/><rect x="840" y="1126" width="31" height="21" fill="#92fc80"/><rect x="870" y="1126" width="31" height="21" fill="#8ffc82"/><rect x="900" y="1126" width="31" height="21" fill="#8cfc84"/><rect x="930" y="1126" width="31" height="21" fill="#8afb86"/><rect x="960" y="1126" width="31" height="21" fill="#88fb87"/><rect x="990" y="1126" width="31" height="21" fill="#86fb88"/><rect x="1020" y="1126" width="31" height="21" fill="#84fb89"/><rect x="1050" y="1126" width="31" height="21" fill="#82fa8b"/><rect x="1080" y="1126" width="61" height="21" fill="#81fa8b"/><rect x="1140" y="1126" width="31" height="21" fill="#80fa8b"/><rect x="-30" y="1146" width="31" height="21" fill="#8afb86"/><rect x="0" y="1146" width="31" height="21" fill="#8afb85"/><rect x="30" y="1146" width="31" height="21" fill="#8cfc84"/><rect x="60" y="1146" width="31" height="21" fill="#8dfc83"/><rect x="90" y="1146" width="31" height="21" fill="#8ffc82"/><rect x="120" y="1146" width="31" height="21" fill="#92fc80"/><rect x="150" y="1146" width="31" height="21" fill="#95fc80"/><rect x="180" y="1146" width="31" height="21" fill="#9afc80"/><rect x="210" y="1146" width="31" height="21" fill="#a1fb80"/><rect x="240" y="1146" width="31" height="21" fill="#aafb80"/><rect x="270" y="1146" width="31" height="21" fill="#b2fa80"/><rect x="300" y="1146" width="31" height="21" fill="#b8fb80"/><rect x="330" y="1146" width="31" height="21" fill="#bffc80"/><rect x="360" y="1146" width="31" height="21" fill="#c3fd80"/><rect x="390" y="1146" width="31" height="21" fill="#c7fe80"/><rect x="420" y="1146" width="31" height="21" fill="#cbff80"/><rect x="450" y="1146" width="31" height="21" fill="#ccff80"/><rect x="480" y="1146" width="121" height="21" fill="#cdff80"/><rect x="600" y="1146" width="31" height="21" fill="#cafe80"/><rect x="630" y="1146" width="31" height="21" fill="#c6fe80"/><rect x="660" y="1146" width="31" height="21" fill="#c2fd80"/><rect x="690" y="1146" width="31" height="21" fill="#bbfc80"/><rect x="720" y="1146" width="31" height="21" fill="#b4fa80"/><rect x="750" y="1146" width="31" height="21" fill="#adfa80"/><rect x="780" y="1146" width="31" height="21" fill="#a6fb80"/><rect x="810" y="1146" width="31" height="21" fill="#a0fb80"/><rect x="840" y="1146" width="31" height="21" fill="#9bfc80"/><rect x="870" y="1146" width="31" height="21" fill="#96fc80"/><rect x="900" y="1146" width="31" height="21" fill="#91fc81"/><rect x="930" y="1146" width="31" height="21" fill="#8ffc83"/><rect x="960" y="1146" width="31" height="21" fill="#8cfc84"/><rect x="990" y="1146" width="31" height="21" fill="#8afb86"/><rect x="1020" y="1146" width="31" height="21" fill="#88fb87"/><rect x="1050" y="1146" width="31" height="21" fill="#85fb88"/><rect x="1080" y="1146" width="31" height="21" fill="#84fb89"/><rect x="1110" y="1146" width="31" height="21" fill="#83fa8a"/><rect x="1140" y="1146" width="31" height="21" fill="#82fa8a"/><rect x="-30" y="1166" width="31" height="21" fill="#8afb86"/><rect x="0" y="1166" width="31" height="21" fill="#8afb85"/><rect x="30" y="1166" width="31" height="21" fill="#8cfc84"/><rect x="60" y="1166" width="31" height="21" fill="#8dfc83"/><rect x="90" y="1166" width="31" height="21" fill="#8ffc82"/><rect x="120" y="1166" width="31" height="21" fill="#92fc80"/><rect x="150" y="1166" width="31" height="21" fill="#95fc80"/><rect x="180" y="1166" width="31" height="21" fill="#9afc80"/><rect x="210" y="1166" width="31" height="21" fill="#a1fb80"/><rect x="240" y="1166" width="31" height="21" fill="#aafb80"/><rect x="270" y="1166" width="31" height="21" fill="#b2fa80"/><rect x="300" y="1166" width="31" height="21" fill="#b7fb80"/><rect x="330" y="1166" width="31" height="21" fill="#bdfc80"/><rect x="360" y="1166" width="31" height="21" fill="#c1fd80"/><rect x="390" y="1166" width="31" height="21" fill="#c3fd80"/><rect x="420" y="1166" width="31" height="21" fill="#c6fe80"/><rect x="450" y="1166" width="31" height="21" fill="#c9fe80"/><rect x="480" y="1166" width="31" height="21" fill="#cbff80"/><rect x="510" y="1166" width="91" height="21" fill="#cdff80"/><rect x="600" y="1166" width="31" height="21" fill="#cbff80"/><rect x="630" y="1166" width="31" height="21" fill="#c8fe80"/><rect x="660" y="1166" width="31" height="21" fill="#c5fe80"/><rect x="690" y="1166" width="31" height="21" fill="#bffc80"/><rect x="720" y="1166" width="31" height="21" fill="#b8fb80"/><rect x="750" y="1166" width="31" height="21" fill="#b2fa80"/><rect x="780" y="1166" width="31" height="21" fill="#abfb80"/><rect x="810" y="1166" width="31" height="21" fill="#a6fb80"/><rect x="840" y="1166" width="31" height="21" fill="#a1fb80"/><rect x="870" y="1166" width="31" height="21" fill="#9bfc80"/><rect x="900" y="1166" width="31" height="21" fill="#96fc80"/><rect x="930" y="1166" width="31" height="21" fill="#92fc80"/><rect x="960" y="1166" width="31" height="21" fill="#90fc82"/><rect x="990" y="1166" width="31" height="21" fill="#8efc83"/><rect x="1020" y="1166" width="31" height="21" fill="#8bfb85"/><rect x="1050" y="1166" width="31" height="21" fill="#89fb86"/><rect x="1080" y="1166" width="31" height="21" fill="#87fb87"/><rect x="1110" y="1166" width="31" height="21" fill="#85fb88"/><rect x="1140" y="1166" width="31" height="21" fill="#84fb89"/><rect x="-30" y="1186" width="31" height="21" fill="#8afb86"/><rect x="0" y="1186" width="31" height="21" fill="#8afb85"/><rect x="30" y="1186" width="31" height="21" fill="#8cfc84"/><rect x="60" y="1186" width="31" height="21" fill="#8dfc83"/><rect x="90" y="1186" width="31" height="21" fill="#8ffc82"/><rect x="120" y="1186" width="31" height="21" fill="#92fc80"/><rect x="150" y="1186" width="31" height="21" fill="#95fc80"/><rect x="180" y="1186" width="31" height="21" fill="#9afc80"/><rect x="210" y="1186" width="31" height="21" fill="#a1fb80"/><rect x="240" y="1186" width="31" height="21" fill="#aafb80"/><rect x="270" y="1186" width="31" height="21" fill="#b2fa80"/><rect x="300" y="1186" width="31" height="21" fill="#b7fb80"/><rect x="330" y="1186" width="31" height="21" fill="#bdfc80"/><rect x="360" y="1186" width="31" height="21" fill="#c1fd80"/><rect x="390" y="1186" width="31" height="21" fill="#c3fd80"/><rect x="420" y="1186" width="31" height="21" fill="#c6fe80"/><rect x="450" y="1186" width="31" height="21" fill="#c9fe80"/><rect x="480" y="1186" width="31" height="21" fill="#cbff80"/><rect x="510" y="1186" width="91" height="21" fill="#cdff80"/><rect x="600" y="1186" width="31" height="21" fill="#cbff80"/><rect x="630" y="1186" width="31" height="21" fill="#c8fe80"/><rect x="660" y="1186" width="31" height="21" fill="#c5fe80"/><rect x="690" y="1186" width="31" height="21" fill="#bffc80"/><rect x="720" y="1186" width="31" height="21" fill="#b8fb80"/><rect x="750" y="1186" width="31" height="21" fill="#b2fa80"/><rect x="780" y="1186" width="31" height="21" fill="#abfb80"/><rect x="810" y="1186" width="31" height="21" fill="#a6fb80"/><rect x="840" y="1186" width="31" height="21" fill="#a1fb80"/><rect x="870" y="1186" width="31" height="21" fill="#9bfc80"/><rect x="900" y="1186" width="31" height="21" fill="#96fc80"/><rect x="930" y="1186" width="31" height="21" fill="#92fc80"/><rect x="960" y="1186" width="31" height="21" fill="#90fc82"/><rect x="990" y="1186" width="31" height="21" fill="#8efc83"/><rect x="1020" y="1186" width="31" height="21" fill="#8bfb85"/><rect x="1050" y="1186" width="31" height="21" fill="#89fb86"/><rect x="1080" y="1186" width="31" height="21" fill="#87fb87"/><rect x="1110" y="1186" width="31" height="21" fill="#85fb88"/><rect x="1140" y="1186" width="31" height="21" fill="#84fb89"/></g><g filter="url(#blur2)"></g></g>
<path d="M6.4,966.0 L33.0,966.0 L33.0,963.4 L58.4,963.4 L58.4,960.4 L90.2,960.4 L90.2,958.3 L121.9,958.3 L121.9,955.8 L152.4,955.8 L152.4,953.3 L200.7,953.3 L200.7,951.2 L266.7,951.2 L266.7,948.2 L349.8,948.2 L349.8,950.2 L407.0,950.2 L407.0,952.0 L447.6,952.0 L447.6,951.2 L572.0,951.2 L572.0,952.0 L656.5,952.0 L656.5,953.3 L671.8,953.3 L671.8,957.1 L683.2,957.1 L683.2,959.6 L698.4,959.6 L698.4,962.9 L725.1,962.9 L725.1,965.5 L755.6,965.5 L755.6,968.5 L807.7,968.5 L807.7,971.5 L927.6,971.5 L927.6,976.6 L1000.0,976.6 L1000.0,979.2 L1118.1,979.2 L1118.1,980.7 L1134.6,980.7 L1134.6,986.8 L1138.0,986.8" fill="none" stroke="#111" stroke-width="1.3"/>
<g clip-path="url(#cl2)" class="sl"><path d="M6.4,1136.1 C26.5,1137.8 87.8,1143.1 127.0,1146.3 C166.2,1149.5 212.5,1153.1 241.3,1155.2 C270.1,1157.3 280.2,1158.0 300.0,1159.0 C319.8,1160.0 330.0,1160.4 360.0,1161.0 C390.0,1161.6 446.7,1162.2 480.0,1162.5 C513.3,1162.8 521.3,1163.0 560.0,1162.8 C598.7,1162.6 667.1,1162.1 712.4,1161.5 C757.7,1160.9 791.9,1160.0 831.8,1159.0 C871.7,1158.0 912.3,1158.2 951.8,1155.2 C991.3,1152.2 1042.8,1145.7 1068.6,1141.2 C1094.4,1136.8 1095.3,1135.5 1106.7,1128.5 C1118.1,1121.5 1132.1,1104.2 1137.2,1099.3"/><path d="M6.4,1075.7 C24.0,1079.4 74.8,1090.5 111.8,1098.0 C148.8,1105.5 197.2,1115.0 228.6,1120.9 C260.0,1126.8 281.3,1130.8 300.0,1133.6 C318.7,1136.3 314.7,1136.1 341.0,1137.4 C367.3,1138.7 418.8,1140.7 457.8,1141.2 C496.8,1141.8 535.7,1141.6 575.2,1140.7 C614.7,1139.8 654.8,1138.1 694.6,1136.1 C734.4,1134.1 789.8,1130.2 814.0,1128.5 C838.2,1126.8 820.9,1129.8 840.0,1126.0 C859.1,1122.2 908.6,1112.9 928.9,1105.7 C949.2,1098.5 954.3,1091.3 961.9,1082.8 C969.5,1074.3 968.7,1064.0 974.6,1054.9 C980.5,1045.8 973.8,1040.7 997.5,1028.2 C1021.2,1015.7 1097.0,988.0 1116.9,979.9"/><path d="M6.4,1037.6 C24.4,1042.8 77.3,1058.7 114.3,1068.8 C151.3,1078.9 197.7,1090.1 228.6,1098.0 C259.6,1105.9 281.7,1111.5 300.0,1116.0 C318.3,1120.5 312.1,1122.4 338.4,1124.7 C364.7,1127.0 418.3,1129.6 457.8,1129.8 C497.3,1130.0 536.2,1128.0 575.2,1126.0 C614.2,1124.0 653.2,1122.8 692.1,1117.9 C731.0,1113.0 784.4,1102.7 808.9,1096.8 C833.4,1090.9 830.0,1091.1 839.4,1082.8 C848.8,1074.5 856.8,1056.5 865.4,1047.2 C874.0,1037.9 878.1,1034.1 890.8,1026.9 C903.5,1019.7 920.4,1011.9 941.6,1004.1 C962.8,996.3 1005.1,983.9 1017.8,979.9"/><path d="M6.4,992.1 C18.4,996.9 48.0,1010.8 78.7,1020.6 C109.4,1030.4 161.3,1042.8 190.5,1051.0 C219.7,1059.2 239.2,1064.8 254.0,1070.1 C268.8,1075.4 273.4,1078.6 279.4,1082.8 C285.4,1087.0 281.4,1091.2 290.0,1095.0 C298.6,1098.8 311.3,1102.7 330.8,1105.7 C350.3,1108.8 375.2,1112.2 407.0,1113.3 C438.8,1114.3 492.5,1113.3 521.3,1112.0 C550.1,1110.7 560.0,1109.1 580.0,1105.7 C600.0,1102.3 621.3,1097.6 641.3,1091.7 C661.2,1085.8 681.5,1078.1 699.7,1070.1 C717.9,1062.0 724.2,1055.0 750.5,1043.4 C776.8,1031.8 832.3,1010.0 857.2,1000.3 C882.1,990.6 888.3,988.8 900.0,985.0 C911.7,981.2 923.0,978.7 927.6,977.4"/><path d="M6.4,966.0 C13.8,970.0 32.8,982.2 50.8,990.1 C68.8,998.0 93.1,1006.9 114.3,1013.3 C135.5,1019.7 158.8,1024.1 177.8,1028.6 C196.9,1033.1 213.2,1037.0 228.6,1040.4 C244.0,1043.8 260.6,1046.8 270.0,1049.2 C279.4,1051.6 280.8,1050.7 285.0,1055.0 C289.2,1059.3 290.8,1068.7 295.0,1075.0 C299.2,1081.3 302.5,1089.2 310.0,1093.0 C317.5,1096.8 321.7,1096.7 340.0,1098.0 C358.3,1099.3 393.3,1100.3 420.0,1101.0 C446.7,1101.7 476.7,1102.5 500.0,1102.0 C523.3,1101.5 540.0,1102.0 560.0,1098.0 C580.0,1094.0 603.1,1084.3 620.0,1078.0 C636.9,1071.7 635.6,1069.3 661.6,1060.0 C687.6,1050.7 742.8,1033.7 775.9,1022.0 C809.0,1010.3 838.8,997.7 860.0,990.0 C881.2,982.3 895.8,978.3 903.0,976.0"/><path d="M6.4,966.0 C13.8,969.7 32.8,980.8 50.8,988.3 C68.8,995.8 93.1,1004.9 114.3,1011.2 C135.5,1017.5 158.8,1021.9 177.8,1026.3 C196.9,1030.7 213.2,1034.7 228.6,1037.8 C244.0,1040.9 260.6,1043.1 270.0,1045.1 C279.4,1047.1 280.0,1046.2 285.0,1050.0 C290.0,1053.8 294.2,1062.7 300.0,1068.0 C305.8,1073.3 313.7,1079.5 320.0,1082.0 C326.3,1084.5 334.7,1081.3 338.0,1083.0 C341.3,1084.7 333.0,1089.7 340.0,1092.0 C347.0,1094.3 365.0,1095.7 380.0,1097.0 C395.0,1098.3 410.0,1099.5 430.0,1100.0 C450.0,1100.5 478.3,1100.8 500.0,1100.0 C521.7,1099.2 540.0,1099.2 560.0,1095.0 C580.0,1090.8 603.1,1081.3 620.0,1075.0 C636.9,1068.7 635.6,1066.3 661.6,1057.0 C687.6,1047.7 742.8,1030.7 775.9,1019.0 C809.0,1007.3 839.3,994.2 860.0,987.0 C880.7,979.8 893.3,977.8 900.0,976.0"/><path d="M6.4,966.0 C13.8,969.5 32.8,979.5 50.8,986.7 C68.8,993.9 93.1,1003.1 114.3,1009.3 C135.5,1015.5 158.8,1019.8 177.8,1024.1 C196.9,1028.4 213.2,1032.3 228.6,1035.1 C244.0,1037.9 259.8,1039.3 270.0,1041.0 C280.2,1042.7 284.2,1043.5 290.0,1045.0 C295.8,1046.5 296.7,1047.5 305.0,1050.0 C313.3,1052.5 330.5,1055.8 340.0,1060.0 C349.5,1064.2 355.3,1071.2 362.0,1075.0 C368.7,1078.8 376.7,1080.2 380.0,1083.0 C383.3,1085.8 373.7,1089.7 382.0,1092.0 C390.3,1094.3 413.7,1096.0 430.0,1097.0 C446.3,1098.0 463.3,1098.3 480.0,1098.0 C496.7,1097.7 515.8,1096.3 530.0,1095.0 C544.2,1093.7 550.0,1093.8 565.0,1090.0 C580.0,1086.2 603.9,1078.0 620.0,1072.0 C636.1,1066.0 635.6,1063.3 661.6,1054.0 C687.6,1044.7 742.8,1027.5 775.9,1016.0 C809.0,1004.5 840.1,991.7 860.0,985.0 C879.9,978.3 889.2,977.5 895.0,976.0"/><path d="M6.4,966.0 C13.8,969.2 32.8,978.2 50.8,985.1 C68.8,992.0 93.1,1001.1 114.3,1007.3 C135.5,1013.4 158.8,1017.8 177.8,1022.0 C196.9,1026.2 213.2,1030.1 228.6,1032.6 C244.0,1035.1 258.9,1037.1 270.0,1037.0 C281.1,1036.9 289.2,1033.5 295.0,1032.0 C300.8,1030.5 299.2,1028.8 305.0,1028.0 C310.8,1027.2 322.5,1025.3 330.0,1027.0 C337.5,1028.7 343.0,1034.2 350.0,1038.0 C357.0,1041.8 363.7,1046.3 372.0,1050.0 C380.3,1053.7 390.3,1056.3 400.0,1060.0 C409.7,1063.7 420.3,1067.8 430.0,1072.0 C439.7,1076.2 451.3,1082.2 458.0,1085.0 C464.7,1087.8 459.7,1088.0 470.0,1089.0 C480.3,1090.0 504.2,1091.5 520.0,1091.0 C535.8,1090.5 548.3,1089.7 565.0,1086.0 C581.7,1082.3 603.9,1074.8 620.0,1069.0 C636.1,1063.2 635.6,1060.3 661.6,1051.0 C687.6,1041.7 742.8,1024.3 775.9,1013.0 C809.0,1001.7 841.0,989.2 860.0,983.0 C879.0,976.8 885.0,977.2 890.0,976.0"/><path d="M6.4,966.0 C13.8,968.9 32.8,977.0 50.8,983.5 C68.8,990.0 93.1,999.2 114.3,1005.3 C135.5,1011.4 158.8,1015.8 177.8,1019.9 C196.9,1024.0 213.2,1027.9 228.6,1030.1 C244.0,1032.3 259.4,1033.7 270.0,1033.0 C280.6,1032.3 286.2,1028.2 292.0,1026.0 C297.8,1023.8 295.3,1021.7 305.0,1020.0 C314.7,1018.3 337.5,1016.0 350.0,1016.0 C362.5,1016.0 373.7,1016.8 380.0,1020.0 C386.3,1023.2 381.3,1030.3 388.0,1035.0 C394.7,1039.7 408.3,1043.0 420.0,1048.0 C431.7,1053.0 449.7,1061.0 458.0,1065.0 C466.3,1069.0 463.0,1069.7 470.0,1072.0 C477.0,1074.3 488.3,1077.3 500.0,1079.0 C511.7,1080.7 528.3,1081.8 540.0,1082.0 C551.7,1082.2 556.7,1082.8 570.0,1080.0 C583.3,1077.2 604.7,1070.3 620.0,1065.0 C635.3,1059.7 635.6,1057.2 661.6,1048.0 C687.6,1038.8 742.8,1021.2 775.9,1010.0 C809.0,998.8 841.8,986.7 860.0,981.0 C878.2,975.3 880.8,976.8 885.0,976.0"/><path d="M6.4,966.0 C13.8,968.6 32.8,975.7 50.8,981.9 C68.8,988.1 93.1,997.3 114.3,1003.3 C135.5,1009.3 158.8,1013.8 177.8,1017.9 C196.9,1022.0 213.2,1025.9 228.6,1027.7 C244.0,1029.5 259.4,1029.9 270.0,1028.9 C280.6,1028.0 285.3,1024.2 292.0,1022.0 C298.7,1019.9 292.0,1017.0 310.0,1016.0 C328.0,1015.0 381.2,1015.3 400.0,1016.0 C418.8,1016.7 418.0,1016.8 423.0,1020.0 C428.0,1023.2 424.2,1030.0 430.0,1035.0 C435.8,1040.0 451.3,1046.2 458.0,1050.0 C464.7,1053.8 463.0,1055.3 470.0,1058.0 C477.0,1060.7 488.3,1063.7 500.0,1066.0 C511.7,1068.3 527.5,1071.0 540.0,1072.0 C552.5,1073.0 561.7,1074.0 575.0,1072.0 C588.3,1070.0 605.6,1064.5 620.0,1060.0 C634.4,1055.5 635.6,1053.8 661.6,1045.0 C687.6,1036.2 742.8,1018.0 775.9,1007.0 C809.0,996.0 842.6,984.2 860.0,979.0 C877.4,973.8 876.7,976.5 880.0,976.0"/><path d="M6.4,966.0 C13.8,968.4 32.8,974.3 50.8,980.2 C68.8,986.1 93.1,995.2 114.3,1001.2 C135.5,1007.2 158.8,1011.9 177.8,1015.9 C196.9,1019.9 213.2,1023.5 228.6,1025.0 C244.0,1026.5 259.4,1025.8 270.0,1024.8 C280.6,1023.8 284.5,1020.8 292.0,1019.0 C299.5,1017.2 297.0,1014.9 315.0,1014.0 C333.0,1013.1 375.5,1013.2 400.0,1013.5 C424.5,1013.8 450.3,1014.6 462.0,1016.0 C473.7,1017.4 468.2,1018.1 470.0,1022.0 C471.8,1025.9 468.7,1035.0 473.0,1039.6 C477.3,1044.2 488.7,1046.0 495.9,1049.8 C503.1,1053.6 509.9,1060.2 516.2,1062.5 C522.6,1064.8 523.4,1065.9 534.0,1063.8 C544.6,1061.7 565.7,1054.0 580.0,1050.0 C594.3,1046.0 606.4,1043.3 620.0,1040.0 C633.6,1036.7 648.3,1033.3 661.6,1030.0 C674.9,1026.7 681.0,1024.3 700.0,1020.0 C719.0,1015.7 749.2,1011.0 775.9,1004.0 C802.6,997.0 846.0,982.3 860.0,978.0"/><path d="M53.3,963.9 C61.3,966.8 83.8,974.3 101.6,981.2 C119.4,988.1 138.8,999.4 160.0,1005.3 C181.2,1011.2 208.7,1015.3 228.6,1016.8 C248.5,1018.2 267.5,1015.0 279.4,1014.0 C291.3,1013.0 281.3,1012.2 300.0,1011.0 C318.7,1009.8 357.0,1005.9 391.8,1006.6 C426.6,1007.4 482.8,1012.1 508.6,1015.5 C534.4,1018.9 538.1,1024.8 546.7,1026.9 C555.3,1029.0 547.0,1029.7 560.0,1028.2 C573.0,1026.7 601.7,1021.0 625.0,1018.0 C648.3,1015.0 674.2,1013.3 700.0,1010.0 C725.8,1006.7 753.3,1002.5 780.0,998.0 C806.7,993.5 840.0,986.5 860.0,983.0 C880.0,979.5 893.3,978.0 900.0,977.0"/><path d="M90.2,958.3 C98.9,961.7 123.8,972.4 142.2,978.7 C160.6,985.1 174.4,992.7 200.7,996.4 C227.0,1000.1 280.4,1000.6 300.0,1001.0 C319.6,1001.4 296.0,999.8 318.1,999.0 C340.2,998.2 393.4,994.9 432.4,996.4 C471.3,997.9 530.5,1006.0 551.8,1007.9 C573.1,1009.8 540.9,1010.2 560.0,1007.9 C579.1,1005.6 637.1,996.2 666.7,993.9 C696.3,991.6 714.1,997.7 737.8,993.9 C761.5,990.1 797.0,974.8 808.9,971.0"/><path d="M142.2,955.8 C152.4,958.3 184.6,966.5 203.2,971.0 C221.8,975.5 237.9,980.0 254.0,982.5 C270.1,985.0 280.4,985.4 300.0,986.0 C319.6,986.6 340.0,986.0 371.4,986.3 C402.8,986.6 456.9,987.0 488.3,987.6 C519.7,988.2 540.4,989.9 560.0,990.1 C579.6,990.3 580.3,992.0 605.7,988.8 C631.1,985.6 685.7,974.4 712.4,971.0 C739.1,967.6 756.8,968.9 765.7,968.5"/><path d="M200.7,951.2 C217.2,953.8 280.9,963.9 300.0,967.0 C319.1,970.1 293.5,968.7 315.6,969.8 C337.7,970.9 393.5,972.8 432.4,973.6 C471.3,974.5 524.6,974.7 549.2,974.9 C573.8,975.1 560.4,976.9 580.0,975.0 C599.6,973.1 642.9,965.1 666.7,963.4 C690.5,961.7 713.3,964.5 722.6,964.7"/><path d="M266.7,948.2 C272.2,948.7 280.0,948.9 300.0,951.0 C320.0,953.1 352.8,959.0 386.7,960.9 C420.6,962.8 474.6,962.2 503.5,962.2 C532.4,962.2 540.9,961.5 560.0,960.9 C579.1,960.2 602.3,959.6 618.4,958.3 C634.5,957.0 650.1,954.1 656.5,953.3"/></g>
<g class="ar"><path d="M-10,-4.2 L0,0 L-10,4.2" transform="translate(46.3,1139.5) rotate(4.9)"/><path d="M-10,-4.2 L0,0 L-10,4.2" transform="translate(162.9,1149.2) rotate(4.5)"/><path d="M-10,-4.2 L0,0 L-10,4.2" transform="translate(279.5,1157.9) rotate(3.5)"/><path d="M-10,-4.2 L0,0 L-10,4.2" transform="translate(396.5,1161.6) rotate(0.8)"/><path d="M-10,-4.2 L0,0 L-10,4.2" transform="translate(513.5,1162.8) rotate(0.4)"/><path d="M-10,-4.2 L0,0 L-10,4.2" transform="translate(630.4,1162.4) rotate(-0.4)"/><path d="M-10,-4.2 L0,0 L-10,4.2" transform="translate(747.4,1160.9) rotate(-1.1)"/><path d="M-10,-4.2 L0,0 L-10,4.2" transform="translate(864.4,1158.3) rotate(-1.0)"/><path d="M-10,-4.2 L0,0 L-10,4.2" transform="translate(981.2,1152.6) rotate(-5.6)"/><path d="M-10,-4.2 L0,0 L-10,4.2" transform="translate(1096.6,1134.3) rotate(-24.9)"/><path d="M-10,-4.2 L0,0 L-10,4.2" transform="translate(81.7,1091.8) rotate(11.9)"/><path d="M-10,-4.2 L0,0 L-10,4.2" transform="translate(196.4,1114.7) rotate(10.9)"/><path d="M-10,-4.2 L0,0 L-10,4.2" transform="translate(311.6,1135.3) rotate(8.0)"/><path d="M-10,-4.2 L0,0 L-10,4.2" transform="translate(428.4,1140.6) rotate(1.4)"/><path d="M-10,-4.2 L0,0 L-10,4.2" transform="translate(545.4,1141.2) rotate(-0.7)"/><path d="M-10,-4.2 L0,0 L-10,4.2" transform="translate(662.4,1137.7) rotate(-2.6)"/><path d="M-10,-4.2 L0,0 L-10,4.2" transform="translate(779.2,1130.9) rotate(-3.9)"/><path d="M-10,-4.2 L0,0 L-10,4.2" transform="translate(894.7,1114.8) rotate(-12.8)"/><path d="M-10,-4.2 L0,0 L-10,4.2" transform="translate(978.2,1045.7) rotate(-71.9)"/><path d="M-10,-4.2 L0,0 L-10,4.2" transform="translate(1081.0,993.8) rotate(-21.0)"/><path d="M-10,-4.2 L0,0 L-10,4.2" transform="translate(115.9,1069.2) rotate(15.1)"/><path d="M-10,-4.2 L0,0 L-10,4.2" transform="translate(229.3,1098.2) rotate(14.3)"/><path d="M-10,-4.2 L0,0 L-10,4.2" transform="translate(342.9,1125.1) rotate(4.7)"/><path d="M-10,-4.2 L0,0 L-10,4.2" transform="translate(459.8,1129.8) rotate(0.1)"/><path d="M-10,-4.2 L0,0 L-10,4.2" transform="translate(576.7,1125.9) rotate(-2.8)"/><path d="M-10,-4.2 L0,0 L-10,4.2" transform="translate(693.4,1117.7) rotate(-7.5)"/><path d="M-10,-4.2 L0,0 L-10,4.2" transform="translate(808.5,1096.9) rotate(-13.0)"/><path d="M-10,-4.2 L0,0 L-10,4.2" transform="translate(895.5,1024.3) rotate(-28.0)"/><path d="M-10,-4.2 L0,0 L-10,4.2" transform="translate(1005.1,983.8) rotate(-16.9)"/><path d="M-10,-4.2 L0,0 L-10,4.2" transform="translate(149.3,1040.1) rotate(14.5)"/><path d="M-10,-4.2 L0,0 L-10,4.2" transform="translate(261.5,1073.0) rotate(22.5)"/><path d="M-10,-4.2 L0,0 L-10,4.2" transform="translate(368.1,1110.6) rotate(5.9)"/><path d="M-10,-4.2 L0,0 L-10,4.2" transform="translate(485.0,1113.2) rotate(-1.2)"/><path d="M-10,-4.2 L0,0 L-10,4.2" transform="translate(601.2,1101.7) rotate(-11.9)"/><path d="M-10,-4.2 L0,0 L-10,4.2" transform="translate(711.6,1064.2) rotate(-29.5)"/><path d="M-10,-4.2 L0,0 L-10,4.2" transform="translate(817.9,1015.7) rotate(-21.6)"/><path d="M-10,-4.2 L0,0 L-10,4.2" transform="translate(114.1,1013.2) rotate(17.2)"/><path d="M-10,-4.2 L0,0 L-10,4.2" transform="translate(227.9,1040.3) rotate(12.6)"/><path d="M-10,-4.2 L0,0 L-10,4.2" transform="translate(320.8,1096.4) rotate(9.3)"/><path d="M-10,-4.2 L0,0 L-10,4.2" transform="translate(437.7,1101.4) rotate(1.4)"/><path d="M-10,-4.2 L0,0 L-10,4.2" transform="translate(554.5,1099.0) rotate(-8.7)"/><path d="M-10,-4.2 L0,0 L-10,4.2" transform="translate(664.2,1059.1) rotate(-19.4)"/><path d="M-10,-4.2 L0,0 L-10,4.2" transform="translate(775.2,1022.2) rotate(-19.1)"/><path d="M-10,-4.2 L0,0 L-10,4.2" transform="translate(884.9,981.6) rotate(-17.5)"/><path d="M-10,-4.2 L0,0 L-10,4.2" transform="translate(115.0,1011.4) rotate(16.1)"/><path d="M-10,-4.2 L0,0 L-10,4.2" transform="translate(229.0,1037.9) rotate(11.2)"/><path d="M-10,-4.2 L0,0 L-10,4.2" transform="translate(331.2,1082.7) rotate(-4.9)"/><path d="M-10,-4.2 L0,0 L-10,4.2" transform="translate(438.5,1100.2) rotate(1.2)"/><path d="M-10,-4.2 L0,0 L-10,4.2" transform="translate(555.3,1095.9) rotate(-10.9)"/><path d="M-10,-4.2 L0,0 L-10,4.2" transform="translate(664.9,1055.8) rotate(-19.4)"/><path d="M-10,-4.2 L0,0 L-10,4.2" transform="translate(776.0,1019.0) rotate(-19.7)"/><path d="M-10,-4.2 L0,0 L-10,4.2" transform="translate(886.0,979.3) rotate(-13.6)"/><path d="M-10,-4.2 L0,0 L-10,4.2" transform="translate(115.8,1009.7) rotate(15.9)"/><path d="M-10,-4.2 L0,0 L-10,4.2" transform="translate(230.0,1035.3) rotate(10.0)"/><path d="M-10,-4.2 L0,0 L-10,4.2" transform="translate(343.5,1061.7) rotate(28.9)"/><path d="M-10,-4.2 L0,0 L-10,4.2" transform="translate(444.3,1097.7) rotate(2.1)"/><path d="M-10,-4.2 L0,0 L-10,4.2" transform="translate(560.9,1091.0) rotate(-12.7)"/><path d="M-10,-4.2 L0,0 L-10,4.2" transform="translate(670.6,1050.8) rotate(-18.8)"/><path d="M-10,-4.2 L0,0 L-10,4.2" transform="translate(781.7,1014.0) rotate(-19.4)"/><path d="M-10,-4.2 L0,0 L-10,4.2" transform="translate(892.4,976.6) rotate(-11.9)"/><path d="M-10,-4.2 L0,0 L-10,4.2" transform="translate(116.6,1007.9) rotate(15.7)"/><path d="M-10,-4.2 L0,0 L-10,4.2" transform="translate(230.8,1033.0) rotate(9.1)"/><path d="M-10,-4.2 L0,0 L-10,4.2" transform="translate(344.1,1034.3) rotate(34.0)"/><path d="M-10,-4.2 L0,0 L-10,4.2" transform="translate(450.8,1081.7) rotate(25.3)"/><path d="M-10,-4.2 L0,0 L-10,4.2" transform="translate(565.7,1085.8) rotate(-13.1)"/><path d="M-10,-4.2 L0,0 L-10,4.2" transform="translate(675.5,1046.2) rotate(-18.9)"/><path d="M-10,-4.2 L0,0 L-10,4.2" transform="translate(786.6,1009.3) rotate(-19.4)"/><path d="M-10,-4.2 L0,0 L-10,4.2" transform="translate(117.3,1006.1) rotate(15.5)"/><path d="M-10,-4.2 L0,0 L-10,4.2" transform="translate(231.7,1030.5) rotate(7.8)"/><path d="M-10,-4.2 L0,0 L-10,4.2" transform="translate(345.6,1016.1) rotate(-2.1)"/><path d="M-10,-4.2 L0,0 L-10,4.2" transform="translate(447.2,1060.0) rotate(24.5)"/><path d="M-10,-4.2 L0,0 L-10,4.2" transform="translate(560.1,1081.7) rotate(-6.6)"/><path d="M-10,-4.2 L0,0 L-10,4.2" transform="translate(670.9,1044.8) rotate(-18.8)"/><path d="M-10,-4.2 L0,0 L-10,4.2" transform="translate(781.9,1008.0) rotate(-18.8)"/><path d="M-10,-4.2 L0,0 L-10,4.2" transform="translate(118.0,1004.3) rotate(15.4)"/><path d="M-10,-4.2 L0,0 L-10,4.2" transform="translate(232.5,1028.1) rotate(5.4)"/><path d="M-10,-4.2 L0,0 L-10,4.2" transform="translate(346.6,1015.4) rotate(0.0)"/><path d="M-10,-4.2 L0,0 L-10,4.2" transform="translate(450.0,1045.9) rotate(25.6)"/><path d="M-10,-4.2 L0,0 L-10,4.2" transform="translate(561.9,1073.1) rotate(-0.9)"/><path d="M-10,-4.2 L0,0 L-10,4.2" transform="translate(673.9,1040.9) rotate(-18.6)"/><path d="M-10,-4.2 L0,0 L-10,4.2" transform="translate(784.9,1004.0) rotate(-18.6)"/><path d="M-10,-4.2 L0,0 L-10,4.2" transform="translate(118.6,1002.4) rotate(15.3)"/><path d="M-10,-4.2 L0,0 L-10,4.2" transform="translate(233.3,1025.4) rotate(3.6)"/><path d="M-10,-4.2 L0,0 L-10,4.2" transform="translate(348.7,1013.3) rotate(-0.3)"/><path d="M-10,-4.2 L0,0 L-10,4.2" transform="translate(465.6,1016.5) rotate(9.4)"/><path d="M-10,-4.2 L0,0 L-10,4.2" transform="translate(555.8,1057.5) rotate(-17.9)"/><path d="M-10,-4.2 L0,0 L-10,4.2" transform="translate(669.0,1028.1) rotate(-15.3)"/><path d="M-10,-4.2 L0,0 L-10,4.2" transform="translate(783.0,1002.1) rotate(-16.0)"/><path d="M-10,-4.2 L0,0 L-10,4.2" transform="translate(142.5,999.2) rotate(22.2)"/><path d="M-10,-4.2 L0,0 L-10,4.2" transform="translate(257.4,1016.3) rotate(-5.4)"/><path d="M-10,-4.2 L0,0 L-10,4.2" transform="translate(373.8,1006.6) rotate(-1.4)"/><path d="M-10,-4.2 L0,0 L-10,4.2" transform="translate(490.6,1013.4) rotate(5.9)"/><path d="M-10,-4.2 L0,0 L-10,4.2" transform="translate(604.5,1021.0) rotate(-9.2)"/><path d="M-10,-4.2 L0,0 L-10,4.2" transform="translate(720.7,1007.2) rotate(-8.1)"/><path d="M-10,-4.2 L0,0 L-10,4.2" transform="translate(836.0,987.5) rotate(-11.0)"/><path d="M-10,-4.2 L0,0 L-10,4.2" transform="translate(216.5,998.0) rotate(4.1)"/><path d="M-10,-4.2 L0,0 L-10,4.2" transform="translate(331.6,998.4) rotate(-2.6)"/><path d="M-10,-4.2 L0,0 L-10,4.2" transform="translate(448.5,997.3) rotate(3.9)"/><path d="M-10,-4.2 L0,0 L-10,4.2" transform="translate(554.0,1009.3) rotate(-155.5)"/><path d="M-10,-4.2 L0,0 L-10,4.2" transform="translate(669.1,993.8) rotate(-3.3)"/><path d="M-10,-4.2 L0,0 L-10,4.2" transform="translate(783.9,980.2) rotate(-20.0)"/><path d="M-10,-4.2 L0,0 L-10,4.2" transform="translate(193.6,968.7) rotate(13.7)"/><path d="M-10,-4.2 L0,0 L-10,4.2" transform="translate(308.9,986.2) rotate(1.0)"/><path d="M-10,-4.2 L0,0 L-10,4.2" transform="translate(425.9,986.8) rotate(0.6)"/><path d="M-10,-4.2 L0,0 L-10,4.2" transform="translate(542.8,989.6) rotate(2.3)"/><path d="M-10,-4.2 L0,0 L-10,4.2" transform="translate(659.0,979.9) rotate(-10.2)"/><path d="M-10,-4.2 L0,0 L-10,4.2" transform="translate(289.6,965.3) rotate(9.1)"/><path d="M-10,-4.2 L0,0 L-10,4.2" transform="translate(402.7,972.9) rotate(1.6)"/><path d="M-10,-4.2 L0,0 L-10,4.2" transform="translate(519.7,974.7) rotate(0.4)"/><path d="M-10,-4.2 L0,0 L-10,4.2" transform="translate(636.1,967.0) rotate(-8.2)"/><path d="M-10,-4.2 L0,0 L-10,4.2" transform="translate(393.0,961.2) rotate(2.7)"/><path d="M-10,-4.2 L0,0 L-10,4.2" transform="translate(510.0,962.2) rotate(-0.1)"/><path d="M-10,-4.2 L0,0 L-10,4.2" transform="translate(626.9,957.5) rotate(-6.6)"/></g>
<rect x="303.6" y="1019" width="155.7" height="65.1" fill="none" stroke="#00aaff" stroke-width="3.6"/>
<text x="368.9" y="941.8" class="tk" font-size="25">Net Cage</text>
<line x1="6" x2="1143" y1="915.9" y2="915.9" class="ax"/>
<line x1="6" x2="1143" y1="1175.9" y2="1175.9" class="ax"/>
<line x1="1137.4" x2="1137.4" y1="915.9" y2="1175.9" class="ax"/>
<line x1="21.5" x2="21.5" y1="915.9" y2="1175.9" stroke="#111" stroke-width="1.2"/>
<line x1="1137.3" x2="1137.3" y1="987.3" y2="1174.7" stroke="#0a9a1a" stroke-width="2.6"/>
<line x1="1137.4" x2="1142.4" y1="1175.9" y2="1175.9" stroke="#111" stroke-width="1.3"/>
<line x1="1137.4" x2="1142.4" y1="1110.9" y2="1110.9" stroke="#111" stroke-width="1.3"/>
<line x1="1137.4" x2="1142.4" y1="1045.9" y2="1045.9" stroke="#111" stroke-width="1.3"/>
<line x1="1137.4" x2="1142.4" y1="980.9" y2="980.9" stroke="#111" stroke-width="1.3"/>
<line x1="1137.4" x2="1142.4" y1="915.9" y2="915.9" stroke="#111" stroke-width="1.3"/>
<text x="1143.5" y="1184.4" class="tk" font-size="25">0</text>
<text x="1143.5" y="1119.4" class="tk" font-size="25">0.5</text>
<text x="1143.5" y="1054.4" class="tk" font-size="25">1</text>
<text x="1143.5" y="989.4" class="tk" font-size="25">1.5</text>
<text x="1143.5" y="924.4" class="tk" font-size="25">2</text>
<line x1="21.5" x2="21.5" y1="1175.9" y2="1180.9" stroke="#111" stroke-width="1.5"/>
<text x="22.5" y="1201.9" class="tk" text-anchor="middle" font-size="25">0.5</text>
<line x1="151.3" x2="151.3" y1="1175.9" y2="1180.9" stroke="#111" stroke-width="1.5"/>
<text x="152.3" y="1201.9" class="tk" text-anchor="middle" font-size="25">1</text>
<line x1="281.1" x2="281.1" y1="1175.9" y2="1180.9" stroke="#111" stroke-width="1.5"/>
<text x="282.1" y="1201.9" class="tk" text-anchor="middle" font-size="25">1.5</text>
<line x1="410.9" x2="410.9" y1="1175.9" y2="1180.9" stroke="#111" stroke-width="1.5"/>
<text x="411.9" y="1201.9" class="tk" text-anchor="middle" font-size="25">2</text>
<line x1="540.7" x2="540.7" y1="1175.9" y2="1180.9" stroke="#111" stroke-width="1.5"/>
<text x="541.7" y="1201.9" class="tk" text-anchor="middle" font-size="25">2.5</text>
<line x1="670.5" x2="670.5" y1="1175.9" y2="1180.9" stroke="#111" stroke-width="1.5"/>
<text x="671.5" y="1201.9" class="tk" text-anchor="middle" font-size="25">3</text>
<line x1="800.3" x2="800.3" y1="1175.9" y2="1180.9" stroke="#111" stroke-width="1.5"/>
<text x="801.3" y="1201.9" class="tk" text-anchor="middle" font-size="25">3.5</text>
<line x1="930.1" x2="930.1" y1="1175.9" y2="1180.9" stroke="#111" stroke-width="1.5"/>
<text x="931.1" y="1201.9" class="tk" text-anchor="middle" font-size="25">4</text>
<line x1="1059.9" x2="1059.9" y1="1175.9" y2="1180.9" stroke="#111" stroke-width="1.5"/>
<text x="1060.9" y="1201.9" class="tk" text-anchor="middle" font-size="25">4.5</text>
<text x="1129.5" y="1201.9" class="tk" text-anchor="middle" font-size="25">4.8</text>
<text x="588.2" y="1219.4" class="it" font-size="25.5">x</text>
<text x="603.2" y="1219.4" class="tk" font-size="25.5">/m</text>
<text x="5.9" y="1267.9" class="lab">D</text>
<text x="325.4" y="1265" class="it" font-size="25">u</text>
<rect x="353" y="1241.3" width="436" height="31" fill="url(#cbg)"/>
<line x1="373.50" x2="373.50" y1="1241.3" y2="1272.3" class="div"/>
<line x1="413.05" x2="413.05" y1="1241.3" y2="1272.3" class="div"/>
<line x1="452.60" x2="452.60" y1="1241.3" y2="1272.3" class="div"/>
<line x1="492.15" x2="492.15" y1="1241.3" y2="1272.3" class="div"/>
<line x1="531.70" x2="531.70" y1="1241.3" y2="1272.3" class="div"/>
<line x1="571.25" x2="571.25" y1="1241.3" y2="1272.3" class="div"/>
<line x1="610.80" x2="610.80" y1="1241.3" y2="1272.3" class="div"/>
<line x1="650.35" x2="650.35" y1="1241.3" y2="1272.3" class="div"/>
<line x1="689.90" x2="689.90" y1="1241.3" y2="1272.3" class="div"/>
<line x1="729.45" x2="729.45" y1="1241.3" y2="1272.3" class="div"/>
<line x1="769.00" x2="769.00" y1="1241.3" y2="1272.3" class="div"/>
<rect x="353" y="1241.3" width="436" height="31" fill="none" stroke="#111" stroke-width="1.6"/>
<text x="373.50" y="1304.5" class="tk" text-anchor="middle" font-size="21">0</text>
<text x="413.05" y="1304.5" class="tk" text-anchor="middle" font-size="21">0.2</text>
<text x="452.60" y="1304.5" class="tk" text-anchor="middle" font-size="21">0.4</text>
<text x="492.15" y="1304.5" class="tk" text-anchor="middle" font-size="21">0.6</text>
<text x="531.70" y="1304.5" class="tk" text-anchor="middle" font-size="21">0.8</text>
<text x="571.25" y="1304.5" class="tk" text-anchor="middle" font-size="21">1</text>
<text x="610.80" y="1304.5" class="tk" text-anchor="middle" font-size="21">1.2</text>
<text x="650.35" y="1304.5" class="tk" text-anchor="middle" font-size="21">1.4</text>
<text x="689.90" y="1304.5" class="tk" text-anchor="middle" font-size="21">1.6</text>
<text x="729.45" y="1304.5" class="tk" text-anchor="middle" font-size="21">1.8</text>
<text x="769.00" y="1304.5" class="tk" text-anchor="middle" font-size="21">2</text>
<text x="789.4" y="1303.3" class="tk" font-size="25">(</text>
<text x="798.2" y="1303.3" class="tk" font-size="25">m</text>
<text x="825" y="1303.3" class="tk" font-size="25" text-anchor="middle">&#183;</text>
<text x="833.3" y="1303.3" class="tk" font-size="25">s</text>
<text x="844.7" y="1292.3" class="tk" font-size="14">-</text>
<text x="849.6" y="1292.3" class="tk" font-size="14">1</text>
<text x="858" y="1303.3" class="tk" font-size="25">)</text>
<text x="141" y="1293.4" class="it" font-size="26.5">d</text>
<text x="161.5" y="1293.4" class="tk" font-size="26.5">=</text>
<text transform="translate(176.3,1293.4) scale(0.985,1)" class="tk" font-size="26.5">0.6m</text>
<text x="1116.4" y="1300.5" class="it" font-size="25.5">z</text>
<text x="1130.4" y="1300.5" class="tk" font-size="25.5">/m</text>
<clipPath id="cl3"><path d="M6.5,1577.1 L6.4,1369.2 L20.3,1369.2 L20.3,1366.4 L47.0,1366.4 L47.0,1364.6 L78.7,1364.6 L78.7,1362.1 L109.2,1362.1 L109.2,1359.8 L146.0,1359.8 L146.0,1357.0 L182.9,1357.0 L182.9,1354.2 L245.1,1354.2 L245.1,1351.4 L462.9,1351.4 L462.9,1349.4 L508.6,1349.4 L508.6,1351.4 L556.9,1351.4 L556.9,1353.2 L634.9,1353.2 L634.9,1351.4 L676.8,1351.4 L676.8,1353.2 L697.2,1353.2 L697.2,1355.7 L717.5,1355.7 L717.5,1358.3 L742.9,1358.3 L742.9,1360.8 L774.6,1360.8 L774.6,1363.3 L806.4,1363.3 L806.4,1365.9 L836.9,1365.9 L836.9,1368.9 L867.9,1368.9 L867.9,1371.0 L906.0,1371.0 L906.0,1373.5 L946.7,1373.5 L946.7,1376.5 L1034.3,1376.5 L1034.3,1379.9 L1123.2,1379.9 L1123.2,1382.4 L1134.6,1382.4 L1134.6,1385.0 L1138.0,1385.0 L1138,1577.1 Z"/></clipPath>
<g clip-path="url(#cl3)"><g filter="url(#blur)"><rect x="-30" y="1307" width="31" height="21" fill="#8efc83"/><rect x="0" y="1307" width="31" height="21" fill="#90fc82"/><rect x="30" y="1307" width="31" height="21" fill="#97fc80"/><rect x="60" y="1307" width="31" height="21" fill="#9ffc80"/><rect x="90" y="1307" width="31" height="21" fill="#a7fb80"/><rect x="120" y="1307" width="31" height="21" fill="#affa80"/><rect x="150" y="1307" width="31" height="21" fill="#b6fb80"/><rect x="180" y="1307" width="31" height="21" fill="#bdfc80"/><rect x="210" y="1307" width="31" height="21" fill="#c4fd80"/><rect x="240" y="1307" width="31" height="21" fill="#cafe80"/><rect x="270" y="1307" width="31" height="21" fill="#d0ff80"/><rect x="300" y="1307" width="31" height="21" fill="#d7ff80"/><rect x="330" y="1307" width="31" height="21" fill="#ddff80"/><rect x="360" y="1307" width="31" height="21" fill="#e4ff80"/><rect x="390" y="1307" width="31" height="21" fill="#eaff80"/><rect x="420" y="1307" width="31" height="21" fill="#f1ff80"/><rect x="450" y="1307" width="31" height="21" fill="#f5ff80"/><rect x="480" y="1307" width="31" height="21" fill="#faff80"/><rect x="510" y="1307" width="31" height="21" fill="#fcff80"/><rect x="540" y="1307" width="31" height="21" fill="#faff80"/><rect x="570" y="1307" width="31" height="21" fill="#f7ff80"/><rect x="600" y="1307" width="31" height="21" fill="#f0ff80"/><rect x="630" y="1307" width="31" height="21" fill="#e8ff80"/><rect x="660" y="1307" width="31" height="21" fill="#deff80"/><rect x="690" y="1307" width="31" height="21" fill="#d6ff80"/><rect x="720" y="1307" width="31" height="21" fill="#cdff80"/><rect x="750" y="1307" width="31" height="21" fill="#c4fd80"/><rect x="780" y="1307" width="31" height="21" fill="#bafc80"/><rect x="810" y="1307" width="31" height="21" fill="#b2fa80"/><rect x="840" y="1307" width="31" height="21" fill="#aafb80"/><rect x="870" y="1307" width="31" height="21" fill="#a2fb80"/><rect x="900" y="1307" width="31" height="21" fill="#9bfc80"/><rect x="930" y="1307" width="31" height="21" fill="#94fc80"/><rect x="960" y="1307" width="31" height="21" fill="#91fc81"/><rect x="990" y="1307" width="31" height="21" fill="#8ffc83"/><rect x="1020" y="1307" width="31" height="21" fill="#8cfc84"/><rect x="1050" y="1307" width="121" height="21" fill="#8afb86"/><rect x="-30" y="1327" width="31" height="21" fill="#8efc83"/><rect x="0" y="1327" width="31" height="21" fill="#90fc82"/><rect x="30" y="1327" width="31" height="21" fill="#97fc80"/><rect x="60" y="1327" width="31" height="21" fill="#9ffc80"/><rect x="90" y="1327" width="31" height="21" fill="#a7fb80"/><rect x="120" y="1327" width="31" height="21" fill="#affa80"/><rect x="150" y="1327" width="31" height="21" fill="#b6fb80"/><rect x="180" y="1327" width="31" height="21" fill="#bdfc80"/><rect x="210" y="1327" width="31" height="21" fill="#c4fd80"/><rect x="240" y="1327" width="31" height="21" fill="#cafe80"/><rect x="270" y="1327" width="31" height="21" fill="#d0ff80"/><rect x="300" y="1327" width="31" height="21" fill="#d7ff80"/><rect x="330" y="1327" width="31" height="21" fill="#ddff80"/><rect x="360" y="1327" width="31" height="21" fill="#e4ff80"/><rect x="390" y="1327" width="31" height="21" fill="#eaff80"/><rect x="420" y="1327" width="31" height="21" fill="#f1ff80"/><rect x="450" y="1327" width="31" height="21" fill="#f5ff80"/><rect x="480" y="1327" width="31" height="21" fill="#faff80"/><rect x="510" y="1327" width="31" height="21" fill="#fcff80"/><rect x="540" y="1327" width="31" height="21" fill="#faff80"/><rect x="570" y="1327" width="31" height="21" fill="#f7ff80"/><rect x="600" y="1327" width="31" height="21" fill="#f0ff80"/><rect x="630" y="1327" width="31" height="21" fill="#e8ff80"/><rect x="660" y="1327" width="31" height="21" fill="#deff80"/><rect x="690" y="1327" width="31" height="21" fill="#d6ff80"/><rect x="720" y="1327" width="31" height="21" fill="#cdff80"/><rect x="750" y="1327" width="31" height="21" fill="#c4fd80"/><rect x="780" y="1327" width="31" height="21" fill="#bafc80"/><rect x="810" y="1327" width="31" height="21" fill="#b2fa80"/><rect x="840" y="1327" width="31" height="21" fill="#aafb80"/><rect x="870" y="1327" width="31" height="21" fill="#a2fb80"/><rect x="900" y="1327" width="31" height="21" fill="#9bfc80"/><rect x="930" y="1327" width="31" height="21" fill="#94fc80"/><rect x="960" y="1327" width="31" height="21" fill="#91fc81"/><rect x="990" y="1327" width="31" height="21" fill="#8ffc83"/><rect x="1020" y="1327" width="31" height="21" fill="#8cfc84"/><rect x="1050" y="1327" width="121" height="21" fill="#8afb86"/><rect x="-30" y="1347" width="31" height="21" fill="#8efc83"/><rect x="0" y="1347" width="31" height="21" fill="#90fc82"/><rect x="30" y="1347" width="31" height="21" fill="#97fc80"/><rect x="60" y="1347" width="31" height="21" fill="#9ffc80"/><rect x="90" y="1347" width="31" height="21" fill="#a7fb80"/><rect x="120" y="1347" width="31" height="21" fill="#affa80"/><rect x="150" y="1347" width="31" height="21" fill="#b6fb80"/><rect x="180" y="1347" width="31" height="21" fill="#bdfc80"/><rect x="210" y="1347" width="31" height="21" fill="#c4fd80"/><rect x="240" y="1347" width="31" height="21" fill="#cafe80"/><rect x="270" y="1347" width="31" height="21" fill="#d0ff80"/><rect x="300" y="1347" width="31" height="21" fill="#d7ff80"/><rect x="330" y="1347" width="31" height="21" fill="#ddff80"/><rect x="360" y="1347" width="31" height="21" fill="#e4ff80"/><rect x="390" y="1347" width="31" height="21" fill="#eaff80"/><rect x="420" y="1347" width="31" height="21" fill="#f1ff80"/><rect x="450" y="1347" width="31" height="21" fill="#f5ff80"/><rect x="480" y="1347" width="31" height="21" fill="#faff80"/><rect x="510" y="1347" width="31" height="21" fill="#fcff80"/><rect x="540" y="1347" width="31" height="21" fill="#faff80"/><rect x="570" y="1347" width="31" height="21" fill="#f7ff80"/><rect x="600" y="1347" width="31" height="21" fill="#f0ff80"/><rect x="630" y="1347" width="31" height="21" fill="#e8ff80"/><rect x="660" y="1347" width="31" height="21" fill="#deff80"/><rect x="690" y="1347" width="31" height="21" fill="#d6ff80"/><rect x="720" y="1347" width="31" height="21" fill="#cdff80"/><rect x="750" y="1347" width="31" height="21" fill="#c4fd80"/><rect x="780" y="1347" width="31" height="21" fill="#bafc80"/><rect x="810" y="1347" width="31" height="21" fill="#b2fa80"/><rect x="840" y="1347" width="31" height="21" fill="#aafb80"/><rect x="870" y="1347" width="31" height="21" fill="#a2fb80"/><rect x="900" y="1347" width="31" height="21" fill="#9bfc80"/><rect x="930" y="1347" width="31" height="21" fill="#94fc80"/><rect x="960" y="1347" width="31" height="21" fill="#91fc81"/><rect x="990" y="1347" width="31" height="21" fill="#8ffc83"/><rect x="1020" y="1347" width="31" height="21" fill="#8cfc84"/><rect x="1050" y="1347" width="121" height="21" fill="#8afb86"/><rect x="-30" y="1367" width="31" height="21" fill="#8efc83"/><rect x="0" y="1367" width="31" height="21" fill="#90fc82"/><rect x="30" y="1367" width="31" height="21" fill="#96fc80"/><rect x="60" y="1367" width="31" height="21" fill="#9efc80"/><rect x="90" y="1367" width="31" height="21" fill="#a6fb80"/><rect x="120" y="1367" width="31" height="21" fill="#aefa80"/><rect x="150" y="1367" width="31" height="21" fill="#b5fb80"/><rect x="180" y="1367" width="31" height="21" fill="#bcfc80"/><rect x="210" y="1367" width="31" height="21" fill="#c3fd80"/><rect x="240" y="1367" width="31" height="21" fill="#c9fe80"/><rect x="270" y="1367" width="31" height="21" fill="#cfff80"/><rect x="300" y="1367" width="31" height="21" fill="#d5ff80"/><rect x="330" y="1367" width="31" height="21" fill="#dbff80"/><rect x="360" y="1367" width="31" height="21" fill="#e1ff80"/><rect x="390" y="1367" width="31" height="21" fill="#e8ff80"/><rect x="420" y="1367" width="31" height="21" fill="#edff80"/><rect x="450" y="1367" width="31" height="21" fill="#f2ff80"/><rect x="480" y="1367" width="31" height="21" fill="#f6ff80"/><rect x="510" y="1367" width="31" height="21" fill="#f8ff80"/><rect x="540" y="1367" width="31" height="21" fill="#f6ff80"/><rect x="570" y="1367" width="31" height="21" fill="#f4ff80"/><rect x="600" y="1367" width="31" height="21" fill="#edff80"/><rect x="630" y="1367" width="31" height="21" fill="#e5ff80"/><rect x="660" y="1367" width="31" height="21" fill="#ddff80"/><rect x="690" y="1367" width="31" height="21" fill="#d4ff80"/><rect x="720" y="1367" width="31" height="21" fill="#cbff80"/><rect x="750" y="1367" width="31" height="21" fill="#c1fd80"/><rect x="780" y="1367" width="31" height="21" fill="#b8fb80"/><rect x="810" y="1367" width="31" height="21" fill="#b0fa80"/><rect x="840" y="1367" width="31" height="21" fill="#a9fb80"/><rect x="870" y="1367" width="31" height="21" fill="#a1fb80"/><rect x="900" y="1367" width="31" height="21" fill="#99fc80"/><rect x="930" y="1367" width="31" height="21" fill="#93fc80"/><rect x="960" y="1367" width="31" height="21" fill="#90fc81"/><rect x="990" y="1367" width="31" height="21" fill="#8dfc83"/><rect x="1020" y="1367" width="31" height="21" fill="#8afb85"/><rect x="1050" y="1367" width="121" height="21" fill="#88fb87"/><rect x="-30" y="1387" width="31" height="21" fill="#8efc83"/><rect x="0" y="1387" width="31" height="21" fill="#90fc82"/><rect x="30" y="1387" width="31" height="21" fill="#95fc80"/><rect x="60" y="1387" width="31" height="21" fill="#9cfc80"/><rect x="90" y="1387" width="31" height="21" fill="#a3fb80"/><rect x="120" y="1387" width="31" height="21" fill="#abfb80"/><rect x="150" y="1387" width="31" height="21" fill="#b3fa80"/><rect x="180" y="1387" width="31" height="21" fill="#bafb80"/><rect x="210" y="1387" width="31" height="21" fill="#c0fd80"/><rect x="240" y="1387" width="31" height="21" fill="#c7fe80"/><rect x="270" y="1387" width="31" height="21" fill="#cdff80"/><rect x="300" y="1387" width="31" height="21" fill="#d2ff80"/><rect x="330" y="1387" width="31" height="21" fill="#d7ff80"/><rect x="360" y="1387" width="31" height="21" fill="#dbff80"/><rect x="390" y="1387" width="31" height="21" fill="#e0ff80"/><rect x="420" y="1387" width="31" height="21" fill="#e5ff80"/><rect x="450" y="1387" width="31" height="21" fill="#e9ff80"/><rect x="480" y="1387" width="31" height="21" fill="#edff80"/><rect x="510" y="1387" width="31" height="21" fill="#efff80"/><rect x="540" y="1387" width="31" height="21" fill="#edff80"/><rect x="570" y="1387" width="31" height="21" fill="#ebff80"/><rect x="600" y="1387" width="31" height="21" fill="#e5ff80"/><rect x="630" y="1387" width="31" height="21" fill="#deff80"/><rect x="660" y="1387" width="31" height="21" fill="#d7ff80"/><rect x="690" y="1387" width="31" height="21" fill="#ceff80"/><rect x="720" y="1387" width="31" height="21" fill="#c5fe80"/><rect x="750" y="1387" width="31" height="21" fill="#bcfc80"/><rect x="780" y="1387" width="31" height="21" fill="#b2fa80"/><rect x="810" y="1387" width="31" height="21" fill="#abfb80"/><rect x="840" y="1387" width="31" height="21" fill="#a4fb80"/><rect x="870" y="1387" width="31" height="21" fill="#9dfc80"/><rect x="900" y="1387" width="31" height="21" fill="#96fc80"/><rect x="930" y="1387" width="31" height="21" fill="#91fc81"/><rect x="960" y="1387" width="31" height="21" fill="#8efc83"/><rect x="990" y="1387" width="31" height="21" fill="#8afb85"/><rect x="1020" y="1387" width="31" height="21" fill="#87fb87"/><rect x="1050" y="1387" width="121" height="21" fill="#84fb89"/><rect x="-30" y="1407" width="31" height="21" fill="#8efc83"/><rect x="0" y="1407" width="31" height="21" fill="#90fc82"/><rect x="30" y="1407" width="31" height="21" fill="#93fc80"/><rect x="60" y="1407" width="31" height="21" fill="#98fc80"/><rect x="90" y="1407" width="31" height="21" fill="#9dfc80"/><rect x="120" y="1407" width="31" height="21" fill="#a4fb80"/><rect x="150" y="1407" width="31" height="21" fill="#abfb80"/><rect x="180" y="1407" width="31" height="21" fill="#b2fa80"/><rect x="210" y="1407" width="31" height="21" fill="#b9fb80"/><rect x="240" y="1407" width="31" height="21" fill="#c0fd80"/><rect x="270" y="1407" width="31" height="21" fill="#c8fe80"/><rect x="300" y="1407" width="31" height="21" fill="#cdff80"/><rect x="330" y="1407" width="31" height="21" fill="#d2ff80"/><rect x="360" y="1407" width="31" height="21" fill="#d6ff80"/><rect x="390" y="1407" width="31" height="21" fill="#d8ff80"/><rect x="420" y="1407" width="31" height="21" fill="#dbff80"/><rect x="450" y="1407" width="31" height="21" fill="#deff80"/><rect x="480" y="1407" width="31" height="21" fill="#e1ff80"/><rect x="510" y="1407" width="31" height="21" fill="#e2ff80"/><rect x="540" y="1407" width="31" height="21" fill="#dfff80"/><rect x="570" y="1407" width="31" height="21" fill="#ddff80"/><rect x="600" y="1407" width="31" height="21" fill="#d7ff80"/><rect x="630" y="1407" width="31" height="21" fill="#d0ff80"/><rect x="660" y="1407" width="31" height="21" fill="#c8fe80"/><rect x="690" y="1407" width="31" height="21" fill="#c0fd80"/><rect x="720" y="1407" width="31" height="21" fill="#b8fb80"/><rect x="750" y="1407" width="31" height="21" fill="#affa80"/><rect x="780" y="1407" width="31" height="21" fill="#a6fb80"/><rect x="810" y="1407" width="31" height="21" fill="#9ffc80"/><rect x="840" y="1407" width="31" height="21" fill="#98fc80"/><rect x="870" y="1407" width="31" height="21" fill="#92fc80"/><rect x="900" y="1407" width="31" height="21" fill="#8dfc83"/><rect x="930" y="1407" width="31" height="21" fill="#8afb85"/><rect x="960" y="1407" width="31" height="21" fill="#88fb87"/><rect x="990" y="1407" width="31" height="21" fill="#86fb88"/><rect x="1020" y="1407" width="31" height="21" fill="#84fb89"/><rect x="1050" y="1407" width="121" height="21" fill="#82fa8a"/><rect x="-30" y="1427" width="31" height="21" fill="#8dfc84"/><rect x="0" y="1427" width="31" height="21" fill="#8dfc83"/><rect x="30" y="1427" width="31" height="21" fill="#8ffc82"/><rect x="60" y="1427" width="31" height="21" fill="#91fc81"/><rect x="90" y="1427" width="31" height="21" fill="#93fc80"/><rect x="120" y="1427" width="31" height="21" fill="#98fc80"/><rect x="150" y="1427" width="31" height="21" fill="#9dfc80"/><rect x="180" y="1427" width="31" height="21" fill="#a2fb80"/><rect x="210" y="1427" width="31" height="21" fill="#a7fb80"/><rect x="240" y="1427" width="31" height="21" fill="#acfa80"/><rect x="270" y="1427" width="31" height="21" fill="#b1fa80"/><rect x="300" y="1427" width="31" height="21" fill="#affa80"/><rect x="330" y="1427" width="61" height="21" fill="#aefa80"/><rect x="390" y="1427" width="31" height="21" fill="#affa80"/><rect x="420" y="1427" width="31" height="21" fill="#b0fa80"/><rect x="450" y="1427" width="31" height="21" fill="#b3fa80"/><rect x="480" y="1427" width="31" height="21" fill="#b6fb80"/><rect x="510" y="1427" width="31" height="21" fill="#b8fb80"/><rect x="540" y="1427" width="31" height="21" fill="#bafc80"/><rect x="570" y="1427" width="31" height="21" fill="#bdfc80"/><rect x="600" y="1427" width="31" height="21" fill="#bafb80"/><rect x="630" y="1427" width="31" height="21" fill="#b5fb80"/><rect x="660" y="1427" width="31" height="21" fill="#b0fa80"/><rect x="690" y="1427" width="31" height="21" fill="#a9fb80"/><rect x="720" y="1427" width="31" height="21" fill="#a3fb80"/><rect x="750" y="1427" width="31" height="21" fill="#9cfc80"/><rect x="780" y="1427" width="31" height="21" fill="#96fc80"/><rect x="810" y="1427" width="31" height="21" fill="#91fc81"/><rect x="840" y="1427" width="31" height="21" fill="#8dfc83"/><rect x="870" y="1427" width="31" height="21" fill="#89fb86"/><rect x="900" y="1427" width="31" height="21" fill="#85fb88"/><rect x="930" y="1427" width="31" height="21" fill="#83fa8a"/><rect x="960" y="1427" width="31" height="21" fill="#82fa8b"/><rect x="990" y="1427" width="31" height="21" fill="#81fa8b"/><rect x="1020" y="1427" width="151" height="21" fill="#80fa8c"/><rect x="-30" y="1447" width="61" height="21" fill="#8bfb85"/><rect x="30" y="1447" width="61" height="21" fill="#8cfc84"/><rect x="90" y="1447" width="31" height="21" fill="#8dfc84"/><rect x="120" y="1447" width="31" height="21" fill="#8ffc82"/><rect x="150" y="1447" width="31" height="21" fill="#92fc81"/><rect x="180" y="1447" width="61" height="21" fill="#94fc80"/><rect x="240" y="1447" width="31" height="21" fill="#93fc80"/><rect x="270" y="1447" width="31" height="21" fill="#91fc81"/><rect x="300" y="1447" width="31" height="21" fill="#8dfc84"/><rect x="330" y="1447" width="31" height="21" fill="#88fb87"/><rect x="360" y="1447" width="91" height="21" fill="#86fb88"/><rect x="450" y="1447" width="31" height="21" fill="#88fb87"/><rect x="480" y="1447" width="31" height="21" fill="#89fb86"/><rect x="510" y="1447" width="31" height="21" fill="#8bfb85"/><rect x="540" y="1447" width="31" height="21" fill="#8ffc82"/><rect x="570" y="1447" width="31" height="21" fill="#92fc80"/><rect x="600" y="1447" width="31" height="21" fill="#94fc80"/><rect x="630" y="1447" width="61" height="21" fill="#96fc80"/><rect x="690" y="1447" width="31" height="21" fill="#92fc80"/><rect x="720" y="1447" width="31" height="21" fill="#8ffc82"/><rect x="750" y="1447" width="31" height="21" fill="#8cfc84"/><rect x="780" y="1447" width="31" height="21" fill="#89fb86"/><rect x="810" y="1447" width="31" height="21" fill="#86fb88"/><rect x="840" y="1447" width="31" height="21" fill="#84fb89"/><rect x="870" y="1447" width="31" height="21" fill="#81fa8b"/><rect x="900" y="1447" width="31" height="21" fill="#80fa8d"/><rect x="930" y="1447" width="31" height="21" fill="#80fa8e"/><rect x="960" y="1447" width="211" height="21" fill="#80fa8f"/><rect x="-30" y="1467" width="121" height="21" fill="#89fb86"/><rect x="90" y="1467" width="31" height="21" fill="#8afb86"/><rect x="120" y="1467" width="31" height="21" fill="#8bfb85"/><rect x="150" y="1467" width="31" height="21" fill="#8dfc84"/><rect x="180" y="1467" width="31" height="21" fill="#8efc83"/><rect x="210" y="1467" width="31" height="21" fill="#8afb85"/><rect x="240" y="1467" width="31" height="21" fill="#85fb89"/><rect x="270" y="1467" width="31" height="21" fill="#80fa8d"/><rect x="300" y="1467" width="31" height="21" fill="#80f992"/><rect x="330" y="1467" width="31" height="21" fill="#80f897"/><rect x="360" y="1467" width="91" height="21" fill="#80f899"/><rect x="450" y="1467" width="31" height="21" fill="#80f898"/><rect x="480" y="1467" width="31" height="21" fill="#80f897"/><rect x="510" y="1467" width="31" height="21" fill="#80f996"/><rect x="540" y="1467" width="31" height="21" fill="#80f993"/><rect x="570" y="1467" width="31" height="21" fill="#80f991"/><rect x="600" y="1467" width="31" height="21" fill="#80fa8d"/><rect x="630" y="1467" width="31" height="21" fill="#84fb89"/><rect x="660" y="1467" width="31" height="21" fill="#88fb86"/><rect x="690" y="1467" width="31" height="21" fill="#86fb88"/><rect x="720" y="1467" width="31" height="21" fill="#84fb89"/><rect x="750" y="1467" width="31" height="21" fill="#82fa8b"/><rect x="780" y="1467" width="31" height="21" fill="#80fa8c"/><rect x="810" y="1467" width="31" height="21" fill="#80fa8d"/><rect x="840" y="1467" width="31" height="21" fill="#80fa8f"/><rect x="870" y="1467" width="31" height="21" fill="#80f990"/><rect x="900" y="1467" width="31" height="21" fill="#80f991"/><rect x="930" y="1467" width="241" height="21" fill="#80f992"/><rect x="-30" y="1487" width="61" height="21" fill="#88fb87"/><rect x="30" y="1487" width="31" height="21" fill="#88fb86"/><rect x="60" y="1487" width="31" height="21" fill="#89fb86"/><rect x="90" y="1487" width="31" height="21" fill="#8afb86"/><rect x="120" y="1487" width="31" height="21" fill="#8bfb85"/><rect x="150" y="1487" width="31" height="21" fill="#8dfc84"/><rect x="180" y="1487" width="31" height="21" fill="#8efc83"/><rect x="210" y="1487" width="31" height="21" fill="#8afb85"/><rect x="240" y="1487" width="31" height="21" fill="#85fb89"/><rect x="270" y="1487" width="31" height="21" fill="#80fa8d"/><rect x="300" y="1487" width="31" height="21" fill="#80f992"/><rect x="330" y="1487" width="31" height="21" fill="#80f897"/><rect x="360" y="1487" width="91" height="21" fill="#80f899"/><rect x="450" y="1487" width="31" height="21" fill="#80f898"/><rect x="480" y="1487" width="31" height="21" fill="#80f897"/><rect x="510" y="1487" width="31" height="21" fill="#80f996"/><rect x="540" y="1487" width="31" height="21" fill="#80f993"/><rect x="570" y="1487" width="31" height="21" fill="#80f991"/><rect x="600" y="1487" width="31" height="21" fill="#80fa8e"/><rect x="630" y="1487" width="31" height="21" fill="#81fa8b"/><rect x="660" y="1487" width="31" height="21" fill="#85fb89"/><rect x="690" y="1487" width="31" height="21" fill="#83fa8a"/><rect x="720" y="1487" width="31" height="21" fill="#81fa8b"/><rect x="750" y="1487" width="31" height="21" fill="#80fa8c"/><rect x="780" y="1487" width="31" height="21" fill="#80fa8d"/><rect x="810" y="1487" width="31" height="21" fill="#80fa8e"/><rect x="840" y="1487" width="31" height="21" fill="#80f990"/><rect x="870" y="1487" width="31" height="21" fill="#80f991"/><rect x="900" y="1487" width="271" height="21" fill="#80f992"/><rect x="-30" y="1507" width="61" height="21" fill="#88fb87"/><rect x="30" y="1507" width="31" height="21" fill="#89fb86"/><rect x="60" y="1507" width="31" height="21" fill="#8afb85"/><rect x="90" y="1507" width="31" height="21" fill="#8bfb85"/><rect x="120" y="1507" width="31" height="21" fill="#8dfc83"/><rect x="150" y="1507" width="31" height="21" fill="#8ffc82"/><rect x="180" y="1507" width="31" height="21" fill="#91fc81"/><rect x="210" y="1507" width="31" height="21" fill="#92fc81"/><rect x="240" y="1507" width="31" height="21" fill="#91fc81"/><rect x="270" y="1507" width="31" height="21" fill="#90fc81"/><rect x="300" y="1507" width="31" height="21" fill="#8dfc83"/><rect x="330" y="1507" width="31" height="21" fill="#8afb85"/><rect x="360" y="1507" width="91" height="21" fill="#89fb86"/><rect x="450" y="1507" width="31" height="21" fill="#8afb85"/><rect x="480" y="1507" width="31" height="21" fill="#8cfc84"/><rect x="510" y="1507" width="31" height="21" fill="#8efc83"/><rect x="540" y="1507" width="31" height="21" fill="#92fc81"/><rect x="570" y="1507" width="31" height="21" fill="#96fc80"/><rect x="600" y="1507" width="61" height="21" fill="#97fc80"/><rect x="660" y="1507" width="31" height="21" fill="#96fc80"/><rect x="690" y="1507" width="31" height="21" fill="#92fc81"/><rect x="720" y="1507" width="31" height="21" fill="#8efc83"/><rect x="750" y="1507" width="31" height="21" fill="#8afb85"/><rect x="780" y="1507" width="31" height="21" fill="#86fb88"/><rect x="810" y="1507" width="31" height="21" fill="#84fb89"/><rect x="840" y="1507" width="31" height="21" fill="#82fa8a"/><rect x="870" y="1507" width="31" height="21" fill="#80fa8c"/><rect x="900" y="1507" width="31" height="21" fill="#80fa8d"/><rect x="930" y="1507" width="61" height="21" fill="#80fa8e"/><rect x="990" y="1507" width="181" height="21" fill="#80fa8f"/><rect x="-30" y="1527" width="31" height="21" fill="#88fb86"/><rect x="0" y="1527" width="31" height="21" fill="#89fb86"/><rect x="30" y="1527" width="31" height="21" fill="#8afb85"/><rect x="60" y="1527" width="31" height="21" fill="#8cfc84"/><rect x="90" y="1527" width="31" height="21" fill="#8dfc83"/><rect x="120" y="1527" width="31" height="21" fill="#90fc82"/><rect x="150" y="1527" width="31" height="21" fill="#93fc80"/><rect x="180" y="1527" width="31" height="21" fill="#96fc80"/><rect x="210" y="1527" width="31" height="21" fill="#9bfc80"/><rect x="240" y="1527" width="31" height="21" fill="#a1fb80"/><rect x="270" y="1527" width="31" height="21" fill="#a6fb80"/><rect x="300" y="1527" width="31" height="21" fill="#a7fb80"/><rect x="330" y="1527" width="31" height="21" fill="#a8fb80"/><rect x="360" y="1527" width="31" height="21" fill="#a9fb80"/><rect x="390" y="1527" width="31" height="21" fill="#aafb80"/><rect x="420" y="1527" width="31" height="21" fill="#acfa80"/><rect x="450" y="1527" width="31" height="21" fill="#aefa80"/><rect x="480" y="1527" width="31" height="21" fill="#b1fa80"/><rect x="510" y="1527" width="31" height="21" fill="#b4fa80"/><rect x="540" y="1527" width="31" height="21" fill="#b6fb80"/><rect x="570" y="1527" width="31" height="21" fill="#b9fb80"/><rect x="600" y="1527" width="31" height="21" fill="#b6fb80"/><rect x="630" y="1527" width="31" height="21" fill="#b2fa80"/><rect x="660" y="1527" width="31" height="21" fill="#aefa80"/><rect x="690" y="1527" width="31" height="21" fill="#a6fb80"/><rect x="720" y="1527" width="31" height="21" fill="#9ffc80"/><rect x="750" y="1527" width="31" height="21" fill="#98fc80"/><rect x="780" y="1527" width="31" height="21" fill="#91fc81"/><rect x="810" y="1527" width="31" height="21" fill="#8efc83"/><rect x="840" y="1527" width="31" height="21" fill="#8bfb85"/><rect x="870" y="1527" width="31" height="21" fill="#88fb86"/><rect x="900" y="1527" width="31" height="21" fill="#86fb88"/><rect x="930" y="1527" width="31" height="21" fill="#84fb89"/><rect x="960" y="1527" width="31" height="21" fill="#82fa8a"/><rect x="990" y="1527" width="31" height="21" fill="#81fa8b"/><rect x="1020" y="1527" width="91" height="21" fill="#80fa8c"/><rect x="1110" y="1527" width="61" height="21" fill="#80fa8d"/><rect x="-30" y="1547" width="31" height="21" fill="#8afb86"/><rect x="0" y="1547" width="31" height="21" fill="#8afb85"/><rect x="30" y="1547" width="31" height="21" fill="#8cfc84"/><rect x="60" y="1547" width="31" height="21" fill="#8dfc83"/><rect x="90" y="1547" width="31" height="21" fill="#8ffc82"/><rect x="120" y="1547" width="31" height="21" fill="#92fc80"/><rect x="150" y="1547" width="31" height="21" fill="#95fc80"/><rect x="180" y="1547" width="31" height="21" fill="#9afc80"/><rect x="210" y="1547" width="31" height="21" fill="#a1fb80"/><rect x="240" y="1547" width="31" height="21" fill="#aafb80"/><rect x="270" y="1547" width="31" height="21" fill="#b2fa80"/><rect x="300" y="1547" width="31" height="21" fill="#b7fb80"/><rect x="330" y="1547" width="31" height="21" fill="#bdfc80"/><rect x="360" y="1547" width="31" height="21" fill="#c1fd80"/><rect x="390" y="1547" width="31" height="21" fill="#c3fd80"/><rect x="420" y="1547" width="31" height="21" fill="#c6fe80"/><rect x="450" y="1547" width="31" height="21" fill="#c9fe80"/><rect x="480" y="1547" width="31" height="21" fill="#cbff80"/><rect x="510" y="1547" width="31" height="21" fill="#cdff80"/><rect x="540" y="1547" width="31" height="21" fill="#ccff80"/><rect x="570" y="1547" width="31" height="21" fill="#cbff80"/><rect x="600" y="1547" width="31" height="21" fill="#c7fe80"/><rect x="630" y="1547" width="31" height="21" fill="#c2fd80"/><rect x="660" y="1547" width="31" height="21" fill="#bcfc80"/><rect x="690" y="1547" width="31" height="21" fill="#b5fb80"/><rect x="720" y="1547" width="31" height="21" fill="#aefa80"/><rect x="750" y="1547" width="31" height="21" fill="#a6fb80"/><rect x="780" y="1547" width="31" height="21" fill="#9efc80"/><rect x="810" y="1547" width="31" height="21" fill="#98fc80"/><rect x="840" y="1547" width="31" height="21" fill="#93fc80"/><rect x="870" y="1547" width="31" height="21" fill="#90fc82"/><rect x="900" y="1547" width="31" height="21" fill="#8cfc84"/><rect x="930" y="1547" width="31" height="21" fill="#8afb86"/><rect x="960" y="1547" width="31" height="21" fill="#88fb87"/><rect x="990" y="1547" width="31" height="21" fill="#86fb88"/><rect x="1020" y="1547" width="31" height="21" fill="#84fb89"/><rect x="1050" y="1547" width="31" height="21" fill="#82fa8a"/><rect x="1080" y="1547" width="31" height="21" fill="#81fa8b"/><rect x="1110" y="1547" width="31" height="21" fill="#80fa8b"/><rect x="1140" y="1547" width="31" height="21" fill="#80fa8c"/><rect x="-30" y="1567" width="31" height="21" fill="#8afb86"/><rect x="0" y="1567" width="31" height="21" fill="#8afb85"/><rect x="30" y="1567" width="31" height="21" fill="#8cfc84"/><rect x="60" y="1567" width="31" height="21" fill="#8dfc83"/><rect x="90" y="1567" width="31" height="21" fill="#8ffc82"/><rect x="120" y="1567" width="31" height="21" fill="#92fc80"/><rect x="150" y="1567" width="31" height="21" fill="#95fc80"/><rect x="180" y="1567" width="31" height="21" fill="#9afc80"/><rect x="210" y="1567" width="31" height="21" fill="#a1fb80"/><rect x="240" y="1567" width="31" height="21" fill="#aafb80"/><rect x="270" y="1567" width="31" height="21" fill="#b2fa80"/><rect x="300" y="1567" width="31" height="21" fill="#b7fb80"/><rect x="330" y="1567" width="31" height="21" fill="#bdfc80"/><rect x="360" y="1567" width="31" height="21" fill="#c1fd80"/><rect x="390" y="1567" width="31" height="21" fill="#c3fd80"/><rect x="420" y="1567" width="31" height="21" fill="#c6fe80"/><rect x="450" y="1567" width="31" height="21" fill="#c9fe80"/><rect x="480" y="1567" width="31" height="21" fill="#cbff80"/><rect x="510" y="1567" width="91" height="21" fill="#cdff80"/><rect x="600" y="1567" width="31" height="21" fill="#c9fe80"/><rect x="630" y="1567" width="31" height="21" fill="#c4fd80"/><rect x="660" y="1567" width="31" height="21" fill="#befc80"/><rect x="690" y="1567" width="31" height="21" fill="#b8fb80"/><rect x="720" y="1567" width="31" height="21" fill="#b2fa80"/><rect x="750" y="1567" width="31" height="21" fill="#abfb80"/><rect x="780" y="1567" width="31" height="21" fill="#a4fb80"/><rect x="810" y="1567" width="31" height="21" fill="#9efc80"/><rect x="840" y="1567" width="31" height="21" fill="#99fc80"/><rect x="870" y="1567" width="31" height="21" fill="#94fc80"/><rect x="900" y="1567" width="31" height="21" fill="#90fc82"/><rect x="930" y="1567" width="31" height="21" fill="#8dfc83"/><rect x="960" y="1567" width="31" height="21" fill="#8bfb85"/><rect x="990" y="1567" width="31" height="21" fill="#89fb86"/><rect x="1020" y="1567" width="31" height="21" fill="#86fb88"/><rect x="1050" y="1567" width="31" height="21" fill="#84fb89"/><rect x="1080" y="1567" width="31" height="21" fill="#83fa8a"/><rect x="1110" y="1567" width="31" height="21" fill="#82fa8a"/><rect x="1140" y="1567" width="31" height="21" fill="#82fa8b"/><rect x="-30" y="1587" width="31" height="21" fill="#8afb86"/><rect x="0" y="1587" width="31" height="21" fill="#8afb85"/><rect x="30" y="1587" width="31" height="21" fill="#8cfc84"/><rect x="60" y="1587" width="31" height="21" fill="#8dfc83"/><rect x="90" y="1587" width="31" height="21" fill="#8ffc82"/><rect x="120" y="1587" width="31" height="21" fill="#92fc80"/><rect x="150" y="1587" width="31" height="21" fill="#95fc80"/><rect x="180" y="1587" width="31" height="21" fill="#9afc80"/><rect x="210" y="1587" width="31" height="21" fill="#a1fb80"/><rect x="240" y="1587" width="31" height="21" fill="#aafb80"/><rect x="270" y="1587" width="31" height="21" fill="#b2fa80"/><rect x="300" y="1587" width="31" height="21" fill="#b7fb80"/><rect x="330" y="1587" width="31" height="21" fill="#bdfc80"/><rect x="360" y="1587" width="31" height="21" fill="#c1fd80"/><rect x="390" y="1587" width="31" height="21" fill="#c3fd80"/><rect x="420" y="1587" width="31" height="21" fill="#c6fe80"/><rect x="450" y="1587" width="31" height="21" fill="#c9fe80"/><rect x="480" y="1587" width="31" height="21" fill="#cbff80"/><rect x="510" y="1587" width="91" height="21" fill="#cdff80"/><rect x="600" y="1587" width="31" height="21" fill="#c9fe80"/><rect x="630" y="1587" width="31" height="21" fill="#c4fd80"/><rect x="660" y="1587" width="31" height="21" fill="#befc80"/><rect x="690" y="1587" width="31" height="21" fill="#b8fb80"/><rect x="720" y="1587" width="31" height="21" fill="#b2fa80"/><rect x="750" y="1587" width="31" height="21" fill="#abfb80"/><rect x="780" y="1587" width="31" height="21" fill="#a4fb80"/><rect x="810" y="1587" width="31" height="21" fill="#9efc80"/><rect x="840" y="1587" width="31" height="21" fill="#99fc80"/><rect x="870" y="1587" width="31" height="21" fill="#94fc80"/><rect x="900" y="1587" width="31" height="21" fill="#90fc82"/><rect x="930" y="1587" width="31" height="21" fill="#8dfc83"/><rect x="960" y="1587" width="31" height="21" fill="#8bfb85"/><rect x="990" y="1587" width="31" height="21" fill="#89fb86"/><rect x="1020" y="1587" width="31" height="21" fill="#86fb88"/><rect x="1050" y="1587" width="31" height="21" fill="#84fb89"/><rect x="1080" y="1587" width="31" height="21" fill="#83fa8a"/><rect x="1110" y="1587" width="31" height="21" fill="#82fa8a"/><rect x="1140" y="1587" width="31" height="21" fill="#82fa8b"/></g><g filter="url(#blur2)"></g></g>
<path d="M6.4,1369.2 L20.3,1369.2 L20.3,1366.4 L47.0,1366.4 L47.0,1364.6 L78.7,1364.6 L78.7,1362.1 L109.2,1362.1 L109.2,1359.8 L146.0,1359.8 L146.0,1357.0 L182.9,1357.0 L182.9,1354.2 L245.1,1354.2 L245.1,1351.4 L462.9,1351.4 L462.9,1349.4 L508.6,1349.4 L508.6,1351.4 L556.9,1351.4 L556.9,1353.2 L634.9,1353.2 L634.9,1351.4 L676.8,1351.4 L676.8,1353.2 L697.2,1353.2 L697.2,1355.7 L717.5,1355.7 L717.5,1358.3 L742.9,1358.3 L742.9,1360.8 L774.6,1360.8 L774.6,1363.3 L806.4,1363.3 L806.4,1365.9 L836.9,1365.9 L836.9,1368.9 L867.9,1368.9 L867.9,1371.0 L906.0,1371.0 L906.0,1373.5 L946.7,1373.5 L946.7,1376.5 L1034.3,1376.5 L1034.3,1379.9 L1123.2,1379.9 L1123.2,1382.4 L1134.6,1382.4 L1134.6,1385.0 L1138.0,1385.0" fill="none" stroke="#111" stroke-width="1.3"/>
<g clip-path="url(#cl3)" class="sl"><path d="M6.4,1545.0 C26.5,1546.0 87.4,1548.3 127.0,1550.8 C166.6,1553.3 215.0,1558.1 243.8,1560.2 C272.6,1562.3 280.4,1562.7 300.0,1563.5 C319.6,1564.3 331.6,1564.9 361.3,1565.3 C391.0,1565.7 438.6,1566.0 478.1,1566.0 C517.6,1566.0 558.6,1565.6 598.1,1565.3 C637.6,1565.0 676.0,1564.7 715.0,1564.0 C754.0,1563.3 792.3,1562.3 831.8,1561.0 C871.3,1559.7 912.3,1559.5 951.8,1556.4 C991.3,1553.3 1042.8,1547.1 1068.6,1542.4 C1094.4,1537.7 1095.3,1534.8 1106.7,1528.4 C1118.1,1522.1 1132.1,1508.3 1137.2,1504.3"/><path d="M6.4,1504.3 C25.6,1506.6 83.2,1513.3 121.9,1518.3 C160.6,1523.2 209.1,1529.5 238.8,1534.0 C268.5,1538.5 280.9,1542.1 300.0,1545.0 C319.1,1547.9 324.9,1549.9 353.7,1551.3 C382.5,1552.7 433.5,1553.7 473.0,1553.3 C512.5,1552.9 551.5,1550.3 590.5,1548.8 C629.5,1547.3 668.3,1546.8 707.3,1544.2 C746.2,1541.6 802.1,1535.2 824.2,1533.0 C846.3,1530.8 824.7,1534.3 840.0,1531.0 C855.3,1527.7 900.5,1518.3 916.2,1513.2 C931.9,1508.1 927.6,1506.4 934.0,1500.5 C940.4,1494.6 946.7,1484.4 954.3,1477.6 C961.9,1470.8 967.0,1465.6 979.7,1459.9 C992.4,1454.2 1004.2,1449.5 1030.5,1443.3 C1056.8,1437.1 1119.4,1426.4 1137.2,1423.0"/><path d="M6.4,1463.7 C24.0,1466.9 74.8,1476.8 111.8,1482.7 C148.8,1488.6 204.9,1495.4 228.6,1499.2 C252.3,1503.0 245.5,1503.1 254.0,1505.6 C262.5,1508.1 270.8,1510.6 279.4,1514.0 C288.0,1517.4 295.6,1522.2 305.4,1525.9 C315.2,1529.6 313.0,1533.8 338.4,1536.1 C363.8,1538.4 420.9,1540.5 457.8,1539.9 C494.7,1539.3 521.8,1536.5 560.0,1532.3 C598.2,1528.1 657.4,1519.4 687.0,1514.5 C716.6,1509.6 720.0,1510.2 737.8,1503.0 C755.6,1495.8 776.7,1479.3 793.7,1471.3 C810.7,1463.3 821.7,1460.9 840.0,1454.8 C858.3,1448.7 873.9,1442.3 903.5,1434.5 C933.1,1426.7 985.6,1416.7 1017.8,1407.8 C1050.0,1398.9 1083.4,1385.5 1096.5,1381.1"/><path d="M6.4,1411.6 C12.5,1413.3 18.0,1415.9 43.2,1421.8 C68.4,1427.7 126.6,1442.3 157.5,1447.2 C188.4,1452.1 208.2,1451.7 228.6,1451.0 C249.0,1450.3 263.0,1446.5 280.0,1443.3 C297.0,1440.1 312.2,1434.2 330.8,1431.9 C349.4,1429.6 362.2,1428.3 391.8,1429.4 C421.4,1430.5 484.9,1436.0 508.6,1438.3 C532.3,1440.6 525.4,1441.6 534.0,1443.3 C542.6,1445.0 544.7,1448.4 560.0,1448.4 C575.3,1448.4 596.0,1446.8 626.0,1443.3 C656.0,1439.8 701.8,1433.4 740.3,1427.3 C778.8,1421.2 827.2,1412.4 857.2,1406.5 C887.2,1400.6 900.4,1396.7 920.0,1392.0 C939.6,1387.3 965.5,1380.8 974.6,1378.6"/><path d="M20.3,1366.4 C29.6,1370.1 56.7,1382.4 76.2,1388.7 C95.7,1395.0 114.8,1399.3 137.2,1404.0 C159.6,1408.7 191.3,1414.4 210.8,1416.7 C230.3,1419.0 239.1,1418.2 254.0,1418.0 C268.9,1417.8 280.9,1416.4 300.0,1415.4 C319.1,1414.4 337.9,1412.5 368.9,1412.1 C399.8,1411.7 453.8,1412.6 485.7,1412.9 C517.5,1413.2 540.4,1414.0 560.0,1414.1 C579.6,1414.2 576.5,1416.1 603.2,1413.6 C629.9,1411.1 681.0,1405.2 720.0,1398.9 C759.0,1392.6 813.7,1380.4 836.9,1375.5 C860.1,1370.6 855.3,1370.7 859.0,1369.7"/><path d="M124.5,1359.8 C133.4,1362.5 159.2,1371.6 177.8,1376.0 C196.4,1380.4 215.8,1383.7 236.2,1386.2 C256.6,1388.8 280.4,1390.4 300.0,1391.3 C319.6,1392.2 325.3,1391.6 353.7,1391.8 C382.1,1392.0 436.1,1392.7 470.5,1392.6 C504.9,1392.5 540.4,1391.6 560.0,1391.3 C579.6,1391.0 563.8,1393.3 587.9,1390.8 C612.0,1388.3 673.7,1381.3 704.8,1376.5 C735.9,1371.7 763.0,1364.5 774.6,1362.1"/><path d="M194.3,1354.2 C204.2,1356.2 236.4,1362.9 254.0,1365.9 C271.6,1368.9 290.6,1371.2 300.0,1372.2 C309.4,1373.2 289.3,1371.4 310.5,1372.2 C331.7,1373.0 388.4,1376.5 427.3,1377.3 C466.2,1378.1 522.1,1376.9 544.2,1376.8 C566.3,1376.7 540.4,1378.2 560.0,1376.5 C579.6,1374.8 635.4,1369.7 661.6,1366.4 C687.9,1363.2 708.2,1358.6 717.5,1357.0"/><path d="M6.4,1432.0 C23.1,1435.8 71.4,1448.7 106.7,1455.0 C142.0,1461.3 193.8,1467.5 218.4,1470.0 C243.0,1472.5 244.6,1472.5 254.0,1470.0 C263.4,1467.5 269.0,1460.0 275.0,1455.0 C281.0,1450.0 279.0,1443.1 290.0,1440.2 C301.0,1437.3 323.9,1437.8 340.8,1437.6 C357.7,1437.4 370.4,1437.4 391.6,1438.9 C412.8,1440.4 451.3,1444.6 467.8,1446.5 C484.3,1448.4 485.2,1447.1 490.7,1450.3 C496.2,1453.5 497.4,1459.2 500.8,1465.6 C504.2,1471.9 507.2,1482.9 511.0,1488.4 C514.8,1493.9 516.1,1498.2 523.7,1498.6 C531.3,1499.0 545.7,1493.8 556.7,1491.0 C567.8,1488.2 570.8,1486.9 590.0,1482.1 C609.2,1477.3 640.0,1469.5 671.8,1462.4 C703.6,1455.3 749.6,1445.8 781.0,1439.5 C812.4,1433.2 841.7,1427.7 860.0,1424.3 C878.3,1420.9 866.6,1424.5 890.8,1419.0 C915.0,1413.5 977.6,1397.6 1005.0,1391.0 C1032.4,1384.4 1046.7,1381.4 1055.0,1379.5"/><path d="M6.4,1434.0 C23.1,1437.8 71.4,1450.2 106.7,1456.5 C142.0,1462.8 193.8,1468.9 218.4,1471.5 C243.0,1474.1 242.9,1473.6 254.0,1472.0 C265.1,1470.4 275.7,1465.3 285.0,1462.0 C294.3,1458.7 301.7,1454.0 310.0,1452.0 C318.3,1450.0 328.6,1449.7 335.0,1450.0 C341.4,1450.3 343.2,1451.5 348.4,1454.1 C353.6,1456.7 358.1,1461.8 366.2,1465.6 C374.2,1469.4 385.7,1473.2 396.7,1477.0 C407.7,1480.8 423.7,1485.0 432.2,1488.4 C440.7,1491.8 442.8,1494.7 447.5,1497.3 C452.2,1499.9 456.0,1501.9 460.2,1504.0 C464.4,1506.1 467.9,1508.0 472.9,1510.0 C477.9,1512.0 482.1,1514.5 490.0,1516.0 C497.9,1517.5 508.3,1519.5 520.0,1519.0 C531.7,1518.5 546.7,1514.7 560.0,1513.0 C573.3,1511.3 583.1,1513.8 600.0,1509.0 C616.9,1504.2 632.3,1494.0 661.6,1484.3 C690.9,1474.6 742.8,1460.2 775.9,1451.0 C809.0,1441.8 840.9,1433.7 860.0,1429.0 C879.1,1424.3 866.6,1428.6 890.8,1422.6 C915.0,1416.7 976.7,1400.5 1005.1,1393.3 C1033.5,1386.2 1051.7,1382.0 1061.0,1379.7"/><path d="M6.4,1436.0 C23.1,1439.7 71.4,1451.8 106.7,1458.0 C142.0,1464.2 193.8,1470.3 218.4,1473.0 C243.0,1475.7 242.1,1475.5 254.0,1474.0 C265.9,1472.5 277.3,1467.2 290.0,1464.0 C302.7,1460.8 315.0,1457.0 330.0,1455.0 C345.0,1453.0 366.8,1452.2 380.0,1452.0 C393.2,1451.8 404.1,1452.3 409.4,1454.1 C414.7,1455.9 408.9,1460.2 411.9,1463.0 C414.9,1465.8 421.7,1467.8 427.2,1470.6 C432.7,1473.3 439.8,1477.2 444.9,1479.5 C450.0,1481.8 454.2,1482.9 457.6,1484.6 C461.0,1486.3 461.1,1487.6 465.3,1489.7 C469.5,1491.8 478.4,1495.0 483.0,1497.3 C487.6,1499.6 490.2,1501.0 493.2,1503.7 C496.2,1506.5 497.4,1511.7 500.8,1513.8 C504.2,1515.9 506.1,1516.5 513.5,1516.4 C520.9,1516.3 535.6,1514.2 545.0,1513.0 C554.4,1511.8 560.8,1510.0 570.0,1509.0 C579.2,1508.0 584.7,1511.4 600.0,1507.0 C615.3,1502.6 632.3,1492.1 661.6,1482.5 C690.9,1473.0 742.8,1458.7 775.9,1449.6 C809.0,1440.6 840.9,1432.6 860.0,1428.0 C879.1,1423.4 866.6,1427.6 890.8,1421.8 C915.0,1415.9 976.7,1399.9 1005.1,1392.9 C1033.5,1385.8 1051.7,1381.7 1061.0,1379.5"/><path d="M6.4,1438.0 C23.1,1441.6 71.4,1453.4 106.7,1459.5 C142.0,1465.6 193.8,1471.8 218.4,1474.5 C243.0,1477.2 242.1,1476.8 254.0,1476.0 C265.9,1475.2 278.9,1470.5 290.0,1469.4 C301.1,1468.3 312.9,1469.0 320.5,1469.4 C328.1,1469.8 332.3,1470.6 335.7,1471.9 C339.1,1473.2 334.4,1474.2 340.8,1477.0 C347.2,1479.8 362.0,1485.0 373.8,1488.4 C385.6,1491.8 403.0,1494.8 411.9,1497.3 C420.8,1499.8 423.8,1501.0 427.2,1503.7 C430.6,1506.5 429.7,1510.9 432.2,1513.8 C434.7,1516.7 436.1,1519.5 442.4,1521.0 C448.7,1522.5 457.1,1522.8 470.0,1523.0 C482.9,1523.2 504.2,1523.2 520.0,1522.0 C535.8,1520.8 551.7,1518.8 565.0,1516.0 C578.3,1513.2 583.9,1510.9 600.0,1505.0 C616.1,1499.1 632.3,1490.2 661.6,1480.8 C690.9,1471.3 742.8,1457.3 775.9,1448.3 C809.0,1439.4 840.9,1431.6 860.0,1427.0 C879.1,1422.4 866.6,1426.6 890.8,1420.9 C915.0,1415.1 976.7,1399.4 1005.1,1392.4 C1033.5,1385.5 1051.7,1381.4 1061.0,1379.2"/><path d="M6.4,1440.0 C23.1,1443.5 71.4,1455.0 106.7,1461.0 C142.0,1467.0 193.8,1473.2 218.4,1476.0 C243.0,1478.8 242.1,1477.4 254.0,1478.0 C265.9,1478.6 281.5,1478.4 290.0,1479.5 C298.5,1480.6 297.6,1482.7 305.2,1484.6 C312.8,1486.5 324.3,1487.4 335.7,1491.0 C347.1,1494.6 367.0,1502.0 373.8,1506.2 C380.6,1510.4 373.4,1513.7 376.4,1516.4 C379.4,1519.2 382.3,1521.0 391.6,1522.7 C400.9,1524.4 417.5,1525.8 432.2,1526.5 C446.9,1527.2 463.7,1527.4 480.0,1527.0 C496.3,1526.6 515.0,1525.5 530.0,1524.0 C545.0,1522.5 558.3,1521.4 570.0,1518.0 C581.7,1514.6 584.7,1509.9 600.0,1503.5 C615.3,1497.1 632.3,1488.8 661.6,1479.4 C690.9,1470.1 742.8,1456.2 775.9,1447.3 C809.0,1438.5 840.9,1430.8 860.0,1426.2 C879.1,1421.7 866.6,1425.9 890.8,1420.2 C915.0,1414.5 976.7,1399.0 1005.1,1392.1 C1033.5,1385.2 1051.7,1381.2 1061.0,1379.1"/><path d="M6.4,1442.0 C23.1,1445.4 71.4,1456.6 106.7,1462.5 C142.0,1468.4 193.8,1474.6 218.4,1477.5 C243.0,1480.4 242.1,1477.8 254.0,1480.0 C265.9,1482.2 281.5,1487.3 290.0,1491.0 C298.5,1494.7 299.3,1499.9 305.2,1502.4 C311.1,1504.9 320.5,1504.7 325.6,1506.2 C330.7,1507.7 333.6,1509.2 335.7,1511.3 C337.8,1513.4 331.1,1516.6 338.3,1518.9 C345.5,1521.2 363.6,1523.6 378.9,1525.3 C394.2,1527.0 411.5,1528.2 430.0,1529.0 C448.5,1529.8 470.8,1530.5 490.0,1530.0 C509.2,1529.5 530.0,1527.8 545.0,1526.0 C560.0,1524.2 570.8,1523.0 580.0,1519.0 C589.2,1515.0 586.4,1508.8 600.0,1502.0 C613.6,1495.2 632.3,1487.4 661.6,1478.1 C690.9,1468.8 742.8,1455.1 775.9,1446.3 C809.0,1437.6 840.9,1430.0 860.0,1425.5 C879.1,1421.0 866.6,1425.2 890.8,1419.6 C915.0,1413.9 976.7,1398.6 1005.1,1391.8 C1033.5,1385.0 1051.7,1381.0 1061.0,1378.9"/><path d="M460.2,1489.7 C462.3,1491.0 468.2,1495.6 472.9,1497.3 C477.5,1499.0 483.5,1497.0 488.1,1499.8 C492.8,1502.5 497.0,1511.0 500.8,1513.8 C504.6,1516.6 503.8,1516.8 511.0,1516.4 C518.2,1516.0 530.8,1514.3 544.0,1511.3 C557.2,1508.3 574.0,1503.5 590.0,1498.6 C606.0,1493.7 621.7,1487.4 640.0,1482.0 C658.3,1476.6 690.0,1468.7 700.0,1466.0"/></g>
<g class="ar"><path d="M-10,-4.2 L0,0 L-10,4.2" transform="translate(46.4,1546.7) rotate(2.5)"/><path d="M-10,-4.2 L0,0 L-10,4.2" transform="translate(163.2,1553.5) rotate(4.6)"/><path d="M-10,-4.2 L0,0 L-10,4.2" transform="translate(279.8,1562.6) rotate(2.9)"/><path d="M-10,-4.2 L0,0 L-10,4.2" transform="translate(396.7,1565.7) rotate(0.4)"/><path d="M-10,-4.2 L0,0 L-10,4.2" transform="translate(513.7,1565.9) rotate(-0.3)"/><path d="M-10,-4.2 L0,0 L-10,4.2" transform="translate(630.7,1565.0) rotate(-0.5)"/><path d="M-10,-4.2 L0,0 L-10,4.2" transform="translate(747.7,1563.3) rotate(-1.3)"/><path d="M-10,-4.2 L0,0 L-10,4.2" transform="translate(864.7,1560.1) rotate(-1.4)"/><path d="M-10,-4.2 L0,0 L-10,4.2" transform="translate(981.5,1553.7) rotate(-5.6)"/><path d="M-10,-4.2 L0,0 L-10,4.2" transform="translate(1096.5,1534.4) rotate(-28.1)"/><path d="M-10,-4.2 L0,0 L-10,4.2" transform="translate(82.9,1513.5) rotate(6.9)"/><path d="M-10,-4.2 L0,0 L-10,4.2" transform="translate(198.9,1528.4) rotate(7.7)"/><path d="M-10,-4.2 L0,0 L-10,4.2" transform="translate(314.3,1547.3) rotate(9.5)"/><path d="M-10,-4.2 L0,0 L-10,4.2" transform="translate(431.1,1553.3) rotate(0.4)"/><path d="M-10,-4.2 L0,0 L-10,4.2" transform="translate(548.0,1550.7) rotate(-2.7)"/><path d="M-10,-4.2 L0,0 L-10,4.2" transform="translate(664.9,1546.4) rotate(-2.1)"/><path d="M-10,-4.2 L0,0 L-10,4.2" transform="translate(781.6,1537.5) rotate(-5.9)"/><path d="M-10,-4.2 L0,0 L-10,4.2" transform="translate(895.0,1518.8) rotate(-13.6)"/><path d="M-10,-4.2 L0,0 L-10,4.2" transform="translate(989.6,1455.7) rotate(-21.6)"/><path d="M-10,-4.2 L0,0 L-10,4.2" transform="translate(1103.3,1429.1) rotate(-10.2)"/><path d="M-10,-4.2 L0,0 L-10,4.2" transform="translate(118.6,1483.8) rotate(8.8)"/><path d="M-10,-4.2 L0,0 L-10,4.2" transform="translate(234.5,1500.2) rotate(10.1)"/><path d="M-10,-4.2 L0,0 L-10,4.2" transform="translate(344.7,1536.6) rotate(4.7)"/><path d="M-10,-4.2 L0,0 L-10,4.2" transform="translate(461.6,1539.8) rotate(-1.3)"/><path d="M-10,-4.2 L0,0 L-10,4.2" transform="translate(578.2,1530.2) rotate(-7.0)"/><path d="M-10,-4.2 L0,0 L-10,4.2" transform="translate(693.9,1513.4) rotate(-8.9)"/><path d="M-10,-4.2 L0,0 L-10,4.2" transform="translate(800.5,1468.3) rotate(-23.3)"/><path d="M-10,-4.2 L0,0 L-10,4.2" transform="translate(911.8,1432.4) rotate(-13.5)"/><path d="M-10,-4.2 L0,0 L-10,4.2" transform="translate(1025.7,1405.5) rotate(-16.0)"/><path d="M-10,-4.2 L0,0 L-10,4.2" transform="translate(153.2,1446.5) rotate(9.7)"/><path d="M-10,-4.2 L0,0 L-10,4.2" transform="translate(269.5,1445.4) rotate(-11.5)"/><path d="M-10,-4.2 L0,0 L-10,4.2" transform="translate(384.9,1429.2) rotate(1.8)"/><path d="M-10,-4.2 L0,0 L-10,4.2" transform="translate(501.6,1437.6) rotate(5.3)"/><path d="M-10,-4.2 L0,0 L-10,4.2" transform="translate(617.1,1444.3) rotate(-6.2)"/><path d="M-10,-4.2 L0,0 L-10,4.2" transform="translate(733.0,1428.4) rotate(-8.9)"/><path d="M-10,-4.2 L0,0 L-10,4.2" transform="translate(848.2,1408.2) rotate(-10.8)"/><path d="M-10,-4.2 L0,0 L-10,4.2" transform="translate(962.2,1381.7) rotate(-13.9)"/><path d="M-10,-4.2 L0,0 L-10,4.2" transform="translate(86.5,1391.9) rotate(16.0)"/><path d="M-10,-4.2 L0,0 L-10,4.2" transform="translate(201.1,1415.4) rotate(8.0)"/><path d="M-10,-4.2 L0,0 L-10,4.2" transform="translate(317.8,1414.3) rotate(-3.8)"/><path d="M-10,-4.2 L0,0 L-10,4.2" transform="translate(434.7,1412.3) rotate(0.6)"/><path d="M-10,-4.2 L0,0 L-10,4.2" transform="translate(551.7,1414.0) rotate(0.7)"/><path d="M-10,-4.2 L0,0 L-10,4.2" transform="translate(668.2,1406.3) rotate(-7.4)"/><path d="M-10,-4.2 L0,0 L-10,4.2" transform="translate(783.6,1386.8) rotate(-11.6)"/><path d="M-10,-4.2 L0,0 L-10,4.2" transform="translate(229.2,1385.3) rotate(7.7)"/><path d="M-10,-4.2 L0,0 L-10,4.2" transform="translate(345.9,1391.8) rotate(0.1)"/><path d="M-10,-4.2 L0,0 L-10,4.2" transform="translate(462.9,1392.6) rotate(-0.0)"/><path d="M-10,-4.2 L0,0 L-10,4.2" transform="translate(579.9,1391.6) rotate(-5.2)"/><path d="M-10,-4.2 L0,0 L-10,4.2" transform="translate(696.1,1377.8) rotate(-7.9)"/><path d="M-10,-4.2 L0,0 L-10,4.2" transform="translate(333.1,1373.3) rotate(3.0)"/><path d="M-10,-4.2 L0,0 L-10,4.2" transform="translate(450.0,1377.5) rotate(0.1)"/><path d="M-10,-4.2 L0,0 L-10,4.2" transform="translate(563.6,1376.2) rotate(-5.1)"/><path d="M-10,-4.2 L0,0 L-10,4.2" transform="translate(679.9,1363.8) rotate(-8.7)"/><path d="M-10,-4.2 L0,0 L-10,4.2" transform="translate(109.7,1455.5) rotate(9.8)"/><path d="M-10,-4.2 L0,0 L-10,4.2" transform="translate(225.7,1470.7) rotate(5.5)"/><path d="M-10,-4.2 L0,0 L-10,4.2" transform="translate(330.4,1437.7) rotate(-0.3)"/><path d="M-10,-4.2 L0,0 L-10,4.2" transform="translate(447.1,1444.2) rotate(6.2)"/><path d="M-10,-4.2 L0,0 L-10,4.2" transform="translate(535.5,1496.9) rotate(-13.5)"/><path d="M-10,-4.2 L0,0 L-10,4.2" transform="translate(648.8,1467.7) rotate(-13.2)"/><path d="M-10,-4.2 L0,0 L-10,4.2" transform="translate(763.2,1443.1) rotate(-11.6)"/><path d="M-10,-4.2 L0,0 L-10,4.2" transform="translate(878.2,1421.7) rotate(-10.0)"/><path d="M-10,-4.2 L0,0 L-10,4.2" transform="translate(991.9,1394.2) rotate(-13.8)"/><path d="M-10,-4.2 L0,0 L-10,4.2" transform="translate(109.8,1457.0) rotate(9.7)"/><path d="M-10,-4.2 L0,0 L-10,4.2" transform="translate(225.8,1472.3) rotate(5.6)"/><path d="M-10,-4.2 L0,0 L-10,4.2" transform="translate(338.9,1450.4) rotate(8.4)"/><path d="M-10,-4.2 L0,0 L-10,4.2" transform="translate(445.7,1496.2) rotate(32.7)"/><path d="M-10,-4.2 L0,0 L-10,4.2" transform="translate(557.7,1513.3) rotate(-7.8)"/><path d="M-10,-4.2 L0,0 L-10,4.2" transform="translate(669.1,1481.9) rotate(-17.9)"/><path d="M-10,-4.2 L0,0 L-10,4.2" transform="translate(781.5,1449.4) rotate(-15.5)"/><path d="M-10,-4.2 L0,0 L-10,4.2" transform="translate(895.1,1421.6) rotate(-14.0)"/><path d="M-10,-4.2 L0,0 L-10,4.2" transform="translate(1008.5,1392.5) rotate(-14.1)"/><path d="M-10,-4.2 L0,0 L-10,4.2" transform="translate(110.0,1458.5) rotate(9.6)"/><path d="M-10,-4.2 L0,0 L-10,4.2" transform="translate(225.9,1473.8) rotate(6.0)"/><path d="M-10,-4.2 L0,0 L-10,4.2" transform="translate(340.3,1453.9) rotate(-5.1)"/><path d="M-10,-4.2 L0,0 L-10,4.2" transform="translate(445.2,1479.6) rotate(24.1)"/><path d="M-10,-4.2 L0,0 L-10,4.2" transform="translate(550.4,1512.2) rotate(-9.4)"/><path d="M-10,-4.2 L0,0 L-10,4.2" transform="translate(662.1,1482.4) rotate(-17.7)"/><path d="M-10,-4.2 L0,0 L-10,4.2" transform="translate(774.5,1450.0) rotate(-15.4)"/><path d="M-10,-4.2 L0,0 L-10,4.2" transform="translate(888.2,1422.4) rotate(-13.4)"/><path d="M-10,-4.2 L0,0 L-10,4.2" transform="translate(1001.6,1393.8) rotate(-14.0)"/><path d="M-10,-4.2 L0,0 L-10,4.2" transform="translate(110.1,1460.1) rotate(9.4)"/><path d="M-10,-4.2 L0,0 L-10,4.2" transform="translate(226.0,1475.3) rotate(6.1)"/><path d="M-10,-4.2 L0,0 L-10,4.2" transform="translate(339.5,1476.4) rotate(25.5)"/><path d="M-10,-4.2 L0,0 L-10,4.2" transform="translate(443.0,1521.1) rotate(12.5)"/><path d="M-10,-4.2 L0,0 L-10,4.2" transform="translate(559.5,1517.1) rotate(-10.7)"/><path d="M-10,-4.2 L0,0 L-10,4.2" transform="translate(669.7,1478.2) rotate(-16.9)"/><path d="M-10,-4.2 L0,0 L-10,4.2" transform="translate(782.3,1446.6) rotate(-15.1)"/><path d="M-10,-4.2 L0,0 L-10,4.2" transform="translate(896.1,1419.6) rotate(-13.6)"/><path d="M-10,-4.2 L0,0 L-10,4.2" transform="translate(1009.6,1391.3) rotate(-13.7)"/><path d="M-10,-4.2 L0,0 L-10,4.2" transform="translate(110.2,1461.6) rotate(9.3)"/><path d="M-10,-4.2 L0,0 L-10,4.2" transform="translate(226.2,1476.8) rotate(5.7)"/><path d="M-10,-4.2 L0,0 L-10,4.2" transform="translate(341.2,1492.8) rotate(18.6)"/><path d="M-10,-4.2 L0,0 L-10,4.2" transform="translate(444.5,1527.0) rotate(1.5)"/><path d="M-10,-4.2 L0,0 L-10,4.2" transform="translate(561.2,1520.1) rotate(-11.7)"/><path d="M-10,-4.2 L0,0 L-10,4.2" transform="translate(669.6,1476.9) rotate(-16.8)"/><path d="M-10,-4.2 L0,0 L-10,4.2" transform="translate(782.3,1445.6) rotate(-14.9)"/><path d="M-10,-4.2 L0,0 L-10,4.2" transform="translate(896.2,1418.9) rotate(-13.4)"/><path d="M-10,-4.2 L0,0 L-10,4.2" transform="translate(1009.8,1391.0) rotate(-13.5)"/><path d="M-10,-4.2 L0,0 L-10,4.2" transform="translate(110.3,1463.1) rotate(9.2)"/><path d="M-10,-4.2 L0,0 L-10,4.2" transform="translate(226.3,1478.3) rotate(5.1)"/><path d="M-10,-4.2 L0,0 L-10,4.2" transform="translate(335.7,1511.4) rotate(56.9)"/><path d="M-10,-4.2 L0,0 L-10,4.2" transform="translate(444.8,1529.6) rotate(1.8)"/><path d="M-10,-4.2 L0,0 L-10,4.2" transform="translate(561.5,1523.8) rotate(-8.5)"/><path d="M-10,-4.2 L0,0 L-10,4.2" transform="translate(666.5,1476.6) rotate(-17.2)"/><path d="M-10,-4.2 L0,0 L-10,4.2" transform="translate(779.3,1445.5) rotate(-14.7)"/><path d="M-10,-4.2 L0,0 L-10,4.2" transform="translate(893.2,1419.0) rotate(-13.2)"/><path d="M-10,-4.2 L0,0 L-10,4.2" transform="translate(1006.9,1391.4) rotate(-13.4)"/><path d="M-10,-4.2 L0,0 L-10,4.2" transform="translate(503.8,1515.9) rotate(28.2)"/><path d="M-10,-4.2 L0,0 L-10,4.2" transform="translate(617.0,1489.5) rotate(-19.2)"/></g>
<rect x="303.6" y="1452.7" width="155.7" height="64.8" fill="none" stroke="#00aaff" stroke-width="3.6"/>
<text x="342.2" y="1344.3" class="tk" font-size="25">Net Cage</text>
<line x1="6" x2="1143" y1="1317.1" y2="1317.1" class="ax"/>
<line x1="6" x2="1143" y1="1577.1" y2="1577.1" class="ax"/>
<line x1="1137.4" x2="1137.4" y1="1317.1" y2="1577.1" class="ax"/>
<line x1="21.5" x2="21.5" y1="1317.1" y2="1577.1" stroke="#111" stroke-width="1.2"/>
<line x1="1137.3" x2="1137.3" y1="1385.5" y2="1575.9" stroke="#0a9a1a" stroke-width="2.6"/>
<line x1="1137.4" x2="1142.4" y1="1577.1" y2="1577.1" stroke="#111" stroke-width="1.3"/>
<line x1="1137.4" x2="1142.4" y1="1512.1" y2="1512.1" stroke="#111" stroke-width="1.3"/>
<line x1="1137.4" x2="1142.4" y1="1447.1" y2="1447.1" stroke="#111" stroke-width="1.3"/>
<line x1="1137.4" x2="1142.4" y1="1382.1" y2="1382.1" stroke="#111" stroke-width="1.3"/>
<line x1="1137.4" x2="1142.4" y1="1317.1" y2="1317.1" stroke="#111" stroke-width="1.3"/>
<text x="1143.5" y="1585.6" class="tk" font-size="25">0</text>
<text x="1143.5" y="1520.6" class="tk" font-size="25">0.5</text>
<text x="1143.5" y="1455.6" class="tk" font-size="25">1</text>
<text x="1143.5" y="1390.6" class="tk" font-size="25">1.5</text>
<text x="1143.5" y="1325.6" class="tk" font-size="25">2</text>
<line x1="21.5" x2="21.5" y1="1577.1" y2="1582.1" stroke="#111" stroke-width="1.5"/>
<text x="22.5" y="1603.1" class="tk" text-anchor="middle" font-size="25">0.5</text>
<line x1="151.3" x2="151.3" y1="1577.1" y2="1582.1" stroke="#111" stroke-width="1.5"/>
<text x="152.3" y="1603.1" class="tk" text-anchor="middle" font-size="25">1</text>
<line x1="281.1" x2="281.1" y1="1577.1" y2="1582.1" stroke="#111" stroke-width="1.5"/>
<text x="282.1" y="1603.1" class="tk" text-anchor="middle" font-size="25">1.5</text>
<line x1="410.9" x2="410.9" y1="1577.1" y2="1582.1" stroke="#111" stroke-width="1.5"/>
<text x="411.9" y="1603.1" class="tk" text-anchor="middle" font-size="25">2</text>
<line x1="540.7" x2="540.7" y1="1577.1" y2="1582.1" stroke="#111" stroke-width="1.5"/>
<text x="541.7" y="1603.1" class="tk" text-anchor="middle" font-size="25">2.5</text>
<line x1="670.5" x2="670.5" y1="1577.1" y2="1582.1" stroke="#111" stroke-width="1.5"/>
<text x="671.5" y="1603.1" class="tk" text-anchor="middle" font-size="25">3</text>
<line x1="800.3" x2="800.3" y1="1577.1" y2="1582.1" stroke="#111" stroke-width="1.5"/>
<text x="801.3" y="1603.1" class="tk" text-anchor="middle" font-size="25">3.5</text>
<line x1="930.1" x2="930.1" y1="1577.1" y2="1582.1" stroke="#111" stroke-width="1.5"/>
<text x="931.1" y="1603.1" class="tk" text-anchor="middle" font-size="25">4</text>
<line x1="1059.9" x2="1059.9" y1="1577.1" y2="1582.1" stroke="#111" stroke-width="1.5"/>
<text x="1060.9" y="1603.1" class="tk" text-anchor="middle" font-size="25">4.5</text>
<text x="1129.5" y="1603.1" class="tk" text-anchor="middle" font-size="25">4.8</text>
<text x="592" y="1618.4" class="it" font-size="25.5">x</text>
<text x="607" y="1618.4" class="tk" font-size="25.5">/m</text>
<text x="5.9" y="1666.8" class="lab">E</text>
<text x="322" y="1656.8" class="it" font-size="25">u</text>
<rect x="353" y="1632" width="436" height="31" fill="url(#cbg)"/>
<line x1="373.50" x2="373.50" y1="1632" y2="1663" class="div"/>
<line x1="413.05" x2="413.05" y1="1632" y2="1663" class="div"/>
<line x1="452.60" x2="452.60" y1="1632" y2="1663" class="div"/>
<line x1="492.15" x2="492.15" y1="1632" y2="1663" class="div"/>
<line x1="531.70" x2="531.70" y1="1632" y2="1663" class="div"/>
<line x1="571.25" x2="571.25" y1="1632" y2="1663" class="div"/>
<line x1="610.80" x2="610.80" y1="1632" y2="1663" class="div"/>
<line x1="650.35" x2="650.35" y1="1632" y2="1663" class="div"/>
<line x1="689.90" x2="689.90" y1="1632" y2="1663" class="div"/>
<line x1="729.45" x2="729.45" y1="1632" y2="1663" class="div"/>
<line x1="769.00" x2="769.00" y1="1632" y2="1663" class="div"/>
<rect x="353" y="1632" width="436" height="31" fill="none" stroke="#111" stroke-width="1.6"/>
<text x="373.50" y="1695.2" class="tk" text-anchor="middle" font-size="21">0</text>
<text x="413.05" y="1695.2" class="tk" text-anchor="middle" font-size="21">0.2</text>
<text x="452.60" y="1695.2" class="tk" text-anchor="middle" font-size="21">0.4</text>
<text x="492.15" y="1695.2" class="tk" text-anchor="middle" font-size="21">0.6</text>
<text x="531.70" y="1695.2" class="tk" text-anchor="middle" font-size="21">0.8</text>
<text x="571.25" y="1695.2" class="tk" text-anchor="middle" font-size="21">1</text>
<text x="610.80" y="1695.2" class="tk" text-anchor="middle" font-size="21">1.2</text>
<text x="650.35" y="1695.2" class="tk" text-anchor="middle" font-size="21">1.4</text>
<text x="689.90" y="1695.2" class="tk" text-anchor="middle" font-size="21">1.6</text>
<text x="729.45" y="1695.2" class="tk" text-anchor="middle" font-size="21">1.8</text>
<text x="769.00" y="1695.2" class="tk" text-anchor="middle" font-size="21">2</text>
<text x="792.3" y="1691.8" class="tk" font-size="25">(</text>
<text x="801.6" y="1691.8" class="tk" font-size="25">m</text>
<text x="829.5" y="1691.8" class="tk" font-size="25" text-anchor="middle">&#183;</text>
<text x="838.4" y="1691.8" class="tk" font-size="25">s</text>
<text x="850.5" y="1680.8" class="tk" font-size="14">-</text>
<text x="855.1" y="1680.8" class="tk" font-size="14">1</text>
<text x="864.8" y="1691.8" class="tk" font-size="25">)</text>
<text x="145.3" y="1680.4" class="it" font-size="26.5">d</text>
<text x="162" y="1680.4" class="tk" font-size="26.5">=</text>
<text transform="translate(176.3,1680.4) scale(0.985,1)" class="tk" font-size="26.5">0.8m</text>
<text x="1115.1" y="1690.9" class="it" font-size="25.5">z</text>
<text x="1129.1" y="1690.9" class="tk" font-size="25.5">/m</text>
<clipPath id="cl4"><path d="M6.5,1967.8 L6.4,1760.5 L26.7,1760.5 L26.7,1757.9 L53.3,1757.9 L53.3,1755.4 L83.8,1755.4 L83.8,1752.8 L120.6,1752.8 L120.6,1750.3 L152.4,1750.3 L152.4,1747.5 L199.4,1747.5 L199.4,1744.5 L255.3,1744.5 L255.3,1742.4 L432.4,1742.4 L432.4,1740.1 L509.9,1740.1 L509.9,1741.9 L563.2,1741.9 L563.2,1743.7 L646.4,1743.7 L646.4,1739.9 L668.0,1739.9 L668.0,1741.9 L693.4,1741.9 L693.4,1743.7 L723.8,1743.7 L723.8,1746.5 L755.6,1746.5 L755.6,1748.8 L786.1,1748.8 L786.1,1751.6 L807.7,1751.6 L807.7,1753.3 L834.3,1753.3 L834.3,1756.4 L860.3,1756.4 L860.3,1759.7 L890.8,1759.7 L890.8,1762.2 L927.6,1762.2 L927.6,1764.3 L987.3,1764.3 L987.3,1767.3 L1073.7,1767.3 L1073.7,1770.6 L1129.6,1770.6 L1129.6,1772.4 L1135.9,1772.4 L1135.9,1776.2 L1138.0,1776.2 L1138,1967.8 Z"/></clipPath>
<g clip-path="url(#cl4)"><g filter="url(#blur)"><rect x="-30" y="1698" width="31" height="21" fill="#8efc83"/><rect x="0" y="1698" width="31" height="21" fill="#8ffc82"/><rect x="30" y="1698" width="31" height="21" fill="#91fc81"/><rect x="60" y="1698" width="31" height="21" fill="#94fc80"/><rect x="90" y="1698" width="31" height="21" fill="#98fc80"/><rect x="120" y="1698" width="31" height="21" fill="#9dfc80"/><rect x="150" y="1698" width="31" height="21" fill="#a3fb80"/><rect x="180" y="1698" width="31" height="21" fill="#a8fb80"/><rect x="210" y="1698" width="31" height="21" fill="#b0fa80"/><rect x="240" y="1698" width="31" height="21" fill="#b8fb80"/><rect x="270" y="1698" width="31" height="21" fill="#c0fd80"/><rect x="300" y="1698" width="31" height="21" fill="#c8fe80"/><rect x="330" y="1698" width="31" height="21" fill="#d0ff80"/><rect x="360" y="1698" width="31" height="21" fill="#d7ff80"/><rect x="390" y="1698" width="31" height="21" fill="#deff80"/><rect x="420" y="1698" width="31" height="21" fill="#e6ff80"/><rect x="450" y="1698" width="31" height="21" fill="#ecff80"/><rect x="480" y="1698" width="31" height="21" fill="#f3ff80"/><rect x="510" y="1698" width="91" height="21" fill="#f7ff80"/><rect x="600" y="1698" width="31" height="21" fill="#f4ff80"/><rect x="630" y="1698" width="31" height="21" fill="#efff80"/><rect x="660" y="1698" width="31" height="21" fill="#eaff80"/><rect x="690" y="1698" width="31" height="21" fill="#e2ff80"/><rect x="720" y="1698" width="31" height="21" fill="#daff80"/><rect x="750" y="1698" width="31" height="21" fill="#d1ff80"/><rect x="780" y="1698" width="31" height="21" fill="#c8fe80"/><rect x="810" y="1698" width="31" height="21" fill="#c0fd80"/><rect x="840" y="1698" width="31" height="21" fill="#b9fb80"/><rect x="870" y="1698" width="31" height="21" fill="#b1fa80"/><rect x="900" y="1698" width="31" height="21" fill="#aafb80"/><rect x="930" y="1698" width="31" height="21" fill="#a3fb80"/><rect x="960" y="1698" width="31" height="21" fill="#9dfc80"/><rect x="990" y="1698" width="31" height="21" fill="#97fc80"/><rect x="1020" y="1698" width="31" height="21" fill="#92fc81"/><rect x="1050" y="1698" width="31" height="21" fill="#8efc83"/><rect x="1080" y="1698" width="31" height="21" fill="#8cfc84"/><rect x="1110" y="1698" width="31" height="21" fill="#8afb85"/><rect x="1140" y="1698" width="31" height="21" fill="#8afb86"/><rect x="-30" y="1718" width="31" height="21" fill="#8efc83"/><rect x="0" y="1718" width="31" height="21" fill="#8ffc82"/><rect x="30" y="1718" width="31" height="21" fill="#91fc81"/><rect x="60" y="1718" width="31" height="21" fill="#94fc80"/><rect x="90" y="1718" width="31" height="21" fill="#98fc80"/><rect x="120" y="1718" width="31" height="21" fill="#9dfc80"/><rect x="150" y="1718" width="31" height="21" fill="#a3fb80"/><rect x="180" y="1718" width="31" height="21" fill="#a8fb80"/><rect x="210" y="1718" width="31" height="21" fill="#b0fa80"/><rect x="240" y="1718" width="31" height="21" fill="#b8fb80"/><rect x="270" y="1718" width="31" height="21" fill="#c0fd80"/><rect x="300" y="1718" width="31" height="21" fill="#c8fe80"/><rect x="330" y="1718" width="31" height="21" fill="#d0ff80"/><rect x="360" y="1718" width="31" height="21" fill="#d7ff80"/><rect x="390" y="1718" width="31" height="21" fill="#deff80"/><rect x="420" y="1718" width="31" height="21" fill="#e6ff80"/><rect x="450" y="1718" width="31" height="21" fill="#ecff80"/><rect x="480" y="1718" width="31" height="21" fill="#f3ff80"/><rect x="510" y="1718" width="91" height="21" fill="#f7ff80"/><rect x="600" y="1718" width="31" height="21" fill="#f4ff80"/><rect x="630" y="1718" width="31" height="21" fill="#efff80"/><rect x="660" y="1718" width="31" height="21" fill="#eaff80"/><rect x="690" y="1718" width="31" height="21" fill="#e2ff80"/><rect x="720" y="1718" width="31" height="21" fill="#daff80"/><rect x="750" y="1718" width="31" height="21" fill="#d1ff80"/><rect x="780" y="1718" width="31" height="21" fill="#c8fe80"/><rect x="810" y="1718" width="31" height="21" fill="#c0fd80"/><rect x="840" y="1718" width="31" height="21" fill="#b9fb80"/><rect x="870" y="1718" width="31" height="21" fill="#b1fa80"/><rect x="900" y="1718" width="31" height="21" fill="#aafb80"/><rect x="930" y="1718" width="31" height="21" fill="#a3fb80"/><rect x="960" y="1718" width="31" height="21" fill="#9dfc80"/><rect x="990" y="1718" width="31" height="21" fill="#97fc80"/><rect x="1020" y="1718" width="31" height="21" fill="#92fc81"/><rect x="1050" y="1718" width="31" height="21" fill="#8efc83"/><rect x="1080" y="1718" width="31" height="21" fill="#8cfc84"/><rect x="1110" y="1718" width="31" height="21" fill="#8afb85"/><rect x="1140" y="1718" width="31" height="21" fill="#8afb86"/><rect x="-30" y="1738" width="31" height="21" fill="#8efc83"/><rect x="0" y="1738" width="31" height="21" fill="#8ffc82"/><rect x="30" y="1738" width="31" height="21" fill="#91fc81"/><rect x="60" y="1738" width="31" height="21" fill="#94fc80"/><rect x="90" y="1738" width="31" height="21" fill="#98fc80"/><rect x="120" y="1738" width="31" height="21" fill="#9dfc80"/><rect x="150" y="1738" width="31" height="21" fill="#a3fb80"/><rect x="180" y="1738" width="31" height="21" fill="#a8fb80"/><rect x="210" y="1738" width="31" height="21" fill="#b0fa80"/><rect x="240" y="1738" width="31" height="21" fill="#b8fb80"/><rect x="270" y="1738" width="31" height="21" fill="#c0fd80"/><rect x="300" y="1738" width="31" height="21" fill="#c8fe80"/><rect x="330" y="1738" width="31" height="21" fill="#d0ff80"/><rect x="360" y="1738" width="31" height="21" fill="#d7ff80"/><rect x="390" y="1738" width="31" height="21" fill="#deff80"/><rect x="420" y="1738" width="31" height="21" fill="#e6ff80"/><rect x="450" y="1738" width="31" height="21" fill="#ecff80"/><rect x="480" y="1738" width="31" height="21" fill="#f3ff80"/><rect x="510" y="1738" width="91" height="21" fill="#f7ff80"/><rect x="600" y="1738" width="31" height="21" fill="#f4ff80"/><rect x="630" y="1738" width="31" height="21" fill="#efff80"/><rect x="660" y="1738" width="31" height="21" fill="#eaff80"/><rect x="690" y="1738" width="31" height="21" fill="#e2ff80"/><rect x="720" y="1738" width="31" height="21" fill="#daff80"/><rect x="750" y="1738" width="31" height="21" fill="#d1ff80"/><rect x="780" y="1738" width="31" height="21" fill="#c8fe80"/><rect x="810" y="1738" width="31" height="21" fill="#c0fd80"/><rect x="840" y="1738" width="31" height="21" fill="#b9fb80"/><rect x="870" y="1738" width="31" height="21" fill="#b1fa80"/><rect x="900" y="1738" width="31" height="21" fill="#aafb80"/><rect x="930" y="1738" width="31" height="21" fill="#a3fb80"/><rect x="960" y="1738" width="31" height="21" fill="#9dfc80"/><rect x="990" y="1738" width="31" height="21" fill="#97fc80"/><rect x="1020" y="1738" width="31" height="21" fill="#92fc81"/><rect x="1050" y="1738" width="31" height="21" fill="#8efc83"/><rect x="1080" y="1738" width="31" height="21" fill="#8cfc84"/><rect x="1110" y="1738" width="31" height="21" fill="#8afb85"/><rect x="1140" y="1738" width="31" height="21" fill="#8afb86"/><rect x="-30" y="1758" width="31" height="21" fill="#8efc83"/><rect x="0" y="1758" width="31" height="21" fill="#8ffc82"/><rect x="30" y="1758" width="31" height="21" fill="#91fc81"/><rect x="60" y="1758" width="31" height="21" fill="#94fc80"/><rect x="90" y="1758" width="31" height="21" fill="#98fc80"/><rect x="120" y="1758" width="31" height="21" fill="#9dfc80"/><rect x="150" y="1758" width="31" height="21" fill="#a3fb80"/><rect x="180" y="1758" width="31" height="21" fill="#a8fb80"/><rect x="210" y="1758" width="31" height="21" fill="#b0fa80"/><rect x="240" y="1758" width="31" height="21" fill="#b8fb80"/><rect x="270" y="1758" width="31" height="21" fill="#c0fd80"/><rect x="300" y="1758" width="31" height="21" fill="#c8fe80"/><rect x="330" y="1758" width="31" height="21" fill="#d0ff80"/><rect x="360" y="1758" width="31" height="21" fill="#d7ff80"/><rect x="390" y="1758" width="31" height="21" fill="#ddff80"/><rect x="420" y="1758" width="31" height="21" fill="#e4ff80"/><rect x="450" y="1758" width="31" height="21" fill="#eaff80"/><rect x="480" y="1758" width="31" height="21" fill="#f1ff80"/><rect x="510" y="1758" width="91" height="21" fill="#f5ff80"/><rect x="600" y="1758" width="31" height="21" fill="#f2ff80"/><rect x="630" y="1758" width="31" height="21" fill="#eeff80"/><rect x="660" y="1758" width="31" height="21" fill="#e9ff80"/><rect x="690" y="1758" width="31" height="21" fill="#e1ff80"/><rect x="720" y="1758" width="31" height="21" fill="#d8ff80"/><rect x="750" y="1758" width="31" height="21" fill="#d0ff80"/><rect x="780" y="1758" width="31" height="21" fill="#c7fe80"/><rect x="810" y="1758" width="31" height="21" fill="#bffc80"/><rect x="840" y="1758" width="31" height="21" fill="#b8fb80"/><rect x="870" y="1758" width="31" height="21" fill="#b0fa80"/><rect x="900" y="1758" width="31" height="21" fill="#a9fb80"/><rect x="930" y="1758" width="31" height="21" fill="#a2fb80"/><rect x="960" y="1758" width="31" height="21" fill="#9cfc80"/><rect x="990" y="1758" width="31" height="21" fill="#96fc80"/><rect x="1020" y="1758" width="31" height="21" fill="#91fc81"/><rect x="1050" y="1758" width="31" height="21" fill="#8dfc83"/><rect x="1080" y="1758" width="31" height="21" fill="#8bfb85"/><rect x="1110" y="1758" width="31" height="21" fill="#8afb86"/><rect x="1140" y="1758" width="31" height="21" fill="#89fb86"/><rect x="-30" y="1778" width="31" height="21" fill="#8efc83"/><rect x="0" y="1778" width="31" height="21" fill="#8ffc82"/><rect x="30" y="1778" width="31" height="21" fill="#91fc81"/><rect x="60" y="1778" width="31" height="21" fill="#94fc80"/><rect x="90" y="1778" width="31" height="21" fill="#98fc80"/><rect x="120" y="1778" width="31" height="21" fill="#9dfc80"/><rect x="150" y="1778" width="31" height="21" fill="#a3fb80"/><rect x="180" y="1778" width="31" height="21" fill="#a8fb80"/><rect x="210" y="1778" width="31" height="21" fill="#b0fa80"/><rect x="240" y="1778" width="31" height="21" fill="#b8fb80"/><rect x="270" y="1778" width="31" height="21" fill="#c0fd80"/><rect x="300" y="1778" width="31" height="21" fill="#c8fe80"/><rect x="330" y="1778" width="31" height="21" fill="#cfff80"/><rect x="360" y="1778" width="31" height="21" fill="#d5ff80"/><rect x="390" y="1778" width="31" height="21" fill="#daff80"/><rect x="420" y="1778" width="31" height="21" fill="#dfff80"/><rect x="450" y="1778" width="31" height="21" fill="#e6ff80"/><rect x="480" y="1778" width="31" height="21" fill="#ecff80"/><rect x="510" y="1778" width="91" height="21" fill="#f0ff80"/><rect x="600" y="1778" width="31" height="21" fill="#edff80"/><rect x="630" y="1778" width="31" height="21" fill="#e9ff80"/><rect x="660" y="1778" width="31" height="21" fill="#e4ff80"/><rect x="690" y="1778" width="31" height="21" fill="#dcff80"/><rect x="720" y="1778" width="31" height="21" fill="#d4ff80"/><rect x="750" y="1778" width="31" height="21" fill="#ccff80"/><rect x="780" y="1778" width="31" height="21" fill="#c3fd80"/><rect x="810" y="1778" width="31" height="21" fill="#bcfc80"/><rect x="840" y="1778" width="31" height="21" fill="#b5fb80"/><rect x="870" y="1778" width="31" height="21" fill="#adfa80"/><rect x="900" y="1778" width="31" height="21" fill="#a6fb80"/><rect x="930" y="1778" width="31" height="21" fill="#9ffc80"/><rect x="960" y="1778" width="31" height="21" fill="#99fc80"/><rect x="990" y="1778" width="31" height="21" fill="#93fc80"/><rect x="1020" y="1778" width="31" height="21" fill="#8ffc82"/><rect x="1050" y="1778" width="31" height="21" fill="#8bfb85"/><rect x="1080" y="1778" width="31" height="21" fill="#8afb86"/><rect x="1110" y="1778" width="31" height="21" fill="#88fb87"/><rect x="1140" y="1778" width="31" height="21" fill="#87fb87"/><rect x="-30" y="1798" width="31" height="21" fill="#8efc83"/><rect x="0" y="1798" width="31" height="21" fill="#8ffc82"/><rect x="30" y="1798" width="31" height="21" fill="#91fc81"/><rect x="60" y="1798" width="31" height="21" fill="#94fc80"/><rect x="90" y="1798" width="31" height="21" fill="#98fc80"/><rect x="120" y="1798" width="31" height="21" fill="#9dfc80"/><rect x="150" y="1798" width="31" height="21" fill="#a3fb80"/><rect x="180" y="1798" width="31" height="21" fill="#a8fb80"/><rect x="210" y="1798" width="31" height="21" fill="#b0fa80"/><rect x="240" y="1798" width="31" height="21" fill="#b8fb80"/><rect x="270" y="1798" width="31" height="21" fill="#c0fd80"/><rect x="300" y="1798" width="31" height="21" fill="#c6fe80"/><rect x="330" y="1798" width="31" height="21" fill="#cbff80"/><rect x="360" y="1798" width="31" height="21" fill="#d1ff80"/><rect x="390" y="1798" width="31" height="21" fill="#d5ff80"/><rect x="420" y="1798" width="31" height="21" fill="#daff80"/><rect x="450" y="1798" width="31" height="21" fill="#dfff80"/><rect x="480" y="1798" width="31" height="21" fill="#e5ff80"/><rect x="510" y="1798" width="91" height="21" fill="#e8ff80"/><rect x="600" y="1798" width="31" height="21" fill="#e4ff80"/><rect x="630" y="1798" width="31" height="21" fill="#e0ff80"/><rect x="660" y="1798" width="31" height="21" fill="#daff80"/><rect x="690" y="1798" width="31" height="21" fill="#d3ff80"/><rect x="720" y="1798" width="31" height="21" fill="#cbff80"/><rect x="750" y="1798" width="31" height="21" fill="#c3fd80"/><rect x="780" y="1798" width="31" height="21" fill="#bbfc80"/><rect x="810" y="1798" width="31" height="21" fill="#b5fb80"/><rect x="840" y="1798" width="31" height="21" fill="#aefa80"/><rect x="870" y="1798" width="31" height="21" fill="#a7fb80"/><rect x="900" y="1798" width="31" height="21" fill="#a0fb80"/><rect x="930" y="1798" width="31" height="21" fill="#99fc80"/><rect x="960" y="1798" width="31" height="21" fill="#94fc80"/><rect x="990" y="1798" width="31" height="21" fill="#90fc81"/><rect x="1020" y="1798" width="31" height="21" fill="#8dfc84"/><rect x="1050" y="1798" width="31" height="21" fill="#89fb86"/><rect x="1080" y="1798" width="31" height="21" fill="#88fb87"/><rect x="1110" y="1798" width="31" height="21" fill="#86fb88"/><rect x="1140" y="1798" width="31" height="21" fill="#85fb89"/><rect x="-30" y="1818" width="31" height="21" fill="#8dfc84"/><rect x="0" y="1818" width="31" height="21" fill="#8dfc83"/><rect x="30" y="1818" width="31" height="21" fill="#90fc82"/><rect x="60" y="1818" width="31" height="21" fill="#92fc80"/><rect x="90" y="1818" width="31" height="21" fill="#96fc80"/><rect x="120" y="1818" width="31" height="21" fill="#9bfc80"/><rect x="150" y="1818" width="31" height="21" fill="#a0fb80"/><rect x="180" y="1818" width="31" height="21" fill="#a6fb80"/><rect x="210" y="1818" width="31" height="21" fill="#adfa80"/><rect x="240" y="1818" width="31" height="21" fill="#b5fb80"/><rect x="270" y="1818" width="31" height="21" fill="#bcfc80"/><rect x="300" y="1818" width="31" height="21" fill="#c1fd80"/><rect x="330" y="1818" width="31" height="21" fill="#c6fe80"/><rect x="360" y="1818" width="31" height="21" fill="#cbff80"/><rect x="390" y="1818" width="31" height="21" fill="#ceff80"/><rect x="420" y="1818" width="31" height="21" fill="#d2ff80"/><rect x="450" y="1818" width="31" height="21" fill="#d5ff80"/><rect x="480" y="1818" width="31" height="21" fill="#d8ff80"/><rect x="510" y="1818" width="91" height="21" fill="#daff80"/><rect x="600" y="1818" width="31" height="21" fill="#d7ff80"/><rect x="630" y="1818" width="31" height="21" fill="#d2ff80"/><rect x="660" y="1818" width="31" height="21" fill="#cdff80"/><rect x="690" y="1818" width="31" height="21" fill="#c6fe80"/><rect x="720" y="1818" width="31" height="21" fill="#bffc80"/><rect x="750" y="1818" width="31" height="21" fill="#b8fb80"/><rect x="780" y="1818" width="31" height="21" fill="#b1fa80"/><rect x="810" y="1818" width="31" height="21" fill="#aafb80"/><rect x="840" y="1818" width="31" height="21" fill="#a3fb80"/><rect x="870" y="1818" width="31" height="21" fill="#9cfc80"/><rect x="900" y="1818" width="31" height="21" fill="#95fc80"/><rect x="930" y="1818" width="31" height="21" fill="#91fc81"/><rect x="960" y="1818" width="31" height="21" fill="#8efc83"/><rect x="990" y="1818" width="31" height="21" fill="#8bfb85"/><rect x="1020" y="1818" width="31" height="21" fill="#89fb86"/><rect x="1050" y="1818" width="31" height="21" fill="#86fb88"/><rect x="1080" y="1818" width="31" height="21" fill="#85fb89"/><rect x="1110" y="1818" width="61" height="21" fill="#83fa8a"/><rect x="-30" y="1838" width="61" height="21" fill="#8bfb85"/><rect x="30" y="1838" width="31" height="21" fill="#8dfc83"/><rect x="60" y="1838" width="31" height="21" fill="#8ffc82"/><rect x="90" y="1838" width="31" height="21" fill="#91fc81"/><rect x="120" y="1838" width="31" height="21" fill="#94fc80"/><rect x="150" y="1838" width="31" height="21" fill="#99fc80"/><rect x="180" y="1838" width="31" height="21" fill="#9dfc80"/><rect x="210" y="1838" width="31" height="21" fill="#a3fb80"/><rect x="240" y="1838" width="31" height="21" fill="#a8fb80"/><rect x="270" y="1838" width="31" height="21" fill="#aefa80"/><rect x="300" y="1838" width="31" height="21" fill="#b0fa80"/><rect x="330" y="1838" width="31" height="21" fill="#b3fa80"/><rect x="360" y="1838" width="31" height="21" fill="#b4fb80"/><rect x="390" y="1838" width="31" height="21" fill="#b6fb80"/><rect x="420" y="1838" width="31" height="21" fill="#b8fb80"/><rect x="450" y="1838" width="31" height="21" fill="#bafc80"/><rect x="480" y="1838" width="31" height="21" fill="#bdfc80"/><rect x="510" y="1838" width="31" height="21" fill="#bffc80"/><rect x="540" y="1838" width="31" height="21" fill="#c0fd80"/><rect x="570" y="1838" width="31" height="21" fill="#c1fd80"/><rect x="600" y="1838" width="31" height="21" fill="#befc80"/><rect x="630" y="1838" width="31" height="21" fill="#bafc80"/><rect x="660" y="1838" width="31" height="21" fill="#b5fb80"/><rect x="690" y="1838" width="31" height="21" fill="#affa80"/><rect x="720" y="1838" width="31" height="21" fill="#a9fb80"/><rect x="750" y="1838" width="31" height="21" fill="#a3fb80"/><rect x="780" y="1838" width="31" height="21" fill="#9dfc80"/><rect x="810" y="1838" width="31" height="21" fill="#97fc80"/><rect x="840" y="1838" width="31" height="21" fill="#92fc80"/><rect x="870" y="1838" width="31" height="21" fill="#8efc83"/><rect x="900" y="1838" width="31" height="21" fill="#8bfb85"/><rect x="930" y="1838" width="31" height="21" fill="#88fb87"/><rect x="960" y="1838" width="31" height="21" fill="#86fb88"/><rect x="990" y="1838" width="31" height="21" fill="#85fb89"/><rect x="1020" y="1838" width="31" height="21" fill="#83fa8a"/><rect x="1050" y="1838" width="31" height="21" fill="#82fa8b"/><rect x="1080" y="1838" width="31" height="21" fill="#81fa8b"/><rect x="1110" y="1838" width="61" height="21" fill="#80fa8c"/><rect x="-30" y="1858" width="61" height="21" fill="#89fb86"/><rect x="30" y="1858" width="31" height="21" fill="#8afb86"/><rect x="60" y="1858" width="31" height="21" fill="#8afb85"/><rect x="90" y="1858" width="31" height="21" fill="#8bfb85"/><rect x="120" y="1858" width="31" height="21" fill="#8dfc83"/><rect x="150" y="1858" width="31" height="21" fill="#8ffc82"/><rect x="180" y="1858" width="31" height="21" fill="#91fc81"/><rect x="210" y="1858" width="31" height="21" fill="#93fc80"/><rect x="240" y="1858" width="31" height="21" fill="#94fc80"/><rect x="270" y="1858" width="31" height="21" fill="#95fc80"/><rect x="300" y="1858" width="31" height="21" fill="#92fc81"/><rect x="330" y="1858" width="31" height="21" fill="#8ffc82"/><rect x="360" y="1858" width="91" height="21" fill="#8efc83"/><rect x="450" y="1858" width="31" height="21" fill="#90fc82"/><rect x="480" y="1858" width="31" height="21" fill="#92fc81"/><rect x="510" y="1858" width="31" height="21" fill="#94fc80"/><rect x="540" y="1858" width="31" height="21" fill="#97fc80"/><rect x="570" y="1858" width="31" height="21" fill="#9afc80"/><rect x="600" y="1858" width="31" height="21" fill="#99fc80"/><rect x="630" y="1858" width="31" height="21" fill="#97fc80"/><rect x="660" y="1858" width="31" height="21" fill="#95fc80"/><rect x="690" y="1858" width="31" height="21" fill="#91fc81"/><rect x="720" y="1858" width="31" height="21" fill="#8efc83"/><rect x="750" y="1858" width="31" height="21" fill="#8bfb85"/><rect x="780" y="1858" width="31" height="21" fill="#88fb87"/><rect x="810" y="1858" width="31" height="21" fill="#86fb88"/><rect x="840" y="1858" width="31" height="21" fill="#83fa8a"/><rect x="870" y="1858" width="31" height="21" fill="#81fa8b"/><rect x="900" y="1858" width="31" height="21" fill="#80fa8c"/><rect x="930" y="1858" width="61" height="21" fill="#80fa8d"/><rect x="990" y="1858" width="181" height="21" fill="#80fa8e"/><rect x="-30" y="1878" width="31" height="21" fill="#85fb89"/><rect x="0" y="1878" width="31" height="21" fill="#85fb88"/><rect x="30" y="1878" width="31" height="21" fill="#86fb88"/><rect x="60" y="1878" width="31" height="21" fill="#87fb87"/><rect x="90" y="1878" width="31" height="21" fill="#88fb87"/><rect x="120" y="1878" width="61" height="21" fill="#89fb86"/><rect x="180" y="1878" width="31" height="21" fill="#8afb85"/><rect x="210" y="1878" width="31" height="21" fill="#88fb87"/><rect x="240" y="1878" width="31" height="21" fill="#84fb89"/><rect x="270" y="1878" width="31" height="21" fill="#81fa8b"/><rect x="300" y="1878" width="31" height="21" fill="#80f990"/><rect x="330" y="1878" width="31" height="21" fill="#80f995"/><rect x="360" y="1878" width="91" height="21" fill="#80f897"/><rect x="450" y="1878" width="31" height="21" fill="#80f996"/><rect x="480" y="1878" width="31" height="21" fill="#80f995"/><rect x="510" y="1878" width="31" height="21" fill="#80f993"/><rect x="540" y="1878" width="31" height="21" fill="#80f991"/><rect x="570" y="1878" width="31" height="21" fill="#80fa8f"/><rect x="600" y="1878" width="31" height="21" fill="#80fa8d"/><rect x="630" y="1878" width="31" height="21" fill="#80fa8c"/><rect x="660" y="1878" width="31" height="21" fill="#81fa8b"/><rect x="690" y="1878" width="31" height="21" fill="#80fa8c"/><rect x="720" y="1878" width="31" height="21" fill="#80fa8d"/><rect x="750" y="1878" width="31" height="21" fill="#80fa8e"/><rect x="780" y="1878" width="31" height="21" fill="#80fa8f"/><rect x="810" y="1878" width="61" height="21" fill="#80f990"/><rect x="870" y="1878" width="61" height="21" fill="#80f991"/><rect x="930" y="1878" width="241" height="21" fill="#80f992"/><rect x="-30" y="1898" width="31" height="21" fill="#84fb89"/><rect x="0" y="1898" width="31" height="21" fill="#85fb89"/><rect x="30" y="1898" width="31" height="21" fill="#86fb88"/><rect x="60" y="1898" width="31" height="21" fill="#87fb87"/><rect x="90" y="1898" width="61" height="21" fill="#88fb87"/><rect x="150" y="1898" width="61" height="21" fill="#89fb86"/><rect x="210" y="1898" width="31" height="21" fill="#86fb88"/><rect x="240" y="1898" width="31" height="21" fill="#81fa8b"/><rect x="270" y="1898" width="31" height="21" fill="#80f990"/><rect x="300" y="1898" width="31" height="21" fill="#80f993"/><rect x="330" y="1898" width="31" height="21" fill="#80f897"/><rect x="360" y="1898" width="91" height="21" fill="#80f899"/><rect x="450" y="1898" width="31" height="21" fill="#80f898"/><rect x="480" y="1898" width="31" height="21" fill="#80f897"/><rect x="510" y="1898" width="31" height="21" fill="#80f996"/><rect x="540" y="1898" width="31" height="21" fill="#80f994"/><rect x="570" y="1898" width="31" height="21" fill="#80f992"/><rect x="600" y="1898" width="31" height="21" fill="#80f991"/><rect x="630" y="1898" width="31" height="21" fill="#80f990"/><rect x="660" y="1898" width="31" height="21" fill="#80fa8f"/><rect x="690" y="1898" width="31" height="21" fill="#80f990"/><rect x="720" y="1898" width="61" height="21" fill="#80f991"/><rect x="780" y="1898" width="91" height="21" fill="#80f992"/><rect x="870" y="1898" width="301" height="21" fill="#80f993"/><rect x="-30" y="1918" width="61" height="21" fill="#86fb88"/><rect x="30" y="1918" width="31" height="21" fill="#87fb87"/><rect x="60" y="1918" width="31" height="21" fill="#88fb86"/><rect x="90" y="1918" width="31" height="21" fill="#89fb86"/><rect x="120" y="1918" width="31" height="21" fill="#8afb85"/><rect x="150" y="1918" width="31" height="21" fill="#8bfb85"/><rect x="180" y="1918" width="31" height="21" fill="#8cfc84"/><rect x="210" y="1918" width="31" height="21" fill="#89fb86"/><rect x="240" y="1918" width="31" height="21" fill="#85fb89"/><rect x="270" y="1918" width="31" height="21" fill="#81fa8b"/><rect x="300" y="1918" width="31" height="21" fill="#80fa8e"/><rect x="330" y="1918" width="31" height="21" fill="#80f991"/><rect x="360" y="1918" width="91" height="21" fill="#80f993"/><rect x="450" y="1918" width="31" height="21" fill="#80f992"/><rect x="480" y="1918" width="31" height="21" fill="#80f991"/><rect x="510" y="1918" width="31" height="21" fill="#80fa8f"/><rect x="540" y="1918" width="91" height="21" fill="#80fa8e"/><rect x="630" y="1918" width="61" height="21" fill="#80fa8f"/><rect x="690" y="1918" width="31" height="21" fill="#80f990"/><rect x="720" y="1918" width="31" height="21" fill="#80f991"/><rect x="750" y="1918" width="61" height="21" fill="#80f992"/><rect x="810" y="1918" width="361" height="21" fill="#80f993"/><rect x="-30" y="1938" width="31" height="21" fill="#88fb87"/><rect x="0" y="1938" width="31" height="21" fill="#88fb86"/><rect x="30" y="1938" width="31" height="21" fill="#8afb86"/><rect x="60" y="1938" width="31" height="21" fill="#8bfb85"/><rect x="90" y="1938" width="31" height="21" fill="#8cfc84"/><rect x="120" y="1938" width="31" height="21" fill="#8dfc83"/><rect x="150" y="1938" width="31" height="21" fill="#8efc83"/><rect x="180" y="1938" width="61" height="21" fill="#8ffc82"/><rect x="240" y="1938" width="31" height="21" fill="#8ffc83"/><rect x="270" y="1938" width="31" height="21" fill="#8efc83"/><rect x="300" y="1938" width="31" height="21" fill="#8bfb85"/><rect x="330" y="1938" width="31" height="21" fill="#89fb86"/><rect x="360" y="1938" width="61" height="21" fill="#88fb87"/><rect x="420" y="1938" width="31" height="21" fill="#89fb86"/><rect x="450" y="1938" width="31" height="21" fill="#8afb86"/><rect x="480" y="1938" width="61" height="21" fill="#8bfb85"/><rect x="540" y="1938" width="31" height="21" fill="#8afb86"/><rect x="570" y="1938" width="31" height="21" fill="#88fb86"/><rect x="600" y="1938" width="31" height="21" fill="#85fb88"/><rect x="630" y="1938" width="31" height="21" fill="#82fa8a"/><rect x="660" y="1938" width="31" height="21" fill="#80fa8d"/><rect x="690" y="1938" width="31" height="21" fill="#80fa8e"/><rect x="720" y="1938" width="31" height="21" fill="#80fa8f"/><rect x="750" y="1938" width="31" height="21" fill="#80f990"/><rect x="780" y="1938" width="91" height="21" fill="#80f991"/><rect x="870" y="1938" width="301" height="21" fill="#80f992"/><rect x="-30" y="1958" width="31" height="21" fill="#8afb86"/><rect x="0" y="1958" width="31" height="21" fill="#8afb85"/><rect x="30" y="1958" width="31" height="21" fill="#8cfc84"/><rect x="60" y="1958" width="31" height="21" fill="#8dfc83"/><rect x="90" y="1958" width="31" height="21" fill="#8ffc82"/><rect x="120" y="1958" width="31" height="21" fill="#90fc82"/><rect x="150" y="1958" width="31" height="21" fill="#92fc81"/><rect x="180" y="1958" width="31" height="21" fill="#93fc80"/><rect x="210" y="1958" width="31" height="21" fill="#98fc80"/><rect x="240" y="1958" width="31" height="21" fill="#9dfc80"/><rect x="270" y="1958" width="31" height="21" fill="#a3fb80"/><rect x="300" y="1958" width="31" height="21" fill="#a6fb80"/><rect x="330" y="1958" width="31" height="21" fill="#a9fb80"/><rect x="360" y="1958" width="31" height="21" fill="#acfa80"/><rect x="390" y="1958" width="31" height="21" fill="#aefa80"/><rect x="420" y="1958" width="31" height="21" fill="#b1fa80"/><rect x="450" y="1958" width="31" height="21" fill="#affa80"/><rect x="480" y="1958" width="31" height="21" fill="#acfa80"/><rect x="510" y="1958" width="31" height="21" fill="#a7fb80"/><rect x="540" y="1958" width="31" height="21" fill="#9efc80"/><rect x="570" y="1958" width="31" height="21" fill="#96fc80"/><rect x="600" y="1958" width="31" height="21" fill="#8ffc82"/><rect x="630" y="1958" width="31" height="21" fill="#89fb86"/><rect x="660" y="1958" width="31" height="21" fill="#84fb89"/><rect x="690" y="1958" width="31" height="21" fill="#83fa8a"/><rect x="720" y="1958" width="31" height="21" fill="#81fa8b"/><rect x="750" y="1958" width="31" height="21" fill="#80fa8c"/><rect x="780" y="1958" width="31" height="21" fill="#80fa8d"/><rect x="810" y="1958" width="31" height="21" fill="#80fa8e"/><rect x="840" y="1958" width="61" height="21" fill="#80fa8f"/><rect x="900" y="1958" width="271" height="21" fill="#80f990"/><rect x="-30" y="1978" width="31" height="21" fill="#8afb86"/><rect x="0" y="1978" width="31" height="21" fill="#8afb85"/><rect x="30" y="1978" width="31" height="21" fill="#8cfc84"/><rect x="60" y="1978" width="31" height="21" fill="#8dfc83"/><rect x="90" y="1978" width="31" height="21" fill="#8ffc82"/><rect x="120" y="1978" width="31" height="21" fill="#90fc82"/><rect x="150" y="1978" width="31" height="21" fill="#92fc81"/><rect x="180" y="1978" width="31" height="21" fill="#93fc80"/><rect x="210" y="1978" width="31" height="21" fill="#98fc80"/><rect x="240" y="1978" width="31" height="21" fill="#9dfc80"/><rect x="270" y="1978" width="31" height="21" fill="#a3fb80"/><rect x="300" y="1978" width="31" height="21" fill="#a6fb80"/><rect x="330" y="1978" width="31" height="21" fill="#a9fb80"/><rect x="360" y="1978" width="31" height="21" fill="#acfa80"/><rect x="390" y="1978" width="31" height="21" fill="#aefa80"/><rect x="420" y="1978" width="31" height="21" fill="#b1fa80"/><rect x="450" y="1978" width="31" height="21" fill="#affa80"/><rect x="480" y="1978" width="31" height="21" fill="#acfa80"/><rect x="510" y="1978" width="31" height="21" fill="#a7fb80"/><rect x="540" y="1978" width="31" height="21" fill="#9efc80"/><rect x="570" y="1978" width="31" height="21" fill="#96fc80"/><rect x="600" y="1978" width="31" height="21" fill="#8ffc82"/><rect x="630" y="1978" width="31" height="21" fill="#89fb86"/><rect x="660" y="1978" width="31" height="21" fill="#84fb89"/><rect x="690" y="1978" width="31" height="21" fill="#83fa8a"/><rect x="720" y="1978" width="31" height="21" fill="#81fa8b"/><rect x="750" y="1978" width="31" height="21" fill="#80fa8c"/><rect x="780" y="1978" width="31" height="21" fill="#80fa8d"/><rect x="810" y="1978" width="31" height="21" fill="#80fa8e"/><rect x="840" y="1978" width="61" height="21" fill="#80fa8f"/><rect x="900" y="1978" width="271" height="21" fill="#80f990"/></g><g filter="url(#blur2)"></g></g>
<path d="M6.4,1760.5 L26.7,1760.5 L26.7,1757.9 L53.3,1757.9 L53.3,1755.4 L83.8,1755.4 L83.8,1752.8 L120.6,1752.8 L120.6,1750.3 L152.4,1750.3 L152.4,1747.5 L199.4,1747.5 L199.4,1744.5 L255.3,1744.5 L255.3,1742.4 L432.4,1742.4 L432.4,1740.1 L509.9,1740.1 L509.9,1741.9 L563.2,1741.9 L563.2,1743.7 L646.4,1743.7 L646.4,1739.9 L668.0,1739.9 L668.0,1741.9 L693.4,1741.9 L693.4,1743.7 L723.8,1743.7 L723.8,1746.5 L755.6,1746.5 L755.6,1748.8 L786.1,1748.8 L786.1,1751.6 L807.7,1751.6 L807.7,1753.3 L834.3,1753.3 L834.3,1756.4 L860.3,1756.4 L860.3,1759.7 L890.8,1759.7 L890.8,1762.2 L927.6,1762.2 L927.6,1764.3 L987.3,1764.3 L987.3,1767.3 L1073.7,1767.3 L1073.7,1770.6 L1129.6,1770.6 L1129.6,1772.4 L1135.9,1772.4 L1135.9,1776.2 L1138.0,1776.2" fill="none" stroke="#111" stroke-width="1.3"/>
<g clip-path="url(#cl4)" class="sl"><path d="M6.4,1942.6 C26.5,1943.0 87.4,1944.0 127.0,1945.1 C166.6,1946.2 215.0,1947.3 243.8,1949.0 C272.6,1950.7 280.0,1953.3 300.0,1955.0 C320.0,1956.7 334.1,1958.2 363.8,1959.0 C393.5,1959.8 442.0,1959.7 478.0,1959.5 C514.0,1959.3 559.7,1958.6 580.0,1958.0 C600.3,1957.4 576.7,1957.2 600.0,1956.0 C623.3,1954.8 676.7,1953.0 720.0,1951.0 C763.3,1949.0 822.2,1947.8 860.0,1944.0 C897.8,1940.2 923.4,1932.3 946.7,1928.0 C970.0,1923.7 981.8,1920.7 1000.0,1918.0 C1018.2,1915.3 1033.0,1911.3 1055.9,1912.0 C1078.8,1912.7 1123.7,1920.3 1137.2,1922.0"/><path d="M6.4,1926.1 C26.1,1927.0 84.9,1929.8 124.5,1931.6 C164.1,1933.4 214.6,1934.3 243.8,1937.0 C273.1,1939.7 281.3,1945.2 300.0,1948.0 C318.7,1950.8 327.4,1952.7 356.2,1954.0 C385.0,1955.3 439.0,1956.6 473.0,1956.0 C507.0,1955.4 539.2,1951.8 560.0,1950.2 C580.8,1948.6 572.7,1948.4 598.0,1946.5 C623.3,1944.6 673.0,1939.9 712.0,1938.8 C751.0,1937.7 807.3,1940.4 832.0,1939.8 C856.7,1939.2 840.9,1939.2 860.0,1935.0 C879.1,1930.8 924.6,1920.3 946.7,1914.6 C968.8,1908.9 974.2,1904.7 992.4,1900.7 C1010.6,1896.7 1031.8,1889.2 1055.9,1890.5 C1080.0,1891.8 1123.7,1905.3 1137.2,1908.3"/><path d="M6.4,1907.0 C26.1,1908.3 85.3,1912.9 124.5,1914.6 C163.7,1916.3 215.5,1915.7 241.3,1917.2 C267.1,1918.7 269.6,1920.5 279.4,1923.5 C289.2,1926.5 293.2,1931.8 300.0,1935.0 C306.8,1938.2 310.0,1941.0 320.0,1943.0 C330.0,1945.0 333.7,1946.2 360.0,1947.0 C386.3,1947.8 444.7,1949.4 478.0,1948.0 C511.3,1946.6 541.7,1941.4 560.0,1938.8 C578.3,1936.2 564.7,1936.6 588.0,1932.4 C611.3,1928.2 660.3,1918.6 699.7,1913.4 C739.1,1908.2 797.5,1904.0 824.2,1901.0 C850.9,1898.0 841.7,1899.5 860.0,1895.6 C878.3,1891.7 901.4,1882.7 934.0,1877.8 C966.6,1872.9 1022.0,1866.0 1055.9,1866.4 C1089.8,1866.8 1123.7,1878.0 1137.2,1880.3"/><path d="M6.4,1888.0 C25.6,1889.3 82.8,1894.1 121.9,1895.6 C161.1,1897.1 216.6,1897.4 241.3,1897.0 C266.0,1896.6 261.9,1895.8 270.0,1893.0 C278.1,1890.2 284.1,1885.1 290.0,1880.0 C295.9,1874.9 296.1,1866.3 305.4,1862.6 C314.7,1858.8 329.1,1858.1 346.0,1857.5 C362.9,1856.9 387.5,1858.2 407.0,1858.8 C426.5,1859.4 448.1,1859.8 462.9,1861.3 C477.7,1862.8 488.3,1864.0 495.9,1867.6 C503.5,1871.2 504.0,1877.8 508.6,1882.9 C513.2,1888.0 515.3,1895.3 523.8,1898.1 C532.3,1900.8 550.0,1899.4 559.4,1899.4 C568.8,1899.4 563.0,1901.3 580.0,1898.1 C597.0,1894.9 626.8,1886.3 661.6,1880.0 C696.4,1873.7 755.5,1864.7 788.6,1860.0 C821.7,1855.3 843.0,1853.7 860.0,1852.0 C877.0,1850.3 866.6,1852.4 890.8,1849.9 C915.0,1847.4 964.0,1841.4 1005.1,1837.2 C1046.2,1833.0 1115.2,1826.6 1137.2,1824.5"/><path d="M6.4,1890.5 C25.6,1891.6 82.8,1895.8 121.9,1897.0 C161.1,1898.2 215.0,1898.3 241.3,1898.0 C267.7,1897.7 269.4,1896.7 280.0,1895.0 C290.6,1893.3 296.7,1889.3 305.0,1888.0 C313.3,1886.7 321.7,1886.7 330.0,1887.0 C338.3,1887.3 348.0,1888.5 355.0,1890.0 C362.0,1891.5 364.5,1894.3 372.0,1896.0 C379.5,1897.7 387.0,1898.5 400.0,1900.0 C413.0,1901.5 439.7,1903.3 450.0,1905.0 C460.3,1906.7 457.0,1907.5 462.0,1910.0 C467.0,1912.5 470.3,1917.5 480.0,1920.0 C489.7,1922.5 506.7,1924.7 520.0,1925.0 C533.3,1925.3 536.4,1927.3 560.0,1922.0 C583.6,1916.7 623.5,1903.0 661.6,1893.0 C699.7,1883.0 755.5,1868.5 788.6,1862.0 C821.7,1855.5 843.0,1855.8 860.0,1854.0 C877.0,1852.2 866.6,1853.6 890.8,1851.0 C915.0,1848.4 964.0,1842.8 1005.1,1838.5 C1046.2,1834.2 1115.2,1827.2 1137.2,1825.0"/><path d="M6.4,1893.0 C25.6,1893.9 82.8,1897.4 121.9,1898.5 C161.1,1899.6 215.0,1898.9 241.3,1899.5 C267.7,1900.1 269.4,1901.4 280.0,1902.0 C290.6,1902.6 296.7,1902.5 305.0,1903.0 C313.3,1903.5 320.2,1903.1 330.0,1905.0 C339.8,1906.9 350.7,1912.1 364.0,1914.6 C377.3,1917.1 400.7,1917.8 410.0,1920.0 C419.3,1922.2 417.5,1925.3 420.0,1928.0 C422.5,1930.7 416.7,1934.0 425.0,1936.0 C433.3,1938.0 454.2,1939.7 470.0,1940.0 C485.8,1940.3 505.0,1939.7 520.0,1938.0 C535.0,1936.3 536.4,1937.0 560.0,1930.0 C583.6,1923.0 623.5,1907.0 661.6,1896.0 C699.7,1885.0 755.5,1870.7 788.6,1864.0 C821.7,1857.3 823.9,1860.0 860.0,1856.0 C896.1,1852.0 958.9,1845.1 1005.1,1840.0 C1051.3,1834.9 1115.2,1827.9 1137.2,1825.5"/><path d="M6.4,1895.5 C25.6,1896.2 82.8,1899.1 121.9,1900.0 C161.1,1900.9 215.0,1898.5 241.3,1901.0 C267.7,1903.5 270.2,1910.5 280.0,1915.0 C289.8,1919.5 293.3,1923.8 300.0,1928.0 C306.7,1932.2 310.0,1937.3 320.0,1940.0 C330.0,1942.7 338.3,1943.2 360.0,1944.0 C381.7,1944.8 421.7,1945.3 450.0,1945.0 C478.3,1944.7 510.0,1943.8 530.0,1942.0 C550.0,1940.2 548.1,1941.2 570.0,1934.0 C591.9,1926.8 625.2,1910.3 661.6,1899.0 C698.0,1887.7 755.5,1872.8 788.6,1866.0 C821.7,1859.2 823.9,1862.1 860.0,1858.0 C896.1,1853.9 958.9,1846.8 1005.1,1841.5 C1051.3,1836.2 1115.2,1828.6 1137.2,1826.0"/><path d="M6.4,1898.0 C25.6,1898.6 82.8,1900.8 121.9,1901.5 C161.1,1902.2 213.3,1902.8 241.3,1902.5 C269.3,1902.2 278.6,1903.8 290.0,1900.0 C301.4,1896.2 301.7,1884.7 310.0,1880.0 C318.3,1875.3 326.8,1873.8 340.0,1872.0 C353.2,1870.2 380.3,1868.0 389.0,1869.0 C397.7,1870.0 388.2,1875.3 392.0,1878.0 C395.8,1880.7 402.3,1882.2 412.0,1885.0 C421.7,1887.8 441.7,1892.0 450.0,1895.0 C458.3,1898.0 454.5,1900.2 462.0,1903.0 C469.5,1905.8 487.0,1909.7 495.0,1912.0 C503.0,1914.3 504.2,1914.8 510.0,1917.0 C515.8,1919.2 520.8,1923.5 530.0,1925.0 C539.2,1926.5 543.1,1930.0 565.0,1926.0 C586.9,1922.0 624.3,1910.7 661.6,1901.0 C698.9,1891.3 755.5,1875.0 788.6,1868.0 C821.7,1861.0 823.9,1863.2 860.0,1859.0 C896.1,1854.8 958.9,1848.3 1005.1,1843.0 C1051.3,1837.7 1115.2,1829.7 1137.2,1827.0"/><path d="M6.4,1900.7 C25.6,1901.1 82.8,1902.8 121.9,1903.2 C161.1,1903.6 211.6,1902.9 241.3,1903.2 C271.0,1903.5 281.9,1904.5 300.0,1905.0 C318.1,1905.5 333.3,1905.5 350.0,1906.0 C366.7,1906.5 385.0,1907.0 400.0,1908.0 C415.0,1909.0 429.7,1910.8 440.0,1912.0 C450.3,1913.2 453.7,1912.8 462.0,1915.0 C470.3,1917.2 480.3,1922.5 490.0,1925.0 C499.7,1927.5 508.3,1929.7 520.0,1930.0 C531.7,1930.3 536.4,1931.5 560.0,1927.0 C583.6,1922.5 623.5,1912.5 661.6,1903.0 C699.7,1893.5 755.5,1877.0 788.6,1870.0 C821.7,1863.0 823.9,1865.3 860.0,1861.0 C896.1,1856.7 958.9,1849.5 1005.1,1844.0 C1051.3,1838.5 1115.2,1830.7 1137.2,1828.0"/><path d="M6.4,1867.1 C25.2,1869.1 82.4,1877.5 119.4,1879.1 C156.4,1880.7 201.8,1879.2 228.6,1876.5 C255.4,1873.8 259.6,1867.7 280.0,1862.6 C300.4,1857.5 319.8,1848.5 351.1,1846.0 C382.4,1843.5 437.5,1845.4 468.0,1847.3 C498.5,1849.2 515.3,1855.0 534.0,1857.5 C552.7,1860.0 552.4,1863.4 580.0,1862.6 C607.6,1861.8 660.3,1856.0 699.7,1852.4 C739.1,1848.8 789.8,1843.3 816.5,1841.0 C843.2,1838.7 840.4,1841.0 860.0,1838.4 C879.6,1835.9 901.8,1830.5 934.0,1825.7 C966.2,1820.9 1026.7,1813.7 1053.4,1809.7 C1080.1,1805.7 1080.0,1807.2 1094.0,1801.6 C1108.0,1796.0 1130.0,1780.4 1137.2,1776.2"/><path d="M6.4,1844.3 C24.0,1846.7 84.1,1855.8 111.8,1858.8 C139.5,1861.8 153.2,1862.1 172.7,1862.1 C192.2,1862.1 207.4,1861.7 228.6,1858.8 C249.8,1855.9 280.9,1848.2 300.0,1844.8 C319.1,1841.4 317.2,1839.7 343.5,1838.4 C369.8,1837.1 418.4,1836.1 457.8,1837.2 C497.2,1838.3 540.1,1845.2 580.0,1844.8 C619.9,1844.4 658.2,1838.0 697.2,1834.6 C736.2,1831.2 786.9,1827.5 814.0,1824.5 C841.1,1821.5 840.4,1819.3 860.0,1816.8 C879.6,1814.2 900.0,1814.3 931.4,1809.2 C962.8,1804.1 1023.3,1792.7 1048.3,1786.4 C1073.3,1780.1 1075.8,1774.1 1081.3,1771.6"/><path d="M6.4,1800.3 C13.4,1802.0 21.8,1805.4 48.3,1810.5 C74.8,1815.6 126.6,1827.8 165.1,1830.8 C203.6,1833.8 256.9,1828.9 279.4,1828.3 C301.9,1827.7 280.0,1828.1 300.0,1827.0 C320.0,1825.9 363.4,1822.5 399.4,1821.9 C435.4,1821.3 486.1,1823.0 516.2,1823.2 C546.3,1823.4 560.0,1824.1 580.0,1823.2 C600.0,1822.3 607.4,1820.6 636.2,1818.1 C665.0,1815.6 715.7,1812.0 753.0,1808.0 C790.3,1804.0 840.4,1796.5 860.0,1794.0 C879.6,1791.5 850.1,1797.2 870.5,1792.7 C890.9,1788.2 963.6,1771.5 982.2,1767.3"/><path d="M30.5,1757.9 C38.1,1761.0 57.6,1770.8 76.2,1776.2 C94.8,1781.6 112.6,1785.6 142.2,1790.2 C171.8,1794.8 227.7,1801.8 254.0,1804.1 C280.3,1806.4 279.1,1804.3 300.0,1804.1 C320.9,1803.9 346.5,1803.1 379.1,1802.9 C411.8,1802.7 462.4,1803.3 495.9,1802.9 C529.4,1802.5 560.0,1801.2 580.0,1800.3 C600.0,1799.4 590.4,1800.0 615.9,1797.8 C641.4,1795.6 693.8,1792.0 732.7,1786.9 C771.7,1781.8 825.4,1771.6 849.6,1767.3 C873.8,1763.0 873.4,1762.0 878.1,1761.0"/><path d="M130.8,1750.3 C138.6,1752.7 159.4,1760.7 177.8,1764.8 C196.2,1768.9 220.9,1772.4 241.3,1774.9 C261.7,1777.4 280.4,1778.7 300.0,1780.0 C319.6,1781.3 329.4,1782.0 358.7,1782.6 C388.0,1783.1 438.7,1783.5 475.6,1783.3 C512.5,1783.1 560.0,1782.0 580.0,1781.3 C600.0,1780.6 573.5,1781.7 595.6,1779.2 C617.7,1776.7 680.6,1771.1 712.4,1766.5 C744.1,1761.9 773.8,1754.1 786.1,1751.6"/><path d="M226.1,1744.5 C238.4,1746.6 280.9,1754.5 300.0,1757.2 C319.1,1759.9 314.7,1759.5 341.0,1760.5 C367.3,1761.5 421.3,1763.4 457.8,1763.5 C494.3,1763.6 540.4,1761.4 560.0,1761.0 C579.6,1760.6 552.3,1763.5 575.2,1761.0 C598.1,1758.5 675.2,1748.3 697.2,1745.7 C719.2,1743.1 705.6,1745.3 707.3,1745.2"/><path d="M560.0,1900.7 C579.9,1897.1 639.2,1884.9 679.4,1879.1 C719.6,1873.3 771.2,1867.7 801.3,1866.0 C831.4,1864.3 838.7,1870.5 860.0,1868.9 C881.3,1867.3 897.5,1860.2 928.9,1856.2 C960.3,1852.2 1013.6,1846.6 1048.3,1844.8 C1083.0,1843.0 1122.4,1845.2 1137.2,1845.3"/></g>
<g class="ar"><path d="M-10,-4.2 L0,0 L-10,4.2" transform="translate(46.4,1943.4) rotate(1.1)"/><path d="M-10,-4.2 L0,0 L-10,4.2" transform="translate(163.4,1946.1) rotate(1.6)"/><path d="M-10,-4.2 L0,0 L-10,4.2" transform="translate(280.1,1952.7) rotate(7.9)"/><path d="M-10,-4.2 L0,0 L-10,4.2" transform="translate(396.8,1959.5) rotate(0.5)"/><path d="M-10,-4.2 L0,0 L-10,4.2" transform="translate(513.8,1959.2) rotate(-0.7)"/><path d="M-10,-4.2 L0,0 L-10,4.2" transform="translate(629.8,1954.7) rotate(-2.3)"/><path d="M-10,-4.2 L0,0 L-10,4.2" transform="translate(746.7,1949.9) rotate(-2.1)"/><path d="M-10,-4.2 L0,0 L-10,4.2" transform="translate(863.5,1943.6) rotate(-6.4)"/><path d="M-10,-4.2 L0,0 L-10,4.2" transform="translate(978.4,1921.8) rotate(-11.2)"/><path d="M-10,-4.2 L0,0 L-10,4.2" transform="translate(1094.4,1915.9) rotate(7.8)"/><path d="M-10,-4.2 L0,0 L-10,4.2" transform="translate(83.3,1929.7) rotate(2.7)"/><path d="M-10,-4.2 L0,0 L-10,4.2" transform="translate(200.2,1934.4) rotate(2.4)"/><path d="M-10,-4.2 L0,0 L-10,4.2" transform="translate(315.8,1950.4) rotate(8.4)"/><path d="M-10,-4.2 L0,0 L-10,4.2" transform="translate(432.6,1956.0) rotate(0.7)"/><path d="M-10,-4.2 L0,0 L-10,4.2" transform="translate(549.4,1951.1) rotate(-4.9)"/><path d="M-10,-4.2 L0,0 L-10,4.2" transform="translate(666.0,1941.2) rotate(-3.9)"/><path d="M-10,-4.2 L0,0 L-10,4.2" transform="translate(782.9,1939.2) rotate(1.2)"/><path d="M-10,-4.2 L0,0 L-10,4.2" transform="translate(898.3,1926.3) rotate(-13.1)"/><path d="M-10,-4.2 L0,0 L-10,4.2" transform="translate(1011.2,1896.1) rotate(-14.0)"/><path d="M-10,-4.2 L0,0 L-10,4.2" transform="translate(1126.0,1905.5) rotate(14.9)"/><path d="M-10,-4.2 L0,0 L-10,4.2" transform="translate(120.2,1914.4) rotate(2.7)"/><path d="M-10,-4.2 L0,0 L-10,4.2" transform="translate(237.1,1917.0) rotate(2.7)"/><path d="M-10,-4.2 L0,0 L-10,4.2" transform="translate(348.4,1946.5) rotate(3.1)"/><path d="M-10,-4.2 L0,0 L-10,4.2" transform="translate(465.4,1948.4) rotate(-1.0)"/><path d="M-10,-4.2 L0,0 L-10,4.2" transform="translate(581.2,1933.7) rotate(-11.9)"/><path d="M-10,-4.2 L0,0 L-10,4.2" transform="translate(696.5,1913.8) rotate(-7.9)"/><path d="M-10,-4.2 L0,0 L-10,4.2" transform="translate(812.9,1902.2) rotate(-5.5)"/><path d="M-10,-4.2 L0,0 L-10,4.2" transform="translate(927.3,1878.9) rotate(-9.3)"/><path d="M-10,-4.2 L0,0 L-10,4.2" transform="translate(1043.6,1866.6) rotate(-1.9)"/><path d="M-10,-4.2 L0,0 L-10,4.2" transform="translate(122.1,1895.6) rotate(2.0)"/><path d="M-10,-4.2 L0,0 L-10,4.2" transform="translate(239.1,1897.0) rotate(-0.8)"/><path d="M-10,-4.2 L0,0 L-10,4.2" transform="translate(342.8,1857.6) rotate(-2.2)"/><path d="M-10,-4.2 L0,0 L-10,4.2" transform="translate(459.7,1861.0) rotate(5.1)"/><path d="M-10,-4.2 L0,0 L-10,4.2" transform="translate(561.6,1899.4) rotate(3.4)"/><path d="M-10,-4.2 L0,0 L-10,4.2" transform="translate(676.2,1877.4) rotate(-9.8)"/><path d="M-10,-4.2 L0,0 L-10,4.2" transform="translate(791.8,1859.6) rotate(-7.8)"/><path d="M-10,-4.2 L0,0 L-10,4.2" transform="translate(908.2,1848.0) rotate(-6.4)"/><path d="M-10,-4.2 L0,0 L-10,4.2" transform="translate(1024.5,1835.2) rotate(-5.7)"/><path d="M-10,-4.2 L0,0 L-10,4.2" transform="translate(122.2,1897.0) rotate(1.6)"/><path d="M-10,-4.2 L0,0 L-10,4.2" transform="translate(239.2,1898.0) rotate(-0.6)"/><path d="M-10,-4.2 L0,0 L-10,4.2" transform="translate(354.8,1890.0) rotate(11.5)"/><path d="M-10,-4.2 L0,0 L-10,4.2" transform="translate(467.7,1913.9) rotate(36.9)"/><path d="M-10,-4.2 L0,0 L-10,4.2" transform="translate(581.7,1916.3) rotate(-16.2)"/><path d="M-10,-4.2 L0,0 L-10,4.2" transform="translate(694.3,1884.5) rotate(-14.4)"/><path d="M-10,-4.2 L0,0 L-10,4.2" transform="translate(808.3,1858.7) rotate(-8.1)"/><path d="M-10,-4.2 L0,0 L-10,4.2" transform="translate(924.8,1847.3) rotate(-6.3)"/><path d="M-10,-4.2 L0,0 L-10,4.2" transform="translate(1041.1,1834.8) rotate(-5.8)"/><path d="M-10,-4.2 L0,0 L-10,4.2" transform="translate(122.3,1898.5) rotate(1.3)"/><path d="M-10,-4.2 L0,0 L-10,4.2" transform="translate(239.3,1899.5) rotate(1.0)"/><path d="M-10,-4.2 L0,0 L-10,4.2" transform="translate(354.9,1912.4) rotate(15.2)"/><path d="M-10,-4.2 L0,0 L-10,4.2" transform="translate(461.6,1939.7) rotate(2.8)"/><path d="M-10,-4.2 L0,0 L-10,4.2" transform="translate(576.8,1924.6) rotate(-18.9)"/><path d="M-10,-4.2 L0,0 L-10,4.2" transform="translate(688.1,1888.6) rotate(-15.2)"/><path d="M-10,-4.2 L0,0 L-10,4.2" transform="translate(801.9,1861.5) rotate(-9.9)"/><path d="M-10,-4.2 L0,0 L-10,4.2" transform="translate(918.2,1849.6) rotate(-6.3)"/><path d="M-10,-4.2 L0,0 L-10,4.2" transform="translate(1034.5,1836.8) rotate(-6.3)"/><path d="M-10,-4.2 L0,0 L-10,4.2" transform="translate(122.3,1900.0) rotate(0.9)"/><path d="M-10,-4.2 L0,0 L-10,4.2" transform="translate(239.3,1900.9) rotate(4.2)"/><path d="M-10,-4.2 L0,0 L-10,4.2" transform="translate(345.6,1943.4) rotate(3.2)"/><path d="M-10,-4.2 L0,0 L-10,4.2" transform="translate(462.5,1944.8) rotate(-0.9)"/><path d="M-10,-4.2 L0,0 L-10,4.2" transform="translate(578.0,1931.2) rotate(-20.6)"/><path d="M-10,-4.2 L0,0 L-10,4.2" transform="translate(687.9,1891.2) rotate(-15.9)"/><path d="M-10,-4.2 L0,0 L-10,4.2" transform="translate(801.5,1863.6) rotate(-10.0)"/><path d="M-10,-4.2 L0,0 L-10,4.2" transform="translate(917.8,1851.5) rotate(-6.5)"/><path d="M-10,-4.2 L0,0 L-10,4.2" transform="translate(1034.1,1838.1) rotate(-6.7)"/><path d="M-10,-4.2 L0,0 L-10,4.2" transform="translate(122.3,1901.5) rotate(1.0)"/><path d="M-10,-4.2 L0,0 L-10,4.2" transform="translate(239.3,1902.5) rotate(-0.4)"/><path d="M-10,-4.2 L0,0 L-10,4.2" transform="translate(345.9,1871.3) rotate(-6.6)"/><path d="M-10,-4.2 L0,0 L-10,4.2" transform="translate(451.0,1895.4) rotate(21.7)"/><path d="M-10,-4.2 L0,0 L-10,4.2" transform="translate(561.4,1926.6) rotate(-9.4)"/><path d="M-10,-4.2 L0,0 L-10,4.2" transform="translate(674.7,1897.5) rotate(-15.0)"/><path d="M-10,-4.2 L0,0 L-10,4.2" transform="translate(787.9,1868.1) rotate(-12.5)"/><path d="M-10,-4.2 L0,0 L-10,4.2" transform="translate(904.0,1854.1) rotate(-6.2)"/><path d="M-10,-4.2 L0,0 L-10,4.2" transform="translate(1020.3,1841.2) rotate(-6.7)"/><path d="M-10,-4.2 L0,0 L-10,4.2" transform="translate(1136.5,1827.1) rotate(-7.0)"/><path d="M-10,-4.2 L0,0 L-10,4.2" transform="translate(122.4,1903.2) rotate(0.5)"/><path d="M-10,-4.2 L0,0 L-10,4.2" transform="translate(239.4,1903.2) rotate(0.4)"/><path d="M-10,-4.2 L0,0 L-10,4.2" transform="translate(356.3,1906.2) rotate(1.7)"/><path d="M-10,-4.2 L0,0 L-10,4.2" transform="translate(472.2,1918.6) rotate(21.7)"/><path d="M-10,-4.2 L0,0 L-10,4.2" transform="translate(586.7,1921.3) rotate(-12.8)"/><path d="M-10,-4.2 L0,0 L-10,4.2" transform="translate(700.2,1892.8) rotate(-15.1)"/><path d="M-10,-4.2 L0,0 L-10,4.2" transform="translate(813.9,1865.5) rotate(-6.8)"/><path d="M-10,-4.2 L0,0 L-10,4.2" transform="translate(930.2,1852.8) rotate(-6.6)"/><path d="M-10,-4.2 L0,0 L-10,4.2" transform="translate(1046.4,1839.0) rotate(-6.9)"/><path d="M-10,-4.2 L0,0 L-10,4.2" transform="translate(144.7,1879.7) rotate(0.6)"/><path d="M-10,-4.2 L0,0 L-10,4.2" transform="translate(260.6,1869.0) rotate(-20.8)"/><path d="M-10,-4.2 L0,0 L-10,4.2" transform="translate(374.5,1844.9) rotate(-1.3)"/><path d="M-10,-4.2 L0,0 L-10,4.2" transform="translate(491.3,1849.8) rotate(8.4)"/><path d="M-10,-4.2 L0,0 L-10,4.2" transform="translate(607.1,1861.0) rotate(-4.6)"/><path d="M-10,-4.2 L0,0 L-10,4.2" transform="translate(723.6,1850.1) rotate(-5.6)"/><path d="M-10,-4.2 L0,0 L-10,4.2" transform="translate(840.1,1839.8) rotate(-0.5)"/><path d="M-10,-4.2 L0,0 L-10,4.2" transform="translate(955.7,1822.7) rotate(-7.6)"/><path d="M-10,-4.2 L0,0 L-10,4.2" transform="translate(1071.7,1807.2) rotate(-7.3)"/><path d="M-10,-4.2 L0,0 L-10,4.2" transform="translate(64.8,1852.7) rotate(8.1)"/><path d="M-10,-4.2 L0,0 L-10,4.2" transform="translate(181.3,1862.1) rotate(-0.4)"/><path d="M-10,-4.2 L0,0 L-10,4.2" transform="translate(296.8,1845.4) rotate(-10.5)"/><path d="M-10,-4.2 L0,0 L-10,4.2" transform="translate(413.2,1836.8) rotate(-0.3)"/><path d="M-10,-4.2 L0,0 L-10,4.2" transform="translate(530.0,1842.5) rotate(4.5)"/><path d="M-10,-4.2 L0,0 L-10,4.2" transform="translate(646.7,1840.0) rotate(-6.2)"/><path d="M-10,-4.2 L0,0 L-10,4.2" transform="translate(763.2,1829.1) rotate(-4.8)"/><path d="M-10,-4.2 L0,0 L-10,4.2" transform="translate(879.2,1814.9) rotate(-4.7)"/><path d="M-10,-4.2 L0,0 L-10,4.2" transform="translate(994.9,1797.7) rotate(-11.1)"/><path d="M-10,-4.2 L0,0 L-10,4.2" transform="translate(100.1,1821.0) rotate(11.1)"/><path d="M-10,-4.2 L0,0 L-10,4.2" transform="translate(216.3,1831.4) rotate(-1.6)"/><path d="M-10,-4.2 L0,0 L-10,4.2" transform="translate(332.9,1824.9) rotate(-3.6)"/><path d="M-10,-4.2 L0,0 L-10,4.2" transform="translate(449.8,1822.1) rotate(1.0)"/><path d="M-10,-4.2 L0,0 L-10,4.2" transform="translate(566.8,1823.6) rotate(-1.0)"/><path d="M-10,-4.2 L0,0 L-10,4.2" transform="translate(683.4,1814.3) rotate(-4.6)"/><path d="M-10,-4.2 L0,0 L-10,4.2" transform="translate(799.8,1802.2) rotate(-7.6)"/><path d="M-10,-4.2 L0,0 L-10,4.2" transform="translate(906.8,1784.5) rotate(-12.8)"/><path d="M-10,-4.2 L0,0 L-10,4.2" transform="translate(158.2,1792.6) rotate(8.2)"/><path d="M-10,-4.2 L0,0 L-10,4.2" transform="translate(274.5,1805.2) rotate(-0.5)"/><path d="M-10,-4.2 L0,0 L-10,4.2" transform="translate(391.5,1802.9) rotate(-0.0)"/><path d="M-10,-4.2 L0,0 L-10,4.2" transform="translate(508.5,1802.7) rotate(-1.1)"/><path d="M-10,-4.2 L0,0 L-10,4.2" transform="translate(625.3,1797.0) rotate(-4.7)"/><path d="M-10,-4.2 L0,0 L-10,4.2" transform="translate(741.7,1785.7) rotate(-7.8)"/><path d="M-10,-4.2 L0,0 L-10,4.2" transform="translate(857.0,1765.9) rotate(-10.8)"/><path d="M-10,-4.2 L0,0 L-10,4.2" transform="translate(181.5,1765.6) rotate(12.1)"/><path d="M-10,-4.2 L0,0 L-10,4.2" transform="translate(297.5,1779.8) rotate(3.8)"/><path d="M-10,-4.2 L0,0 L-10,4.2" transform="translate(414.5,1783.2) rotate(0.3)"/><path d="M-10,-4.2 L0,0 L-10,4.2" transform="translate(531.5,1782.5) rotate(-1.1)"/><path d="M-10,-4.2 L0,0 L-10,4.2" transform="translate(644.3,1774.3) rotate(-5.8)"/><path d="M-10,-4.2 L0,0 L-10,4.2" transform="translate(760.0,1757.5) rotate(-12.6)"/><path d="M-10,-4.2 L0,0 L-10,4.2" transform="translate(314.9,1759.2) rotate(6.2)"/><path d="M-10,-4.2 L0,0 L-10,4.2" transform="translate(431.8,1763.2) rotate(1.0)"/><path d="M-10,-4.2 L0,0 L-10,4.2" transform="translate(548.8,1761.3) rotate(-1.8)"/><path d="M-10,-4.2 L0,0 L-10,4.2" transform="translate(660.6,1750.3) rotate(-7.3)"/><path d="M-10,-4.2 L0,0 L-10,4.2" transform="translate(685.0,1878.3) rotate(-8.0)"/><path d="M-10,-4.2 L0,0 L-10,4.2" transform="translate(801.3,1866.0) rotate(-2.2)"/><path d="M-10,-4.2 L0,0 L-10,4.2" transform="translate(917.0,1858.0) rotate(-9.4)"/><path d="M-10,-4.2 L0,0 L-10,4.2" transform="translate(1033.4,1845.7) rotate(-3.9)"/></g>
<rect x="303.6" y="1867.6" width="155.7" height="64.8" fill="none" stroke="#00aaff" stroke-width="3.6"/>
<text x="342.2" y="1733" class="tk" font-size="25">Net Cage</text>
<line x1="6" x2="1143" y1="1707.8" y2="1707.8" class="ax"/>
<line x1="6" x2="1143" y1="1967.8" y2="1967.8" class="ax"/>
<line x1="1137.4" x2="1137.4" y1="1707.8" y2="1967.8" class="ax"/>
<line x1="21.5" x2="21.5" y1="1707.8" y2="1967.8" stroke="#111" stroke-width="1.2"/>
<line x1="1137.3" x2="1137.3" y1="1776.7" y2="1966.6" stroke="#0a9a1a" stroke-width="2.6"/>
<line x1="1137.4" x2="1142.4" y1="1967.8" y2="1967.8" stroke="#111" stroke-width="1.3"/>
<line x1="1137.4" x2="1143.4" y1="1954.8" y2="1954.8" stroke="#111" stroke-width="1.3"/>
<line x1="1137.4" x2="1143.4" y1="1941.8" y2="1941.8" stroke="#111" stroke-width="1.3"/>
<line x1="1137.4" x2="1143.4" y1="1928.8" y2="1928.8" stroke="#111" stroke-width="1.3"/>
<line x1="1137.4" x2="1143.4" y1="1915.8" y2="1915.8" stroke="#111" stroke-width="1.3"/>
<line x1="1137.4" x2="1142.4" y1="1902.8" y2="1902.8" stroke="#111" stroke-width="1.3"/>
<line x1="1137.4" x2="1143.4" y1="1889.8" y2="1889.8" stroke="#111" stroke-width="1.3"/>
<line x1="1137.4" x2="1143.4" y1="1876.8" y2="1876.8" stroke="#111" stroke-width="1.3"/>
<line x1="1137.4" x2="1143.4" y1="1863.8" y2="1863.8" stroke="#111" stroke-width="1.3"/>
<line x1="1137.4" x2="1143.4" y1="1850.8" y2="1850.8" stroke="#111" stroke-width="1.3"/>
<line x1="1137.4" x2="1142.4" y1="1837.8" y2="1837.8" stroke="#111" stroke-width="1.3"/>
<line x1="1137.4" x2="1143.4" y1="1824.8" y2="1824.8" stroke="#111" stroke-width="1.3"/>
<line x1="1137.4" x2="1143.4" y1="1811.8" y2="1811.8" stroke="#111" stroke-width="1.3"/>
<line x1="1137.4" x2="1143.4" y1="1798.8" y2="1798.8" stroke="#111" stroke-width="1.3"/>
<line x1="1137.4" x2="1143.4" y1="1785.8" y2="1785.8" stroke="#111" stroke-width="1.3"/>
<line x1="1137.4" x2="1142.4" y1="1772.8" y2="1772.8" stroke="#111" stroke-width="1.3"/>
<line x1="1137.4" x2="1143.4" y1="1759.8" y2="1759.8" stroke="#111" stroke-width="1.3"/>
<line x1="1137.4" x2="1143.4" y1="1746.8" y2="1746.8" stroke="#111" stroke-width="1.3"/>
<line x1="1137.4" x2="1143.4" y1="1733.8" y2="1733.8" stroke="#111" stroke-width="1.3"/>
<line x1="1137.4" x2="1143.4" y1="1720.8" y2="1720.8" stroke="#111" stroke-width="1.3"/>
<line x1="1137.4" x2="1142.4" y1="1707.8" y2="1707.8" stroke="#111" stroke-width="1.3"/>
<text x="1143.5" y="1976.3" class="tk" font-size="25">0</text>
<text x="1143.5" y="1911.3" class="tk" font-size="25">0.5</text>
<text x="1143.5" y="1846.3" class="tk" font-size="25">1</text>
<text x="1143.5" y="1781.3" class="tk" font-size="25">1.5</text>
<text x="1143.5" y="1716.3" class="tk" font-size="25">2</text>
<line x1="21.5" x2="21.5" y1="1967.8" y2="1972.8" stroke="#111" stroke-width="1.5"/>
<text x="22.5" y="1993.8" class="tk" text-anchor="middle" font-size="25">0.5</text>
<line x1="151.3" x2="151.3" y1="1967.8" y2="1972.8" stroke="#111" stroke-width="1.5"/>
<text x="152.3" y="1993.8" class="tk" text-anchor="middle" font-size="25">1</text>
<line x1="281.1" x2="281.1" y1="1967.8" y2="1972.8" stroke="#111" stroke-width="1.5"/>
<text x="282.1" y="1993.8" class="tk" text-anchor="middle" font-size="25">1.5</text>
<line x1="410.9" x2="410.9" y1="1967.8" y2="1972.8" stroke="#111" stroke-width="1.5"/>
<text x="411.9" y="1993.8" class="tk" text-anchor="middle" font-size="25">2</text>
<line x1="540.7" x2="540.7" y1="1967.8" y2="1972.8" stroke="#111" stroke-width="1.5"/>
<text x="541.7" y="1993.8" class="tk" text-anchor="middle" font-size="25">2.5</text>
<line x1="670.5" x2="670.5" y1="1967.8" y2="1972.8" stroke="#111" stroke-width="1.5"/>
<text x="671.5" y="1993.8" class="tk" text-anchor="middle" font-size="25">3</text>
<line x1="800.3" x2="800.3" y1="1967.8" y2="1972.8" stroke="#111" stroke-width="1.5"/>
<text x="801.3" y="1993.8" class="tk" text-anchor="middle" font-size="25">3.5</text>
<line x1="930.1" x2="930.1" y1="1967.8" y2="1972.8" stroke="#111" stroke-width="1.5"/>
<text x="931.1" y="1993.8" class="tk" text-anchor="middle" font-size="25">4</text>
<line x1="1059.9" x2="1059.9" y1="1967.8" y2="1972.8" stroke="#111" stroke-width="1.5"/>
<text x="1060.9" y="1993.8" class="tk" text-anchor="middle" font-size="25">4.5</text>
<text x="1129.5" y="1993.8" class="tk" text-anchor="middle" font-size="25">4.8</text>
<text x="585.2" y="2010.7" class="it" font-size="25.5">x</text>
<text x="600.2" y="2010.7" class="tk" font-size="25.5">/m</text></svg></body></html>
